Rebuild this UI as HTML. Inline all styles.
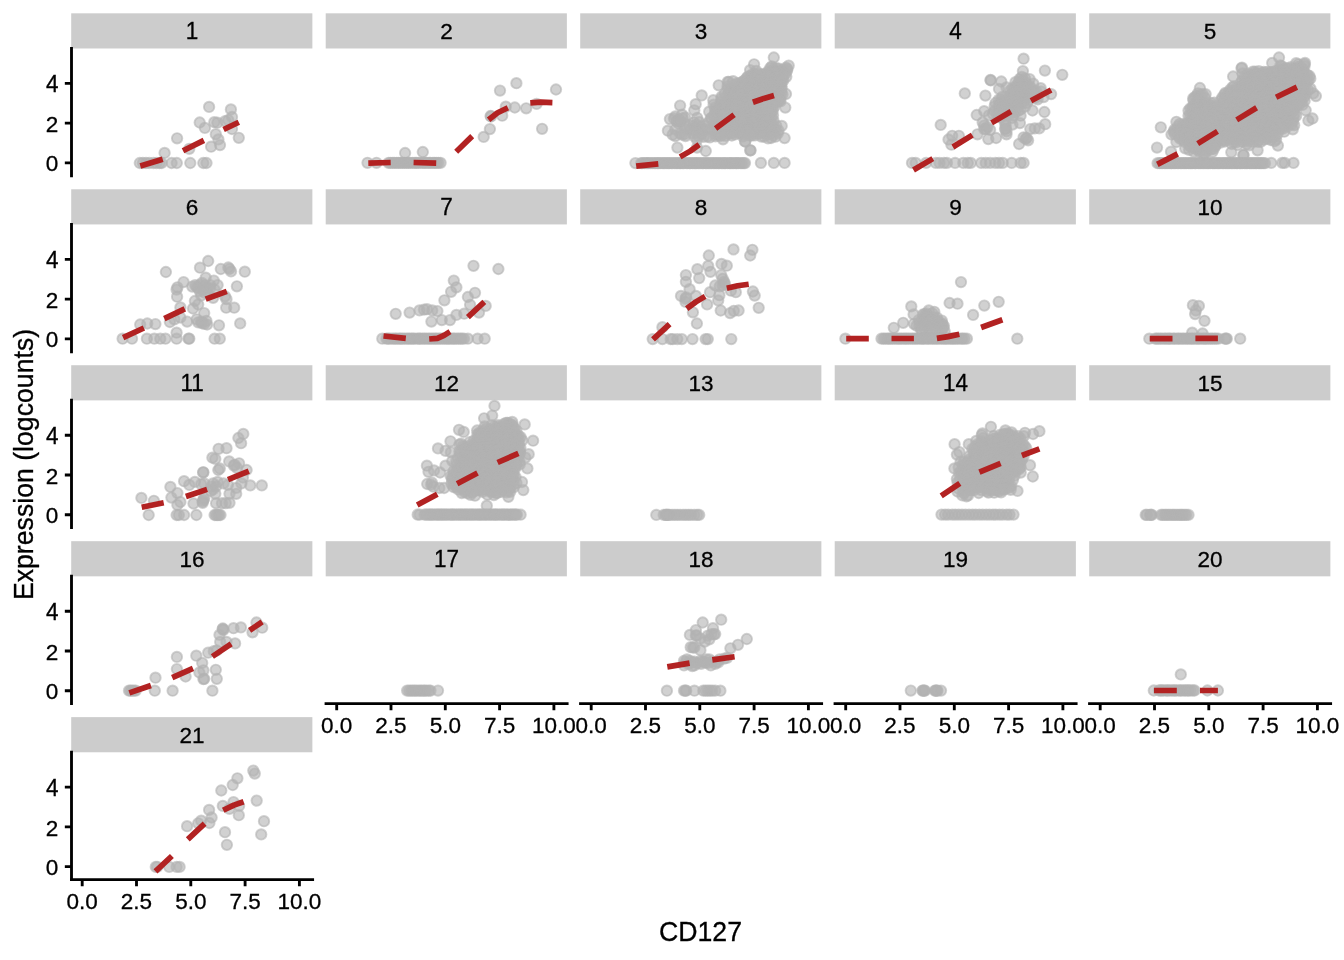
<!DOCTYPE html>
<html lang="en"><head><meta charset="utf-8"><title>CD127 expression by cluster</title>
<style>html,body{margin:0;padding:0;background:#fff}svg{display:block}text{font-family:"Liberation Sans",Arial,Helvetica,sans-serif;fill:#000;stroke:#000;stroke-width:.3px}.t{font-size:22.86px}.T{font-size:26.67px}.p circle{fill:#b3b3b3;fill-opacity:.6;stroke:#b3b3b3;stroke-opacity:.6;stroke-width:1.89}.d{fill:none;stroke:#b22222;stroke-width:5.69;stroke-linecap:butt;stroke-linejoin:round}.a{stroke:#000;stroke-width:2.85;fill:none;stroke-linecap:butt}</style></head><body>
<svg width="1344" height="960" viewBox="0 0 1344 960">
<rect width="1344" height="960" fill="#fff"/>
<g id="panel1">
<rect x="71.20" y="13.33" width="241.17" height="35.15" fill="#ccc"/>
<text class="t" transform="translate(192.08 38.83) scale(0.985 1.04)" text-anchor="middle">1</text>
<g class="p"><circle cx="209.1" cy="106.9" r="5.21"/><circle cx="230.9" cy="109.4" r="5.21"/><circle cx="232.0" cy="117.0" r="5.21"/><circle cx="199.7" cy="122.5" r="5.21"/><circle cx="204.9" cy="127.9" r="5.21"/><circle cx="214.3" cy="122.2" r="5.21"/><circle cx="217.4" cy="122.7" r="5.21"/><circle cx="225.2" cy="121.1" r="5.21"/><circle cx="228.3" cy="120.1" r="5.21"/><circle cx="232.0" cy="129.0" r="5.21"/><circle cx="238.8" cy="137.8" r="5.21"/><circle cx="215.8" cy="134.2" r="5.21"/><circle cx="218.4" cy="139.4" r="5.21"/><circle cx="220.0" cy="145.1" r="5.21"/><circle cx="211.1" cy="146.7" r="5.21"/><circle cx="177.1" cy="138.3" r="5.21"/><circle cx="189.3" cy="148.8" r="5.21"/><circle cx="164.6" cy="152.9" r="5.21"/><circle cx="139.8" cy="163.0" r="5.21"/><circle cx="142.9" cy="163.0" r="5.21"/><circle cx="146.0" cy="163.0" r="5.21"/><circle cx="149.2" cy="163.0" r="5.21"/><circle cx="153.3" cy="163.0" r="5.21"/><circle cx="156.5" cy="163.0" r="5.21"/><circle cx="159.6" cy="163.0" r="5.21"/><circle cx="161.7" cy="163.0" r="5.21"/><circle cx="171.6" cy="163.0" r="5.21"/><circle cx="176.8" cy="163.0" r="5.21"/><circle cx="190.3" cy="163.0" r="5.21"/><circle cx="203.3" cy="163.0" r="5.21"/><circle cx="206.5" cy="163.0" r="5.21"/></g>
<path class="d" d="M140.3,165.9 L162.7,159.2 M183.0,150.8 L203.9,140.4 M223.6,129.5 L238.8,122.2"/>
<path class="a" d="M71.50,177.20V46.93M64.83,162.86H71.50M64.83,123.12H71.50M64.83,83.38H71.50"/>
<text class="t" transform="translate(58.40 171.46) scale(0.985 0.98)" text-anchor="end">0</text>
<text class="t" transform="translate(58.40 131.92) scale(0.985 0.98)" text-anchor="end">2</text>
<text class="t" transform="translate(58.40 91.88) scale(0.985 1.04)" text-anchor="end">4</text>
</g>
<g id="panel2">
<rect x="325.70" y="13.33" width="241.17" height="35.15" fill="#ccc"/>
<text class="t" transform="translate(446.58 38.83) scale(0.985 0.98)" text-anchor="middle">2</text>
<g class="p"><circle cx="516.4" cy="83.2" r="5.21"/><circle cx="500.0" cy="90.6" r="5.21"/><circle cx="556.0" cy="89.5" r="5.21"/><circle cx="505.8" cy="106.7" r="5.21"/><circle cx="514.8" cy="107.5" r="5.21"/><circle cx="526.2" cy="108.3" r="5.21"/><circle cx="536.6" cy="103.9" r="5.21"/><circle cx="502.2" cy="115.7" r="5.21"/><circle cx="491.0" cy="116.5" r="5.21"/><circle cx="489.9" cy="129.1" r="5.21"/><circle cx="483.7" cy="136.9" r="5.21"/><circle cx="542.1" cy="128.8" r="5.21"/><circle cx="405.1" cy="153.0" r="5.21"/><circle cx="422.8" cy="152.0" r="5.21"/><circle cx="490.6" cy="116.0" r="5.21"/><circle cx="367.5" cy="162.8" r="5.21"/><circle cx="376.5" cy="162.8" r="5.21"/><circle cx="388.6" cy="162.8" r="5.21"/><circle cx="390.5" cy="162.8" r="5.21"/><circle cx="392.9" cy="162.8" r="5.21"/><circle cx="394.4" cy="162.8" r="5.21"/><circle cx="396.8" cy="162.8" r="5.21"/><circle cx="398.6" cy="162.8" r="5.21"/><circle cx="400.4" cy="162.8" r="5.21"/><circle cx="402.7" cy="162.8" r="5.21"/><circle cx="404.4" cy="162.8" r="5.21"/><circle cx="406.7" cy="162.8" r="5.21"/><circle cx="408.4" cy="162.8" r="5.21"/><circle cx="410.4" cy="162.8" r="5.21"/><circle cx="412.7" cy="162.8" r="5.21"/><circle cx="415.0" cy="162.8" r="5.21"/><circle cx="416.4" cy="162.8" r="5.21"/><circle cx="418.5" cy="162.8" r="5.21"/><circle cx="420.8" cy="162.8" r="5.21"/><circle cx="423.1" cy="162.8" r="5.21"/><circle cx="424.8" cy="162.8" r="5.21"/><circle cx="426.7" cy="162.8" r="5.21"/><circle cx="429.1" cy="162.8" r="5.21"/><circle cx="430.4" cy="162.8" r="5.21"/><circle cx="433.0" cy="162.8" r="5.21"/><circle cx="434.6" cy="162.8" r="5.21"/><circle cx="436.5" cy="162.8" r="5.21"/><circle cx="438.4" cy="162.8" r="5.21"/><circle cx="440.6" cy="162.8" r="5.21"/></g>
<path class="d" d="M368.3,163.1 L390.7,162.5 M413.6,162.5 L436.2,163.1 M456.2,151.7 L472.2,136.1 M488.6,119.7 L497.6,112.7 L507.9,107.8 M530.3,102.9 L541.0,102.2 L552.4,102.6"/>
</g>
<g id="panel3">
<rect x="580.20" y="13.33" width="241.17" height="35.15" fill="#ccc"/>
<text class="t" transform="translate(701.09 38.83) scale(0.985 0.98)" text-anchor="middle">3</text>
<g class="p"><circle cx="771.8" cy="66.4" r="5.21"/><circle cx="770.2" cy="68.0" r="5.21"/><circle cx="772.8" cy="68.7" r="5.21"/><circle cx="776.3" cy="68.2" r="5.21"/><circle cx="778.9" cy="68.6" r="5.21"/><circle cx="786.0" cy="67.6" r="5.21"/><circle cx="787.3" cy="68.8" r="5.21"/><circle cx="750.1" cy="70.1" r="5.21"/><circle cx="756.3" cy="70.9" r="5.21"/><circle cx="768.0" cy="71.5" r="5.21"/><circle cx="771.7" cy="71.5" r="5.21"/><circle cx="774.7" cy="71.3" r="5.21"/><circle cx="777.4" cy="71.5" r="5.21"/><circle cx="780.9" cy="70.8" r="5.21"/><circle cx="782.9" cy="70.3" r="5.21"/><circle cx="787.1" cy="70.5" r="5.21"/><circle cx="752.6" cy="74.2" r="5.21"/><circle cx="754.9" cy="74.4" r="5.21"/><circle cx="758.6" cy="73.8" r="5.21"/><circle cx="761.8" cy="74.3" r="5.21"/><circle cx="764.6" cy="74.1" r="5.21"/><circle cx="767.2" cy="73.6" r="5.21"/><circle cx="770.7" cy="74.1" r="5.21"/><circle cx="773.9" cy="73.9" r="5.21"/><circle cx="775.7" cy="72.7" r="5.21"/><circle cx="778.9" cy="72.8" r="5.21"/><circle cx="782.3" cy="73.8" r="5.21"/><circle cx="785.5" cy="73.5" r="5.21"/><circle cx="748.0" cy="76.5" r="5.21"/><circle cx="750.7" cy="76.1" r="5.21"/><circle cx="753.0" cy="76.9" r="5.21"/><circle cx="757.5" cy="76.9" r="5.21"/><circle cx="759.6" cy="76.7" r="5.21"/><circle cx="762.6" cy="75.7" r="5.21"/><circle cx="766.5" cy="75.6" r="5.21"/><circle cx="768.0" cy="76.2" r="5.21"/><circle cx="771.0" cy="76.7" r="5.21"/><circle cx="775.4" cy="76.5" r="5.21"/><circle cx="778.4" cy="76.1" r="5.21"/><circle cx="779.8" cy="76.1" r="5.21"/><circle cx="783.3" cy="75.5" r="5.21"/><circle cx="786.3" cy="76.8" r="5.21"/><circle cx="746.6" cy="78.0" r="5.21"/><circle cx="749.1" cy="79.2" r="5.21"/><circle cx="751.8" cy="78.0" r="5.21"/><circle cx="754.5" cy="78.7" r="5.21"/><circle cx="757.8" cy="79.2" r="5.21"/><circle cx="760.7" cy="79.1" r="5.21"/><circle cx="764.3" cy="78.6" r="5.21"/><circle cx="766.6" cy="78.2" r="5.21"/><circle cx="770.2" cy="78.3" r="5.21"/><circle cx="774.1" cy="78.7" r="5.21"/><circle cx="775.6" cy="78.0" r="5.21"/><circle cx="778.4" cy="78.3" r="5.21"/><circle cx="782.3" cy="79.5" r="5.21"/><circle cx="742.3" cy="82.0" r="5.21"/><circle cx="744.2" cy="80.7" r="5.21"/><circle cx="751.1" cy="81.6" r="5.21"/><circle cx="753.6" cy="81.5" r="5.21"/><circle cx="757.2" cy="80.9" r="5.21"/><circle cx="759.9" cy="81.0" r="5.21"/><circle cx="762.2" cy="81.6" r="5.21"/><circle cx="765.0" cy="80.6" r="5.21"/><circle cx="768.8" cy="81.2" r="5.21"/><circle cx="771.8" cy="80.5" r="5.21"/><circle cx="774.6" cy="82.2" r="5.21"/><circle cx="778.4" cy="81.3" r="5.21"/><circle cx="780.2" cy="82.2" r="5.21"/><circle cx="783.3" cy="80.5" r="5.21"/><circle cx="734.5" cy="84.8" r="5.21"/><circle cx="737.0" cy="83.5" r="5.21"/><circle cx="739.5" cy="83.2" r="5.21"/><circle cx="743.0" cy="84.7" r="5.21"/><circle cx="746.6" cy="84.9" r="5.21"/><circle cx="748.9" cy="83.4" r="5.21"/><circle cx="752.6" cy="83.1" r="5.21"/><circle cx="754.9" cy="83.8" r="5.21"/><circle cx="757.6" cy="83.1" r="5.21"/><circle cx="760.9" cy="84.8" r="5.21"/><circle cx="765.0" cy="83.5" r="5.21"/><circle cx="767.7" cy="84.6" r="5.21"/><circle cx="769.4" cy="83.9" r="5.21"/><circle cx="773.9" cy="83.4" r="5.21"/><circle cx="776.9" cy="83.1" r="5.21"/><circle cx="779.7" cy="84.5" r="5.21"/><circle cx="781.3" cy="83.2" r="5.21"/><circle cx="727.5" cy="86.4" r="5.21"/><circle cx="736.2" cy="87.1" r="5.21"/><circle cx="738.4" cy="86.3" r="5.21"/><circle cx="742.2" cy="85.8" r="5.21"/><circle cx="745.1" cy="86.1" r="5.21"/><circle cx="746.8" cy="86.7" r="5.21"/><circle cx="751.5" cy="87.3" r="5.21"/><circle cx="753.2" cy="85.9" r="5.21"/><circle cx="756.7" cy="87.0" r="5.21"/><circle cx="759.2" cy="86.5" r="5.21"/><circle cx="763.0" cy="87.0" r="5.21"/><circle cx="766.0" cy="85.9" r="5.21"/><circle cx="768.3" cy="86.7" r="5.21"/><circle cx="772.1" cy="86.1" r="5.21"/><circle cx="774.2" cy="86.0" r="5.21"/><circle cx="777.8" cy="86.3" r="5.21"/><circle cx="781.6" cy="86.6" r="5.21"/><circle cx="727.7" cy="89.0" r="5.21"/><circle cx="730.6" cy="88.8" r="5.21"/><circle cx="734.4" cy="88.7" r="5.21"/><circle cx="736.9" cy="89.5" r="5.21"/><circle cx="739.8" cy="88.7" r="5.21"/><circle cx="743.3" cy="88.4" r="5.21"/><circle cx="746.0" cy="89.3" r="5.21"/><circle cx="748.4" cy="88.6" r="5.21"/><circle cx="752.0" cy="88.8" r="5.21"/><circle cx="756.0" cy="88.9" r="5.21"/><circle cx="757.9" cy="89.1" r="5.21"/><circle cx="762.1" cy="89.0" r="5.21"/><circle cx="764.6" cy="88.7" r="5.21"/><circle cx="767.9" cy="89.1" r="5.21"/><circle cx="770.0" cy="89.9" r="5.21"/><circle cx="772.6" cy="88.3" r="5.21"/><circle cx="776.4" cy="89.9" r="5.21"/><circle cx="779.4" cy="89.0" r="5.21"/><circle cx="781.5" cy="88.8" r="5.21"/><circle cx="729.1" cy="91.3" r="5.21"/><circle cx="732.7" cy="91.6" r="5.21"/><circle cx="735.2" cy="92.2" r="5.21"/><circle cx="737.8" cy="91.9" r="5.21"/><circle cx="740.8" cy="92.4" r="5.21"/><circle cx="744.8" cy="91.9" r="5.21"/><circle cx="747.3" cy="91.7" r="5.21"/><circle cx="750.5" cy="92.1" r="5.21"/><circle cx="753.6" cy="91.0" r="5.21"/><circle cx="756.6" cy="91.3" r="5.21"/><circle cx="760.2" cy="91.7" r="5.21"/><circle cx="762.6" cy="91.1" r="5.21"/><circle cx="765.5" cy="91.1" r="5.21"/><circle cx="768.7" cy="91.0" r="5.21"/><circle cx="770.9" cy="92.2" r="5.21"/><circle cx="774.7" cy="91.0" r="5.21"/><circle cx="777.4" cy="92.6" r="5.21"/><circle cx="781.3" cy="92.7" r="5.21"/><circle cx="724.8" cy="93.6" r="5.21"/><circle cx="731.9" cy="93.8" r="5.21"/><circle cx="733.5" cy="94.5" r="5.21"/><circle cx="736.9" cy="95.1" r="5.21"/><circle cx="740.3" cy="95.1" r="5.21"/><circle cx="744.1" cy="94.7" r="5.21"/><circle cx="746.7" cy="94.0" r="5.21"/><circle cx="749.3" cy="94.2" r="5.21"/><circle cx="752.1" cy="93.8" r="5.21"/><circle cx="754.4" cy="95.0" r="5.21"/><circle cx="758.4" cy="95.3" r="5.21"/><circle cx="761.5" cy="94.1" r="5.21"/><circle cx="763.3" cy="93.8" r="5.21"/><circle cx="767.0" cy="94.5" r="5.21"/><circle cx="769.5" cy="93.9" r="5.21"/><circle cx="772.3" cy="93.5" r="5.21"/><circle cx="775.5" cy="94.2" r="5.21"/><circle cx="779.3" cy="94.6" r="5.21"/><circle cx="782.4" cy="94.4" r="5.21"/><circle cx="786.0" cy="94.0" r="5.21"/><circle cx="726.5" cy="96.6" r="5.21"/><circle cx="730.2" cy="96.2" r="5.21"/><circle cx="733.5" cy="96.4" r="5.21"/><circle cx="735.9" cy="97.1" r="5.21"/><circle cx="739.2" cy="96.5" r="5.21"/><circle cx="741.3" cy="96.2" r="5.21"/><circle cx="745.2" cy="97.4" r="5.21"/><circle cx="748.3" cy="97.5" r="5.21"/><circle cx="751.1" cy="97.0" r="5.21"/><circle cx="753.0" cy="96.6" r="5.21"/><circle cx="756.4" cy="97.5" r="5.21"/><circle cx="760.3" cy="97.4" r="5.21"/><circle cx="762.8" cy="96.9" r="5.21"/><circle cx="765.7" cy="96.6" r="5.21"/><circle cx="769.5" cy="96.5" r="5.21"/><circle cx="770.8" cy="96.6" r="5.21"/><circle cx="775.1" cy="97.8" r="5.21"/><circle cx="777.4" cy="97.7" r="5.21"/><circle cx="780.2" cy="97.8" r="5.21"/><circle cx="721.5" cy="98.8" r="5.21"/><circle cx="728.6" cy="98.9" r="5.21"/><circle cx="730.9" cy="100.2" r="5.21"/><circle cx="734.9" cy="98.9" r="5.21"/><circle cx="737.9" cy="100.5" r="5.21"/><circle cx="739.6" cy="99.0" r="5.21"/><circle cx="743.8" cy="100.2" r="5.21"/><circle cx="746.8" cy="99.9" r="5.21"/><circle cx="748.4" cy="98.9" r="5.21"/><circle cx="751.6" cy="99.3" r="5.21"/><circle cx="754.3" cy="99.2" r="5.21"/><circle cx="758.6" cy="99.4" r="5.21"/><circle cx="762.0" cy="99.7" r="5.21"/><circle cx="764.4" cy="98.8" r="5.21"/><circle cx="767.1" cy="100.1" r="5.21"/><circle cx="770.5" cy="99.7" r="5.21"/><circle cx="773.8" cy="98.9" r="5.21"/><circle cx="775.6" cy="98.8" r="5.21"/><circle cx="779.6" cy="100.5" r="5.21"/><circle cx="720.9" cy="102.0" r="5.21"/><circle cx="723.5" cy="103.0" r="5.21"/><circle cx="727.4" cy="101.4" r="5.21"/><circle cx="729.2" cy="103.0" r="5.21"/><circle cx="732.5" cy="103.0" r="5.21"/><circle cx="735.6" cy="102.3" r="5.21"/><circle cx="739.1" cy="102.5" r="5.21"/><circle cx="741.4" cy="101.6" r="5.21"/><circle cx="745.0" cy="102.7" r="5.21"/><circle cx="747.6" cy="102.8" r="5.21"/><circle cx="750.0" cy="102.2" r="5.21"/><circle cx="753.2" cy="101.7" r="5.21"/><circle cx="757.0" cy="102.9" r="5.21"/><circle cx="759.0" cy="101.8" r="5.21"/><circle cx="762.7" cy="101.7" r="5.21"/><circle cx="765.1" cy="103.1" r="5.21"/><circle cx="768.0" cy="103.1" r="5.21"/><circle cx="771.5" cy="103.1" r="5.21"/><circle cx="775.1" cy="102.1" r="5.21"/><circle cx="777.9" cy="101.6" r="5.21"/><circle cx="780.5" cy="101.4" r="5.21"/><circle cx="713.6" cy="104.7" r="5.21"/><circle cx="719.5" cy="105.5" r="5.21"/><circle cx="722.4" cy="104.8" r="5.21"/><circle cx="725.4" cy="104.1" r="5.21"/><circle cx="728.7" cy="105.3" r="5.21"/><circle cx="730.7" cy="104.7" r="5.21"/><circle cx="734.4" cy="104.7" r="5.21"/><circle cx="737.9" cy="104.3" r="5.21"/><circle cx="740.7" cy="104.7" r="5.21"/><circle cx="744.0" cy="104.0" r="5.21"/><circle cx="745.6" cy="105.4" r="5.21"/><circle cx="749.2" cy="104.2" r="5.21"/><circle cx="752.2" cy="105.3" r="5.21"/><circle cx="755.4" cy="105.5" r="5.21"/><circle cx="758.0" cy="105.7" r="5.21"/><circle cx="761.5" cy="104.7" r="5.21"/><circle cx="763.5" cy="105.7" r="5.21"/><circle cx="766.4" cy="104.5" r="5.21"/><circle cx="769.3" cy="104.7" r="5.21"/><circle cx="773.5" cy="104.6" r="5.21"/><circle cx="715.2" cy="107.4" r="5.21"/><circle cx="720.4" cy="108.1" r="5.21"/><circle cx="723.4" cy="107.0" r="5.21"/><circle cx="726.1" cy="106.6" r="5.21"/><circle cx="729.3" cy="107.0" r="5.21"/><circle cx="732.6" cy="107.4" r="5.21"/><circle cx="736.0" cy="107.2" r="5.21"/><circle cx="739.3" cy="106.7" r="5.21"/><circle cx="742.4" cy="108.0" r="5.21"/><circle cx="745.3" cy="107.7" r="5.21"/><circle cx="746.8" cy="108.3" r="5.21"/><circle cx="750.2" cy="106.8" r="5.21"/><circle cx="753.2" cy="108.0" r="5.21"/><circle cx="756.0" cy="108.2" r="5.21"/><circle cx="759.1" cy="108.2" r="5.21"/><circle cx="763.2" cy="107.8" r="5.21"/><circle cx="766.2" cy="108.1" r="5.21"/><circle cx="769.0" cy="107.5" r="5.21"/><circle cx="771.6" cy="108.2" r="5.21"/><circle cx="774.2" cy="107.0" r="5.21"/><circle cx="715.3" cy="110.3" r="5.21"/><circle cx="719.9" cy="109.8" r="5.21"/><circle cx="722.2" cy="110.1" r="5.21"/><circle cx="724.3" cy="110.5" r="5.21"/><circle cx="727.9" cy="110.7" r="5.21"/><circle cx="731.1" cy="110.1" r="5.21"/><circle cx="733.6" cy="110.0" r="5.21"/><circle cx="737.3" cy="110.7" r="5.21"/><circle cx="740.8" cy="109.9" r="5.21"/><circle cx="742.8" cy="110.1" r="5.21"/><circle cx="746.4" cy="110.6" r="5.21"/><circle cx="748.8" cy="109.7" r="5.21"/><circle cx="752.4" cy="110.6" r="5.21"/><circle cx="755.6" cy="110.8" r="5.21"/><circle cx="757.4" cy="109.7" r="5.21"/><circle cx="760.6" cy="110.9" r="5.21"/><circle cx="764.5" cy="110.6" r="5.21"/><circle cx="767.4" cy="110.3" r="5.21"/><circle cx="770.5" cy="110.3" r="5.21"/><circle cx="772.7" cy="110.4" r="5.21"/><circle cx="715.4" cy="111.9" r="5.21"/><circle cx="716.8" cy="112.0" r="5.21"/><circle cx="720.8" cy="113.5" r="5.21"/><circle cx="722.8" cy="112.5" r="5.21"/><circle cx="727.5" cy="113.6" r="5.21"/><circle cx="729.5" cy="112.0" r="5.21"/><circle cx="732.2" cy="112.1" r="5.21"/><circle cx="734.8" cy="113.0" r="5.21"/><circle cx="739.5" cy="112.0" r="5.21"/><circle cx="741.0" cy="111.8" r="5.21"/><circle cx="744.2" cy="113.1" r="5.21"/><circle cx="746.9" cy="113.2" r="5.21"/><circle cx="751.3" cy="113.1" r="5.21"/><circle cx="753.9" cy="113.1" r="5.21"/><circle cx="757.4" cy="112.3" r="5.21"/><circle cx="760.1" cy="111.8" r="5.21"/><circle cx="762.9" cy="113.3" r="5.21"/><circle cx="765.3" cy="113.1" r="5.21"/><circle cx="769.3" cy="112.7" r="5.21"/><circle cx="771.4" cy="112.8" r="5.21"/><circle cx="714.0" cy="115.9" r="5.21"/><circle cx="715.8" cy="115.2" r="5.21"/><circle cx="718.9" cy="115.6" r="5.21"/><circle cx="722.9" cy="115.9" r="5.21"/><circle cx="724.3" cy="114.9" r="5.21"/><circle cx="728.3" cy="115.9" r="5.21"/><circle cx="730.3" cy="115.9" r="5.21"/><circle cx="734.8" cy="115.4" r="5.21"/><circle cx="737.8" cy="115.9" r="5.21"/><circle cx="740.9" cy="115.0" r="5.21"/><circle cx="743.3" cy="115.8" r="5.21"/><circle cx="746.6" cy="116.1" r="5.21"/><circle cx="749.4" cy="115.6" r="5.21"/><circle cx="751.6" cy="114.9" r="5.21"/><circle cx="755.7" cy="115.2" r="5.21"/><circle cx="758.7" cy="115.8" r="5.21"/><circle cx="761.3" cy="116.0" r="5.21"/><circle cx="764.2" cy="115.3" r="5.21"/><circle cx="766.6" cy="114.8" r="5.21"/><circle cx="770.5" cy="115.1" r="5.21"/><circle cx="773.0" cy="115.3" r="5.21"/><circle cx="711.6" cy="118.0" r="5.21"/><circle cx="718.1" cy="118.5" r="5.21"/><circle cx="720.2" cy="117.1" r="5.21"/><circle cx="723.1" cy="117.2" r="5.21"/><circle cx="726.8" cy="118.6" r="5.21"/><circle cx="730.5" cy="118.7" r="5.21"/><circle cx="732.8" cy="117.7" r="5.21"/><circle cx="736.5" cy="117.5" r="5.21"/><circle cx="738.9" cy="118.7" r="5.21"/><circle cx="741.5" cy="117.8" r="5.21"/><circle cx="745.5" cy="118.8" r="5.21"/><circle cx="746.8" cy="117.5" r="5.21"/><circle cx="751.4" cy="118.6" r="5.21"/><circle cx="752.9" cy="118.4" r="5.21"/><circle cx="756.9" cy="118.8" r="5.21"/><circle cx="759.0" cy="118.4" r="5.21"/><circle cx="763.0" cy="117.6" r="5.21"/><circle cx="766.1" cy="117.2" r="5.21"/><circle cx="768.2" cy="117.2" r="5.21"/><circle cx="771.1" cy="117.5" r="5.21"/><circle cx="715.5" cy="120.0" r="5.21"/><circle cx="719.6" cy="120.6" r="5.21"/><circle cx="722.8" cy="120.1" r="5.21"/><circle cx="724.5" cy="120.1" r="5.21"/><circle cx="727.9" cy="119.9" r="5.21"/><circle cx="730.8" cy="121.3" r="5.21"/><circle cx="735.0" cy="119.7" r="5.21"/><circle cx="737.5" cy="120.0" r="5.21"/><circle cx="739.8" cy="120.1" r="5.21"/><circle cx="742.9" cy="121.4" r="5.21"/><circle cx="746.9" cy="119.8" r="5.21"/><circle cx="749.9" cy="119.7" r="5.21"/><circle cx="751.8" cy="121.4" r="5.21"/><circle cx="755.7" cy="120.2" r="5.21"/><circle cx="757.3" cy="121.1" r="5.21"/><circle cx="760.6" cy="120.4" r="5.21"/><circle cx="763.7" cy="120.7" r="5.21"/><circle cx="766.6" cy="121.0" r="5.21"/><circle cx="769.6" cy="119.8" r="5.21"/><circle cx="773.4" cy="120.5" r="5.21"/><circle cx="714.6" cy="123.8" r="5.21"/><circle cx="717.1" cy="123.7" r="5.21"/><circle cx="720.1" cy="122.9" r="5.21"/><circle cx="722.8" cy="123.2" r="5.21"/><circle cx="726.7" cy="122.5" r="5.21"/><circle cx="730.2" cy="123.8" r="5.21"/><circle cx="733.0" cy="122.9" r="5.21"/><circle cx="734.9" cy="123.8" r="5.21"/><circle cx="738.7" cy="123.2" r="5.21"/><circle cx="741.7" cy="122.3" r="5.21"/><circle cx="744.2" cy="122.6" r="5.21"/><circle cx="747.2" cy="123.7" r="5.21"/><circle cx="749.9" cy="123.5" r="5.21"/><circle cx="752.8" cy="123.3" r="5.21"/><circle cx="756.7" cy="123.5" r="5.21"/><circle cx="760.3" cy="123.5" r="5.21"/><circle cx="762.0" cy="123.1" r="5.21"/><circle cx="765.3" cy="122.5" r="5.21"/><circle cx="768.0" cy="123.3" r="5.21"/><circle cx="771.0" cy="123.3" r="5.21"/><circle cx="714.0" cy="126.5" r="5.21"/><circle cx="716.0" cy="126.0" r="5.21"/><circle cx="719.2" cy="125.0" r="5.21"/><circle cx="722.2" cy="124.9" r="5.21"/><circle cx="726.0" cy="126.2" r="5.21"/><circle cx="728.4" cy="126.3" r="5.21"/><circle cx="731.9" cy="124.9" r="5.21"/><circle cx="733.7" cy="126.1" r="5.21"/><circle cx="737.2" cy="126.5" r="5.21"/><circle cx="739.7" cy="125.8" r="5.21"/><circle cx="744.0" cy="125.4" r="5.21"/><circle cx="746.4" cy="125.1" r="5.21"/><circle cx="750.0" cy="125.8" r="5.21"/><circle cx="752.1" cy="125.8" r="5.21"/><circle cx="754.5" cy="125.1" r="5.21"/><circle cx="758.0" cy="125.4" r="5.21"/><circle cx="760.4" cy="125.8" r="5.21"/><circle cx="764.4" cy="125.9" r="5.21"/><circle cx="766.6" cy="126.1" r="5.21"/><circle cx="770.3" cy="126.0" r="5.21"/><circle cx="772.8" cy="125.3" r="5.21"/><circle cx="776.2" cy="125.5" r="5.21"/><circle cx="781.7" cy="125.9" r="5.21"/><circle cx="718.1" cy="127.7" r="5.21"/><circle cx="720.4" cy="128.7" r="5.21"/><circle cx="724.3" cy="128.9" r="5.21"/><circle cx="727.1" cy="128.8" r="5.21"/><circle cx="729.6" cy="128.9" r="5.21"/><circle cx="733.4" cy="127.7" r="5.21"/><circle cx="734.8" cy="128.8" r="5.21"/><circle cx="738.7" cy="129.2" r="5.21"/><circle cx="741.5" cy="128.9" r="5.21"/><circle cx="744.9" cy="128.1" r="5.21"/><circle cx="747.6" cy="128.8" r="5.21"/><circle cx="750.5" cy="128.5" r="5.21"/><circle cx="753.3" cy="128.9" r="5.21"/><circle cx="756.7" cy="128.3" r="5.21"/><circle cx="759.3" cy="127.7" r="5.21"/><circle cx="762.8" cy="127.6" r="5.21"/><circle cx="765.4" cy="129.0" r="5.21"/><circle cx="769.5" cy="127.8" r="5.21"/><circle cx="772.4" cy="127.5" r="5.21"/><circle cx="774.8" cy="128.4" r="5.21"/><circle cx="714.0" cy="130.9" r="5.21"/><circle cx="716.4" cy="131.9" r="5.21"/><circle cx="719.2" cy="131.5" r="5.21"/><circle cx="721.8" cy="131.8" r="5.21"/><circle cx="725.2" cy="130.3" r="5.21"/><circle cx="728.5" cy="131.5" r="5.21"/><circle cx="731.9" cy="130.8" r="5.21"/><circle cx="733.8" cy="131.0" r="5.21"/><circle cx="736.6" cy="130.4" r="5.21"/><circle cx="740.4" cy="130.7" r="5.21"/><circle cx="743.4" cy="130.1" r="5.21"/><circle cx="746.7" cy="130.6" r="5.21"/><circle cx="748.3" cy="130.6" r="5.21"/><circle cx="752.3" cy="131.3" r="5.21"/><circle cx="755.2" cy="131.1" r="5.21"/><circle cx="758.4" cy="131.0" r="5.21"/><circle cx="761.3" cy="130.8" r="5.21"/><circle cx="763.6" cy="131.4" r="5.21"/><circle cx="766.4" cy="130.4" r="5.21"/><circle cx="770.7" cy="131.2" r="5.21"/><circle cx="772.4" cy="130.1" r="5.21"/><circle cx="775.8" cy="131.4" r="5.21"/><circle cx="778.6" cy="130.6" r="5.21"/><circle cx="715.4" cy="134.2" r="5.21"/><circle cx="718.4" cy="134.2" r="5.21"/><circle cx="720.9" cy="134.4" r="5.21"/><circle cx="724.5" cy="133.1" r="5.21"/><circle cx="727.1" cy="133.1" r="5.21"/><circle cx="730.3" cy="133.6" r="5.21"/><circle cx="732.2" cy="133.0" r="5.21"/><circle cx="735.1" cy="134.4" r="5.21"/><circle cx="738.8" cy="132.9" r="5.21"/><circle cx="741.5" cy="133.4" r="5.21"/><circle cx="744.0" cy="134.2" r="5.21"/><circle cx="747.2" cy="133.0" r="5.21"/><circle cx="750.2" cy="132.7" r="5.21"/><circle cx="753.4" cy="133.0" r="5.21"/><circle cx="755.9" cy="133.2" r="5.21"/><circle cx="759.0" cy="133.5" r="5.21"/><circle cx="763.2" cy="133.0" r="5.21"/><circle cx="766.1" cy="133.4" r="5.21"/><circle cx="768.1" cy="134.4" r="5.21"/><circle cx="771.2" cy="133.5" r="5.21"/><circle cx="777.8" cy="133.3" r="5.21"/><circle cx="715.5" cy="136.3" r="5.21"/><circle cx="719.2" cy="135.8" r="5.21"/><circle cx="721.8" cy="135.7" r="5.21"/><circle cx="725.6" cy="135.8" r="5.21"/><circle cx="731.8" cy="135.5" r="5.21"/><circle cx="742.9" cy="136.4" r="5.21"/><circle cx="749.6" cy="135.4" r="5.21"/><circle cx="751.6" cy="135.6" r="5.21"/><circle cx="755.0" cy="135.4" r="5.21"/><circle cx="761.3" cy="136.6" r="5.21"/><circle cx="764.1" cy="136.5" r="5.21"/><circle cx="773.4" cy="135.4" r="5.21"/><circle cx="775.5" cy="136.7" r="5.21"/><circle cx="723.0" cy="139.3" r="5.21"/><circle cx="768.0" cy="138.4" r="5.21"/><circle cx="771.1" cy="138.0" r="5.21"/><circle cx="697.2" cy="117.8" r="5.21"/><circle cx="694.1" cy="122.3" r="5.21"/><circle cx="699.2" cy="122.0" r="5.21"/><circle cx="707.9" cy="123.0" r="5.21"/><circle cx="688.9" cy="125.1" r="5.21"/><circle cx="693.2" cy="126.2" r="5.21"/><circle cx="696.8" cy="125.3" r="5.21"/><circle cx="700.8" cy="126.6" r="5.21"/><circle cx="704.4" cy="125.6" r="5.21"/><circle cx="690.3" cy="129.3" r="5.21"/><circle cx="694.8" cy="129.2" r="5.21"/><circle cx="698.8" cy="130.4" r="5.21"/><circle cx="702.5" cy="129.9" r="5.21"/><circle cx="706.9" cy="129.5" r="5.21"/><circle cx="685.0" cy="134.1" r="5.21"/><circle cx="693.1" cy="133.4" r="5.21"/><circle cx="696.6" cy="132.8" r="5.21"/><circle cx="701.7" cy="134.0" r="5.21"/><circle cx="694.5" cy="136.4" r="5.21"/><circle cx="698.6" cy="136.2" r="5.21"/><circle cx="703.8" cy="136.8" r="5.21"/><circle cx="707.4" cy="136.5" r="5.21"/><circle cx="697.0" cy="139.8" r="5.21"/><circle cx="674.0" cy="118.5" r="5.21"/><circle cx="676.7" cy="121.2" r="5.21"/><circle cx="678.7" cy="119.1" r="5.21"/><circle cx="680.7" cy="121.8" r="5.21"/><circle cx="682.8" cy="118.5" r="5.21"/><circle cx="678.0" cy="123.2" r="5.21"/><circle cx="675.3" cy="116.4" r="5.21"/><circle cx="684.1" cy="123.2" r="5.21"/><circle cx="682.1" cy="114.7" r="5.21"/><circle cx="685.1" cy="117.4" r="5.21"/><circle cx="680.1" cy="133.4" r="5.21"/><circle cx="675.3" cy="129.3" r="5.21"/><circle cx="672.6" cy="134.7" r="5.21"/><circle cx="677.4" cy="120.9" r="5.21"/><circle cx="679.4" cy="120.5" r="5.21"/><circle cx="686.2" cy="129.3" r="5.21"/><circle cx="685.5" cy="136.1" r="5.21"/><circle cx="669.9" cy="119.1" r="5.21"/><circle cx="667.9" cy="130.7" r="5.21"/><circle cx="677.4" cy="147.6" r="5.21"/><circle cx="680.1" cy="105.6" r="5.21"/><circle cx="675.3" cy="136.1" r="5.21"/><circle cx="682.1" cy="134.7" r="5.21"/><circle cx="695.7" cy="104.2" r="5.21"/><circle cx="694.3" cy="110.3" r="5.21"/><circle cx="701.7" cy="95.4" r="5.21"/><circle cx="713.3" cy="100.2" r="5.21"/><circle cx="718.7" cy="85.3" r="5.21"/><circle cx="721.4" cy="96.8" r="5.21"/><circle cx="728.8" cy="81.9" r="5.21"/><circle cx="745.1" cy="141.5" r="5.21"/><circle cx="750.5" cy="150.3" r="5.21"/><circle cx="705.8" cy="151.0" r="5.21"/><circle cx="697.0" cy="147.6" r="5.21"/><circle cx="710.6" cy="118.5" r="5.21"/><circle cx="711.2" cy="129.3" r="5.21"/><circle cx="709.9" cy="137.4" r="5.21"/><circle cx="709.2" cy="111.7" r="5.21"/><circle cx="727.7" cy="81.9" r="5.21"/><circle cx="733.1" cy="81.2" r="5.21"/><circle cx="754.1" cy="64.3" r="5.21"/><circle cx="773.8" cy="57.5" r="5.21"/><circle cx="785.3" cy="107.6" r="5.21"/><circle cx="784.6" cy="138.1" r="5.21"/><circle cx="745.3" cy="141.5" r="5.21"/><circle cx="750.3" cy="150.3" r="5.21"/><circle cx="788.7" cy="65.6" r="5.21"/><circle cx="635.4" cy="163.1" r="5.21"/><circle cx="641.2" cy="163.1" r="5.21"/><circle cx="642.4" cy="163.1" r="5.21"/><circle cx="644.5" cy="163.1" r="5.21"/><circle cx="646.2" cy="163.1" r="5.21"/><circle cx="647.4" cy="163.1" r="5.21"/><circle cx="648.8" cy="163.1" r="5.21"/><circle cx="650.5" cy="163.1" r="5.21"/><circle cx="652.3" cy="163.1" r="5.21"/><circle cx="654.2" cy="163.1" r="5.21"/><circle cx="655.6" cy="163.1" r="5.21"/><circle cx="657.4" cy="163.1" r="5.21"/><circle cx="658.5" cy="163.1" r="5.21"/><circle cx="660.2" cy="163.1" r="5.21"/><circle cx="662.1" cy="163.1" r="5.21"/><circle cx="663.6" cy="163.1" r="5.21"/><circle cx="665.0" cy="163.1" r="5.21"/><circle cx="666.8" cy="163.1" r="5.21"/><circle cx="668.2" cy="163.1" r="5.21"/><circle cx="669.5" cy="163.1" r="5.21"/><circle cx="671.4" cy="163.1" r="5.21"/><circle cx="672.7" cy="163.1" r="5.21"/><circle cx="674.8" cy="163.1" r="5.21"/><circle cx="676.2" cy="163.1" r="5.21"/><circle cx="677.9" cy="163.1" r="5.21"/><circle cx="679.6" cy="163.1" r="5.21"/><circle cx="680.9" cy="163.1" r="5.21"/><circle cx="682.7" cy="163.1" r="5.21"/><circle cx="683.9" cy="163.1" r="5.21"/><circle cx="686.2" cy="163.1" r="5.21"/><circle cx="687.6" cy="163.1" r="5.21"/><circle cx="689.5" cy="163.1" r="5.21"/><circle cx="690.3" cy="163.1" r="5.21"/><circle cx="692.4" cy="163.1" r="5.21"/><circle cx="694.1" cy="163.1" r="5.21"/><circle cx="695.4" cy="163.1" r="5.21"/><circle cx="696.8" cy="163.1" r="5.21"/><circle cx="698.4" cy="163.1" r="5.21"/><circle cx="700.0" cy="163.1" r="5.21"/><circle cx="702.1" cy="163.1" r="5.21"/><circle cx="703.2" cy="163.1" r="5.21"/><circle cx="705.4" cy="163.1" r="5.21"/><circle cx="706.6" cy="163.1" r="5.21"/><circle cx="708.3" cy="163.1" r="5.21"/><circle cx="710.0" cy="163.1" r="5.21"/><circle cx="711.5" cy="163.1" r="5.21"/><circle cx="713.2" cy="163.1" r="5.21"/><circle cx="714.8" cy="163.1" r="5.21"/><circle cx="716.2" cy="163.1" r="5.21"/><circle cx="718.1" cy="163.1" r="5.21"/><circle cx="719.3" cy="163.1" r="5.21"/><circle cx="721.3" cy="163.1" r="5.21"/><circle cx="722.9" cy="163.1" r="5.21"/><circle cx="724.5" cy="163.1" r="5.21"/><circle cx="725.7" cy="163.1" r="5.21"/><circle cx="727.7" cy="163.1" r="5.21"/><circle cx="729.5" cy="163.1" r="5.21"/><circle cx="730.7" cy="163.1" r="5.21"/><circle cx="732.1" cy="163.1" r="5.21"/><circle cx="733.9" cy="163.1" r="5.21"/><circle cx="735.9" cy="163.1" r="5.21"/><circle cx="736.8" cy="163.1" r="5.21"/><circle cx="738.3" cy="163.1" r="5.21"/><circle cx="740.3" cy="163.1" r="5.21"/><circle cx="742.0" cy="163.1" r="5.21"/><circle cx="743.7" cy="163.1" r="5.21"/><circle cx="745.0" cy="163.1" r="5.21"/><circle cx="760.9" cy="162.9" r="5.21"/><circle cx="773.8" cy="162.9" r="5.21"/><circle cx="784.6" cy="162.9" r="5.21"/></g>
<path class="d" d="M636.2,166.2 L658.3,163.9 M680.1,156.9 L690.2,151.1 L699.2,144.6 M715.6,128.5 L734.1,114.8 M752.9,102.3 L763.9,98.4 L774.0,95.5"/>
</g>
<g id="panel4">
<rect x="834.70" y="13.33" width="241.17" height="35.15" fill="#ccc"/>
<text class="t" transform="translate(955.59 38.83) scale(0.985 1.04)" text-anchor="middle">4</text>
<g class="p"><circle cx="1023.6" cy="58.7" r="5.21"/><circle cx="1022.9" cy="71.1" r="5.21"/><circle cx="1044.9" cy="70.6" r="5.21"/><circle cx="1062.3" cy="74.8" r="5.21"/><circle cx="990.4" cy="80.0" r="5.21"/><circle cx="1001.3" cy="81.5" r="5.21"/><circle cx="964.8" cy="93.4" r="5.21"/><circle cx="985.4" cy="95.6" r="5.21"/><circle cx="999.0" cy="88.9" r="5.21"/><circle cx="1006.5" cy="87.4" r="5.21"/><circle cx="1015.4" cy="82.2" r="5.21"/><circle cx="1025.1" cy="78.5" r="5.21"/><circle cx="1033.3" cy="83.7" r="5.21"/><circle cx="1040.7" cy="88.2" r="5.21"/><circle cx="1051.1" cy="94.1" r="5.21"/><circle cx="1043.7" cy="97.1" r="5.21"/><circle cx="1037.7" cy="99.3" r="5.21"/><circle cx="1032.5" cy="110.5" r="5.21"/><circle cx="1044.4" cy="112.0" r="5.21"/><circle cx="1045.2" cy="124.2" r="5.21"/><circle cx="1039.2" cy="128.4" r="5.21"/><circle cx="1034.8" cy="128.4" r="5.21"/><circle cx="1030.3" cy="129.1" r="5.21"/><circle cx="1020.6" cy="115.7" r="5.21"/><circle cx="1019.9" cy="123.1" r="5.21"/><circle cx="1012.4" cy="124.6" r="5.21"/><circle cx="1023.6" cy="137.3" r="5.21"/><circle cx="1028.1" cy="140.3" r="5.21"/><circle cx="1019.1" cy="144.0" r="5.21"/><circle cx="996.1" cy="138.0" r="5.21"/><circle cx="988.3" cy="139.1" r="5.21"/><circle cx="977.5" cy="134.3" r="5.21"/><circle cx="990.1" cy="129.8" r="5.21"/><circle cx="984.2" cy="129.1" r="5.21"/><circle cx="982.7" cy="122.4" r="5.21"/><circle cx="976.7" cy="115.0" r="5.21"/><circle cx="984.2" cy="111.2" r="5.21"/><circle cx="940.7" cy="124.9" r="5.21"/><circle cx="952.2" cy="135.8" r="5.21"/><circle cx="958.9" cy="135.8" r="5.21"/><circle cx="948.5" cy="139.5" r="5.21"/><circle cx="951.4" cy="144.7" r="5.21"/><circle cx="1005.7" cy="128.4" r="5.21"/><circle cx="1006.5" cy="134.3" r="5.21"/><circle cx="1005.0" cy="122.4" r="5.21"/><circle cx="990.9" cy="80.4" r="5.21"/><circle cx="1025.8" cy="138.8" r="5.21"/><circle cx="1021.8" cy="77.0" r="5.21"/><circle cx="1019.6" cy="79.1" r="5.21"/><circle cx="1022.6" cy="80.1" r="5.21"/><circle cx="1029.6" cy="79.1" r="5.21"/><circle cx="1018.8" cy="82.0" r="5.21"/><circle cx="1021.6" cy="83.0" r="5.21"/><circle cx="1025.0" cy="82.0" r="5.21"/><circle cx="1016.4" cy="85.4" r="5.21"/><circle cx="1019.6" cy="85.3" r="5.21"/><circle cx="1024.2" cy="85.1" r="5.21"/><circle cx="1026.9" cy="85.1" r="5.21"/><circle cx="1029.6" cy="85.9" r="5.21"/><circle cx="1012.5" cy="88.4" r="5.21"/><circle cx="1014.9" cy="88.6" r="5.21"/><circle cx="1017.7" cy="88.4" r="5.21"/><circle cx="1021.8" cy="87.6" r="5.21"/><circle cx="1024.9" cy="87.9" r="5.21"/><circle cx="1028.0" cy="88.2" r="5.21"/><circle cx="1031.4" cy="88.5" r="5.21"/><circle cx="1010.2" cy="90.7" r="5.21"/><circle cx="1013.7" cy="90.8" r="5.21"/><circle cx="1016.7" cy="91.8" r="5.21"/><circle cx="1019.2" cy="91.2" r="5.21"/><circle cx="1023.4" cy="91.7" r="5.21"/><circle cx="1026.8" cy="91.7" r="5.21"/><circle cx="1030.3" cy="91.1" r="5.21"/><circle cx="1034.0" cy="91.5" r="5.21"/><circle cx="1036.3" cy="91.4" r="5.21"/><circle cx="1041.0" cy="91.5" r="5.21"/><circle cx="1010.7" cy="94.9" r="5.21"/><circle cx="1014.6" cy="93.7" r="5.21"/><circle cx="1019.0" cy="94.1" r="5.21"/><circle cx="1021.6" cy="93.2" r="5.21"/><circle cx="1025.8" cy="94.5" r="5.21"/><circle cx="1028.1" cy="93.5" r="5.21"/><circle cx="1032.0" cy="93.8" r="5.21"/><circle cx="1035.4" cy="94.2" r="5.21"/><circle cx="1002.3" cy="96.8" r="5.21"/><circle cx="1005.7" cy="97.6" r="5.21"/><circle cx="1010.1" cy="96.4" r="5.21"/><circle cx="1013.4" cy="97.5" r="5.21"/><circle cx="1017.0" cy="97.3" r="5.21"/><circle cx="1019.6" cy="97.6" r="5.21"/><circle cx="1024.2" cy="96.4" r="5.21"/><circle cx="1026.1" cy="97.5" r="5.21"/><circle cx="1030.1" cy="97.2" r="5.21"/><circle cx="1034.4" cy="97.3" r="5.21"/><circle cx="1036.3" cy="97.3" r="5.21"/><circle cx="998.8" cy="99.7" r="5.21"/><circle cx="1001.2" cy="100.2" r="5.21"/><circle cx="1004.9" cy="99.2" r="5.21"/><circle cx="1008.6" cy="99.8" r="5.21"/><circle cx="1010.9" cy="100.5" r="5.21"/><circle cx="1015.7" cy="100.8" r="5.21"/><circle cx="1018.4" cy="99.5" r="5.21"/><circle cx="1022.2" cy="99.9" r="5.21"/><circle cx="1024.4" cy="99.9" r="5.21"/><circle cx="1028.8" cy="100.0" r="5.21"/><circle cx="995.5" cy="103.0" r="5.21"/><circle cx="999.8" cy="103.4" r="5.21"/><circle cx="1003.0" cy="102.0" r="5.21"/><circle cx="1005.8" cy="103.1" r="5.21"/><circle cx="1010.0" cy="102.6" r="5.21"/><circle cx="1013.6" cy="102.3" r="5.21"/><circle cx="1017.5" cy="102.6" r="5.21"/><circle cx="1020.8" cy="102.8" r="5.21"/><circle cx="1022.7" cy="103.6" r="5.21"/><circle cx="1026.9" cy="102.9" r="5.21"/><circle cx="994.7" cy="106.2" r="5.21"/><circle cx="998.4" cy="105.2" r="5.21"/><circle cx="1000.5" cy="105.6" r="5.21"/><circle cx="1004.4" cy="106.5" r="5.21"/><circle cx="1008.3" cy="105.4" r="5.21"/><circle cx="1012.1" cy="106.2" r="5.21"/><circle cx="1014.5" cy="106.0" r="5.21"/><circle cx="1017.6" cy="106.0" r="5.21"/><circle cx="1025.1" cy="106.6" r="5.21"/><circle cx="1000.2" cy="108.1" r="5.21"/><circle cx="1002.8" cy="108.2" r="5.21"/><circle cx="1006.8" cy="109.2" r="5.21"/><circle cx="1010.5" cy="109.6" r="5.21"/><circle cx="1013.7" cy="109.4" r="5.21"/><circle cx="1016.8" cy="108.7" r="5.21"/><circle cx="1020.6" cy="109.5" r="5.21"/><circle cx="994.4" cy="111.0" r="5.21"/><circle cx="998.6" cy="111.5" r="5.21"/><circle cx="1002.0" cy="112.3" r="5.21"/><circle cx="1004.8" cy="110.9" r="5.21"/><circle cx="1008.7" cy="111.6" r="5.21"/><circle cx="1011.5" cy="111.5" r="5.21"/><circle cx="1014.7" cy="112.4" r="5.21"/><circle cx="1018.0" cy="111.0" r="5.21"/><circle cx="988.9" cy="115.3" r="5.21"/><circle cx="992.9" cy="113.8" r="5.21"/><circle cx="997.1" cy="114.6" r="5.21"/><circle cx="999.2" cy="114.4" r="5.21"/><circle cx="1003.2" cy="115.4" r="5.21"/><circle cx="1006.3" cy="115.5" r="5.21"/><circle cx="1010.2" cy="113.9" r="5.21"/><circle cx="1013.2" cy="115.5" r="5.21"/><circle cx="1001.0" cy="117.7" r="5.21"/><circle cx="1012.0" cy="118.0" r="5.21"/><circle cx="1005.7" cy="125.4" r="5.21"/><circle cx="1006.5" cy="131.3" r="5.21"/><circle cx="1005.0" cy="129.1" r="5.21"/><circle cx="984.2" cy="125.4" r="5.21"/><circle cx="986.0" cy="129.1" r="5.21"/><circle cx="987.4" cy="127.2" r="5.21"/><circle cx="1026.6" cy="138.0" r="5.21"/><circle cx="912.0" cy="162.9" r="5.21"/><circle cx="915.7" cy="162.9" r="5.21"/><circle cx="926.1" cy="162.9" r="5.21"/><circle cx="935.8" cy="162.9" r="5.21"/><circle cx="939.5" cy="162.9" r="5.21"/><circle cx="944.0" cy="162.9" r="5.21"/><circle cx="947.0" cy="162.9" r="5.21"/><circle cx="955.1" cy="162.9" r="5.21"/><circle cx="963.3" cy="162.9" r="5.21"/><circle cx="967.8" cy="162.9" r="5.21"/><circle cx="970.8" cy="162.9" r="5.21"/><circle cx="981.2" cy="162.9" r="5.21"/><circle cx="985.7" cy="162.9" r="5.21"/><circle cx="990.1" cy="162.9" r="5.21"/><circle cx="995.3" cy="162.9" r="5.21"/><circle cx="999.0" cy="162.9" r="5.21"/><circle cx="1002.8" cy="162.9" r="5.21"/><circle cx="1011.7" cy="162.9" r="5.21"/><circle cx="1020.6" cy="162.9" r="5.21"/><circle cx="1023.6" cy="162.9" r="5.21"/></g>
<path class="d" d="M913.5,170.0 L932.8,158.6 M952.9,147.0 L972.3,135.1 M991.6,122.9 L1011.0,111.5 M1031.0,100.8 L1051.1,90.0"/>
</g>
<g id="panel5">
<rect x="1089.20" y="13.33" width="241.17" height="35.15" fill="#ccc"/>
<text class="t" transform="translate(1210.09 38.83) scale(0.985 0.98)" text-anchor="middle">5</text>
<g class="p"><circle cx="1296.2" cy="63.2" r="5.21"/><circle cx="1298.2" cy="64.3" r="5.21"/><circle cx="1304.4" cy="64.2" r="5.21"/><circle cx="1280.3" cy="65.5" r="5.21"/><circle cx="1281.7" cy="66.2" r="5.21"/><circle cx="1290.7" cy="67.1" r="5.21"/><circle cx="1297.6" cy="67.2" r="5.21"/><circle cx="1300.1" cy="66.9" r="5.21"/><circle cx="1304.5" cy="66.2" r="5.21"/><circle cx="1280.8" cy="69.2" r="5.21"/><circle cx="1283.4" cy="68.4" r="5.21"/><circle cx="1286.7" cy="68.1" r="5.21"/><circle cx="1289.9" cy="68.8" r="5.21"/><circle cx="1293.2" cy="69.7" r="5.21"/><circle cx="1295.8" cy="69.3" r="5.21"/><circle cx="1298.5" cy="68.9" r="5.21"/><circle cx="1302.4" cy="68.3" r="5.21"/><circle cx="1252.9" cy="71.6" r="5.21"/><circle cx="1255.0" cy="71.7" r="5.21"/><circle cx="1258.8" cy="71.1" r="5.21"/><circle cx="1263.7" cy="71.9" r="5.21"/><circle cx="1267.2" cy="71.8" r="5.21"/><circle cx="1270.8" cy="72.2" r="5.21"/><circle cx="1273.2" cy="71.8" r="5.21"/><circle cx="1276.0" cy="71.0" r="5.21"/><circle cx="1280.2" cy="71.9" r="5.21"/><circle cx="1283.1" cy="71.2" r="5.21"/><circle cx="1286.0" cy="70.7" r="5.21"/><circle cx="1287.8" cy="70.7" r="5.21"/><circle cx="1291.0" cy="72.3" r="5.21"/><circle cx="1294.5" cy="71.0" r="5.21"/><circle cx="1297.6" cy="71.6" r="5.21"/><circle cx="1301.0" cy="71.6" r="5.21"/><circle cx="1302.9" cy="70.7" r="5.21"/><circle cx="1242.5" cy="73.5" r="5.21"/><circle cx="1247.8" cy="73.7" r="5.21"/><circle cx="1251.0" cy="75.0" r="5.21"/><circle cx="1254.7" cy="73.8" r="5.21"/><circle cx="1257.5" cy="73.8" r="5.21"/><circle cx="1259.9" cy="74.7" r="5.21"/><circle cx="1263.2" cy="73.2" r="5.21"/><circle cx="1266.3" cy="74.8" r="5.21"/><circle cx="1268.8" cy="74.8" r="5.21"/><circle cx="1271.7" cy="73.9" r="5.21"/><circle cx="1274.8" cy="73.9" r="5.21"/><circle cx="1277.6" cy="74.9" r="5.21"/><circle cx="1281.3" cy="74.8" r="5.21"/><circle cx="1283.6" cy="74.9" r="5.21"/><circle cx="1288.0" cy="74.5" r="5.21"/><circle cx="1290.6" cy="73.7" r="5.21"/><circle cx="1292.9" cy="74.7" r="5.21"/><circle cx="1296.2" cy="73.8" r="5.21"/><circle cx="1298.8" cy="74.7" r="5.21"/><circle cx="1302.8" cy="73.5" r="5.21"/><circle cx="1305.5" cy="74.4" r="5.21"/><circle cx="1307.3" cy="74.8" r="5.21"/><circle cx="1244.5" cy="76.6" r="5.21"/><circle cx="1247.0" cy="77.5" r="5.21"/><circle cx="1249.2" cy="76.4" r="5.21"/><circle cx="1252.0" cy="76.8" r="5.21"/><circle cx="1259.5" cy="76.8" r="5.21"/><circle cx="1261.0" cy="77.5" r="5.21"/><circle cx="1265.0" cy="77.4" r="5.21"/><circle cx="1268.3" cy="76.2" r="5.21"/><circle cx="1270.6" cy="77.5" r="5.21"/><circle cx="1274.4" cy="76.8" r="5.21"/><circle cx="1276.7" cy="76.1" r="5.21"/><circle cx="1280.1" cy="76.6" r="5.21"/><circle cx="1282.1" cy="76.3" r="5.21"/><circle cx="1285.6" cy="76.7" r="5.21"/><circle cx="1287.7" cy="76.5" r="5.21"/><circle cx="1292.0" cy="76.3" r="5.21"/><circle cx="1294.6" cy="76.2" r="5.21"/><circle cx="1298.3" cy="76.2" r="5.21"/><circle cx="1301.0" cy="77.2" r="5.21"/><circle cx="1304.0" cy="76.3" r="5.21"/><circle cx="1309.5" cy="76.0" r="5.21"/><circle cx="1242.5" cy="80.2" r="5.21"/><circle cx="1244.8" cy="80.0" r="5.21"/><circle cx="1248.2" cy="79.7" r="5.21"/><circle cx="1251.9" cy="79.4" r="5.21"/><circle cx="1253.5" cy="78.7" r="5.21"/><circle cx="1257.6" cy="78.5" r="5.21"/><circle cx="1260.0" cy="79.3" r="5.21"/><circle cx="1263.8" cy="79.1" r="5.21"/><circle cx="1266.9" cy="79.6" r="5.21"/><circle cx="1268.8" cy="79.1" r="5.21"/><circle cx="1272.6" cy="78.9" r="5.21"/><circle cx="1274.9" cy="79.1" r="5.21"/><circle cx="1278.2" cy="78.9" r="5.21"/><circle cx="1281.7" cy="78.7" r="5.21"/><circle cx="1283.2" cy="78.8" r="5.21"/><circle cx="1287.6" cy="78.7" r="5.21"/><circle cx="1289.3" cy="78.9" r="5.21"/><circle cx="1293.5" cy="80.1" r="5.21"/><circle cx="1296.2" cy="80.1" r="5.21"/><circle cx="1299.8" cy="79.2" r="5.21"/><circle cx="1302.5" cy="80.0" r="5.21"/><circle cx="1304.4" cy="80.0" r="5.21"/><circle cx="1308.3" cy="80.2" r="5.21"/><circle cx="1310.3" cy="78.7" r="5.21"/><circle cx="1241.4" cy="82.2" r="5.21"/><circle cx="1247.1" cy="82.5" r="5.21"/><circle cx="1250.5" cy="82.3" r="5.21"/><circle cx="1253.0" cy="81.5" r="5.21"/><circle cx="1255.0" cy="82.6" r="5.21"/><circle cx="1258.2" cy="82.7" r="5.21"/><circle cx="1262.4" cy="82.4" r="5.21"/><circle cx="1265.1" cy="82.1" r="5.21"/><circle cx="1267.7" cy="81.8" r="5.21"/><circle cx="1269.8" cy="82.5" r="5.21"/><circle cx="1273.2" cy="81.3" r="5.21"/><circle cx="1276.5" cy="82.4" r="5.21"/><circle cx="1280.0" cy="82.2" r="5.21"/><circle cx="1282.6" cy="82.4" r="5.21"/><circle cx="1285.9" cy="81.6" r="5.21"/><circle cx="1289.3" cy="82.8" r="5.21"/><circle cx="1291.5" cy="82.1" r="5.21"/><circle cx="1295.0" cy="81.9" r="5.21"/><circle cx="1297.4" cy="82.8" r="5.21"/><circle cx="1299.9" cy="82.4" r="5.21"/><circle cx="1306.7" cy="82.4" r="5.21"/><circle cx="1242.6" cy="84.7" r="5.21"/><circle cx="1245.8" cy="84.3" r="5.21"/><circle cx="1248.9" cy="83.9" r="5.21"/><circle cx="1251.9" cy="84.4" r="5.21"/><circle cx="1253.7" cy="83.7" r="5.21"/><circle cx="1256.4" cy="84.2" r="5.21"/><circle cx="1260.2" cy="85.4" r="5.21"/><circle cx="1262.8" cy="85.4" r="5.21"/><circle cx="1266.2" cy="85.2" r="5.21"/><circle cx="1268.8" cy="84.8" r="5.21"/><circle cx="1272.9" cy="84.1" r="5.21"/><circle cx="1274.3" cy="83.7" r="5.21"/><circle cx="1277.6" cy="84.6" r="5.21"/><circle cx="1281.7" cy="84.9" r="5.21"/><circle cx="1284.9" cy="85.5" r="5.21"/><circle cx="1287.5" cy="83.7" r="5.21"/><circle cx="1290.0" cy="85.4" r="5.21"/><circle cx="1293.2" cy="83.7" r="5.21"/><circle cx="1296.8" cy="84.7" r="5.21"/><circle cx="1298.2" cy="84.0" r="5.21"/><circle cx="1304.7" cy="85.3" r="5.21"/><circle cx="1232.3" cy="87.4" r="5.21"/><circle cx="1233.8" cy="86.4" r="5.21"/><circle cx="1236.8" cy="87.4" r="5.21"/><circle cx="1240.2" cy="87.2" r="5.21"/><circle cx="1243.1" cy="86.6" r="5.21"/><circle cx="1246.3" cy="87.9" r="5.21"/><circle cx="1249.5" cy="86.6" r="5.21"/><circle cx="1251.9" cy="87.8" r="5.21"/><circle cx="1255.0" cy="87.4" r="5.21"/><circle cx="1258.6" cy="86.9" r="5.21"/><circle cx="1262.0" cy="87.6" r="5.21"/><circle cx="1264.0" cy="87.5" r="5.21"/><circle cx="1267.9" cy="86.4" r="5.21"/><circle cx="1269.7" cy="86.7" r="5.21"/><circle cx="1273.0" cy="86.4" r="5.21"/><circle cx="1277.5" cy="86.9" r="5.21"/><circle cx="1279.9" cy="86.7" r="5.21"/><circle cx="1282.9" cy="87.1" r="5.21"/><circle cx="1284.8" cy="87.3" r="5.21"/><circle cx="1289.3" cy="86.5" r="5.21"/><circle cx="1291.6" cy="86.6" r="5.21"/><circle cx="1294.6" cy="87.7" r="5.21"/><circle cx="1298.4" cy="87.7" r="5.21"/><circle cx="1299.9" cy="87.1" r="5.21"/><circle cx="1303.9" cy="87.5" r="5.21"/><circle cx="1229.9" cy="90.1" r="5.21"/><circle cx="1236.4" cy="90.3" r="5.21"/><circle cx="1238.6" cy="90.6" r="5.21"/><circle cx="1241.9" cy="89.4" r="5.21"/><circle cx="1245.5" cy="90.4" r="5.21"/><circle cx="1248.5" cy="89.3" r="5.21"/><circle cx="1250.8" cy="89.4" r="5.21"/><circle cx="1254.5" cy="90.2" r="5.21"/><circle cx="1256.6" cy="90.3" r="5.21"/><circle cx="1260.4" cy="90.0" r="5.21"/><circle cx="1262.7" cy="89.0" r="5.21"/><circle cx="1265.2" cy="90.6" r="5.21"/><circle cx="1269.4" cy="90.6" r="5.21"/><circle cx="1271.6" cy="89.5" r="5.21"/><circle cx="1275.6" cy="90.2" r="5.21"/><circle cx="1277.8" cy="89.4" r="5.21"/><circle cx="1281.5" cy="90.5" r="5.21"/><circle cx="1284.7" cy="89.7" r="5.21"/><circle cx="1286.7" cy="90.6" r="5.21"/><circle cx="1289.5" cy="89.4" r="5.21"/><circle cx="1293.7" cy="89.5" r="5.21"/><circle cx="1296.8" cy="89.7" r="5.21"/><circle cx="1299.6" cy="89.6" r="5.21"/><circle cx="1302.8" cy="89.7" r="5.21"/><circle cx="1305.3" cy="89.3" r="5.21"/><circle cx="1307.9" cy="89.6" r="5.21"/><circle cx="1197.9" cy="93.3" r="5.21"/><circle cx="1225.4" cy="92.9" r="5.21"/><circle cx="1228.2" cy="92.9" r="5.21"/><circle cx="1232.5" cy="91.7" r="5.21"/><circle cx="1234.1" cy="91.5" r="5.21"/><circle cx="1236.8" cy="92.2" r="5.21"/><circle cx="1240.6" cy="92.0" r="5.21"/><circle cx="1243.6" cy="93.3" r="5.21"/><circle cx="1246.6" cy="92.4" r="5.21"/><circle cx="1250.2" cy="91.9" r="5.21"/><circle cx="1252.3" cy="92.1" r="5.21"/><circle cx="1255.7" cy="92.0" r="5.21"/><circle cx="1259.4" cy="92.2" r="5.21"/><circle cx="1261.9" cy="92.5" r="5.21"/><circle cx="1264.3" cy="93.0" r="5.21"/><circle cx="1267.4" cy="93.2" r="5.21"/><circle cx="1270.4" cy="91.8" r="5.21"/><circle cx="1273.9" cy="92.3" r="5.21"/><circle cx="1276.1" cy="92.9" r="5.21"/><circle cx="1280.2" cy="92.2" r="5.21"/><circle cx="1281.7" cy="91.9" r="5.21"/><circle cx="1285.9" cy="92.7" r="5.21"/><circle cx="1288.5" cy="91.9" r="5.21"/><circle cx="1291.8" cy="92.7" r="5.21"/><circle cx="1294.8" cy="91.7" r="5.21"/><circle cx="1297.0" cy="92.4" r="5.21"/><circle cx="1300.7" cy="91.7" r="5.21"/><circle cx="1303.8" cy="91.7" r="5.21"/><circle cx="1197.1" cy="95.7" r="5.21"/><circle cx="1200.8" cy="94.7" r="5.21"/><circle cx="1202.8" cy="94.2" r="5.21"/><circle cx="1224.5" cy="94.5" r="5.21"/><circle cx="1227.8" cy="95.1" r="5.21"/><circle cx="1230.7" cy="94.4" r="5.21"/><circle cx="1233.0" cy="95.5" r="5.21"/><circle cx="1235.5" cy="95.8" r="5.21"/><circle cx="1239.5" cy="95.6" r="5.21"/><circle cx="1242.4" cy="94.8" r="5.21"/><circle cx="1244.6" cy="95.8" r="5.21"/><circle cx="1248.1" cy="95.0" r="5.21"/><circle cx="1251.5" cy="95.5" r="5.21"/><circle cx="1253.8" cy="94.5" r="5.21"/><circle cx="1257.5" cy="95.3" r="5.21"/><circle cx="1260.1" cy="94.4" r="5.21"/><circle cx="1263.0" cy="95.0" r="5.21"/><circle cx="1265.5" cy="95.4" r="5.21"/><circle cx="1269.6" cy="94.3" r="5.21"/><circle cx="1272.3" cy="95.0" r="5.21"/><circle cx="1275.2" cy="94.5" r="5.21"/><circle cx="1277.2" cy="95.5" r="5.21"/><circle cx="1281.7" cy="95.1" r="5.21"/><circle cx="1284.3" cy="94.3" r="5.21"/><circle cx="1286.7" cy="95.7" r="5.21"/><circle cx="1290.4" cy="95.6" r="5.21"/><circle cx="1293.4" cy="95.8" r="5.21"/><circle cx="1295.4" cy="94.9" r="5.21"/><circle cx="1298.5" cy="94.5" r="5.21"/><circle cx="1301.9" cy="94.4" r="5.21"/><circle cx="1305.2" cy="94.5" r="5.21"/><circle cx="1193.2" cy="98.3" r="5.21"/><circle cx="1195.1" cy="96.9" r="5.21"/><circle cx="1197.8" cy="97.6" r="5.21"/><circle cx="1201.2" cy="97.5" r="5.21"/><circle cx="1205.1" cy="98.0" r="5.21"/><circle cx="1222.4" cy="97.3" r="5.21"/><circle cx="1226.4" cy="97.6" r="5.21"/><circle cx="1228.5" cy="98.1" r="5.21"/><circle cx="1231.5" cy="97.0" r="5.21"/><circle cx="1235.3" cy="97.5" r="5.21"/><circle cx="1237.7" cy="97.5" r="5.21"/><circle cx="1240.1" cy="97.7" r="5.21"/><circle cx="1242.8" cy="97.4" r="5.21"/><circle cx="1247.4" cy="96.7" r="5.21"/><circle cx="1249.8" cy="98.2" r="5.21"/><circle cx="1251.9" cy="97.3" r="5.21"/><circle cx="1256.0" cy="97.1" r="5.21"/><circle cx="1258.9" cy="97.9" r="5.21"/><circle cx="1261.5" cy="97.3" r="5.21"/><circle cx="1264.3" cy="96.9" r="5.21"/><circle cx="1267.2" cy="98.1" r="5.21"/><circle cx="1270.7" cy="98.2" r="5.21"/><circle cx="1274.0" cy="96.8" r="5.21"/><circle cx="1275.7" cy="98.0" r="5.21"/><circle cx="1279.0" cy="97.4" r="5.21"/><circle cx="1282.4" cy="96.9" r="5.21"/><circle cx="1285.2" cy="98.5" r="5.21"/><circle cx="1288.5" cy="97.1" r="5.21"/><circle cx="1291.3" cy="97.9" r="5.21"/><circle cx="1294.4" cy="98.1" r="5.21"/><circle cx="1296.9" cy="96.8" r="5.21"/><circle cx="1301.3" cy="97.1" r="5.21"/><circle cx="1304.1" cy="97.2" r="5.21"/><circle cx="1193.5" cy="100.3" r="5.21"/><circle cx="1197.7" cy="100.1" r="5.21"/><circle cx="1199.6" cy="100.8" r="5.21"/><circle cx="1221.2" cy="99.9" r="5.21"/><circle cx="1224.3" cy="99.5" r="5.21"/><circle cx="1227.1" cy="99.7" r="5.21"/><circle cx="1230.1" cy="100.2" r="5.21"/><circle cx="1232.9" cy="100.1" r="5.21"/><circle cx="1235.7" cy="101.1" r="5.21"/><circle cx="1240.0" cy="101.0" r="5.21"/><circle cx="1242.6" cy="100.4" r="5.21"/><circle cx="1246.0" cy="100.5" r="5.21"/><circle cx="1248.2" cy="99.5" r="5.21"/><circle cx="1250.5" cy="99.8" r="5.21"/><circle cx="1253.5" cy="100.2" r="5.21"/><circle cx="1256.4" cy="100.5" r="5.21"/><circle cx="1260.0" cy="100.5" r="5.21"/><circle cx="1262.3" cy="99.7" r="5.21"/><circle cx="1265.9" cy="100.1" r="5.21"/><circle cx="1269.4" cy="100.7" r="5.21"/><circle cx="1271.9" cy="100.4" r="5.21"/><circle cx="1274.5" cy="101.0" r="5.21"/><circle cx="1278.6" cy="101.1" r="5.21"/><circle cx="1281.7" cy="99.8" r="5.21"/><circle cx="1284.5" cy="101.0" r="5.21"/><circle cx="1287.8" cy="99.8" r="5.21"/><circle cx="1290.0" cy="99.9" r="5.21"/><circle cx="1293.6" cy="100.8" r="5.21"/><circle cx="1296.4" cy="99.6" r="5.21"/><circle cx="1299.2" cy="99.7" r="5.21"/><circle cx="1301.4" cy="99.6" r="5.21"/><circle cx="1304.6" cy="100.9" r="5.21"/><circle cx="1196.1" cy="103.2" r="5.21"/><circle cx="1199.1" cy="102.2" r="5.21"/><circle cx="1201.2" cy="102.7" r="5.21"/><circle cx="1205.0" cy="103.0" r="5.21"/><circle cx="1211.1" cy="103.0" r="5.21"/><circle cx="1214.4" cy="102.6" r="5.21"/><circle cx="1223.1" cy="102.7" r="5.21"/><circle cx="1226.1" cy="102.5" r="5.21"/><circle cx="1228.8" cy="103.4" r="5.21"/><circle cx="1231.9" cy="103.5" r="5.21"/><circle cx="1233.9" cy="102.8" r="5.21"/><circle cx="1238.4" cy="103.7" r="5.21"/><circle cx="1241.1" cy="103.1" r="5.21"/><circle cx="1244.4" cy="102.3" r="5.21"/><circle cx="1246.5" cy="102.0" r="5.21"/><circle cx="1249.4" cy="103.7" r="5.21"/><circle cx="1253.2" cy="103.3" r="5.21"/><circle cx="1255.1" cy="102.5" r="5.21"/><circle cx="1258.4" cy="103.1" r="5.21"/><circle cx="1261.3" cy="103.0" r="5.21"/><circle cx="1264.0" cy="102.5" r="5.21"/><circle cx="1266.9" cy="102.0" r="5.21"/><circle cx="1271.2" cy="103.2" r="5.21"/><circle cx="1274.2" cy="103.0" r="5.21"/><circle cx="1275.7" cy="102.6" r="5.21"/><circle cx="1279.8" cy="102.1" r="5.21"/><circle cx="1282.4" cy="102.8" r="5.21"/><circle cx="1284.9" cy="103.3" r="5.21"/><circle cx="1288.8" cy="102.1" r="5.21"/><circle cx="1292.3" cy="103.7" r="5.21"/><circle cx="1293.8" cy="103.5" r="5.21"/><circle cx="1297.2" cy="103.6" r="5.21"/><circle cx="1301.3" cy="102.4" r="5.21"/><circle cx="1193.6" cy="105.2" r="5.21"/><circle cx="1197.5" cy="105.5" r="5.21"/><circle cx="1199.8" cy="105.6" r="5.21"/><circle cx="1203.6" cy="106.3" r="5.21"/><circle cx="1206.1" cy="105.2" r="5.21"/><circle cx="1209.6" cy="104.9" r="5.21"/><circle cx="1212.6" cy="106.2" r="5.21"/><circle cx="1217.5" cy="106.1" r="5.21"/><circle cx="1221.2" cy="106.2" r="5.21"/><circle cx="1223.8" cy="104.8" r="5.21"/><circle cx="1226.7" cy="105.8" r="5.21"/><circle cx="1229.4" cy="106.0" r="5.21"/><circle cx="1232.4" cy="106.0" r="5.21"/><circle cx="1235.6" cy="106.2" r="5.21"/><circle cx="1238.6" cy="104.6" r="5.21"/><circle cx="1242.7" cy="104.7" r="5.21"/><circle cx="1245.6" cy="105.7" r="5.21"/><circle cx="1249.0" cy="105.1" r="5.21"/><circle cx="1251.8" cy="105.1" r="5.21"/><circle cx="1254.4" cy="106.1" r="5.21"/><circle cx="1256.7" cy="105.0" r="5.21"/><circle cx="1259.4" cy="106.1" r="5.21"/><circle cx="1262.6" cy="105.8" r="5.21"/><circle cx="1265.4" cy="106.0" r="5.21"/><circle cx="1268.7" cy="104.7" r="5.21"/><circle cx="1272.6" cy="105.4" r="5.21"/><circle cx="1274.5" cy="104.7" r="5.21"/><circle cx="1278.8" cy="104.8" r="5.21"/><circle cx="1281.5" cy="104.7" r="5.21"/><circle cx="1283.3" cy="105.0" r="5.21"/><circle cx="1287.8" cy="105.3" r="5.21"/><circle cx="1289.2" cy="105.2" r="5.21"/><circle cx="1293.6" cy="105.8" r="5.21"/><circle cx="1296.1" cy="105.8" r="5.21"/><circle cx="1298.9" cy="105.1" r="5.21"/><circle cx="1302.5" cy="104.9" r="5.21"/><circle cx="1190.3" cy="108.3" r="5.21"/><circle cx="1192.6" cy="107.7" r="5.21"/><circle cx="1195.5" cy="108.8" r="5.21"/><circle cx="1199.4" cy="108.0" r="5.21"/><circle cx="1200.9" cy="108.8" r="5.21"/><circle cx="1205.3" cy="107.9" r="5.21"/><circle cx="1206.7" cy="108.7" r="5.21"/><circle cx="1210.4" cy="108.7" r="5.21"/><circle cx="1214.0" cy="108.0" r="5.21"/><circle cx="1216.0" cy="108.6" r="5.21"/><circle cx="1218.8" cy="108.9" r="5.21"/><circle cx="1222.4" cy="107.9" r="5.21"/><circle cx="1226.3" cy="108.9" r="5.21"/><circle cx="1228.3" cy="107.4" r="5.21"/><circle cx="1231.6" cy="108.2" r="5.21"/><circle cx="1235.5" cy="107.9" r="5.21"/><circle cx="1237.4" cy="107.5" r="5.21"/><circle cx="1240.7" cy="108.1" r="5.21"/><circle cx="1243.1" cy="107.7" r="5.21"/><circle cx="1246.5" cy="108.9" r="5.21"/><circle cx="1249.1" cy="107.3" r="5.21"/><circle cx="1252.3" cy="108.6" r="5.21"/><circle cx="1255.1" cy="108.6" r="5.21"/><circle cx="1258.7" cy="108.1" r="5.21"/><circle cx="1260.8" cy="108.4" r="5.21"/><circle cx="1264.4" cy="108.8" r="5.21"/><circle cx="1267.2" cy="107.3" r="5.21"/><circle cx="1270.9" cy="107.6" r="5.21"/><circle cx="1273.6" cy="107.2" r="5.21"/><circle cx="1276.8" cy="107.7" r="5.21"/><circle cx="1279.1" cy="107.5" r="5.21"/><circle cx="1283.2" cy="108.0" r="5.21"/><circle cx="1285.3" cy="108.6" r="5.21"/><circle cx="1288.9" cy="107.9" r="5.21"/><circle cx="1291.0" cy="108.9" r="5.21"/><circle cx="1294.6" cy="108.3" r="5.21"/><circle cx="1188.5" cy="110.6" r="5.21"/><circle cx="1191.6" cy="110.2" r="5.21"/><circle cx="1193.2" cy="110.2" r="5.21"/><circle cx="1197.6" cy="110.9" r="5.21"/><circle cx="1200.5" cy="111.0" r="5.21"/><circle cx="1203.1" cy="110.8" r="5.21"/><circle cx="1205.5" cy="110.3" r="5.21"/><circle cx="1208.4" cy="110.4" r="5.21"/><circle cx="1212.2" cy="110.1" r="5.21"/><circle cx="1214.4" cy="111.1" r="5.21"/><circle cx="1217.4" cy="110.2" r="5.21"/><circle cx="1220.7" cy="111.4" r="5.21"/><circle cx="1223.7" cy="111.1" r="5.21"/><circle cx="1227.2" cy="110.2" r="5.21"/><circle cx="1230.9" cy="109.8" r="5.21"/><circle cx="1232.8" cy="110.1" r="5.21"/><circle cx="1236.8" cy="109.8" r="5.21"/><circle cx="1238.7" cy="109.8" r="5.21"/><circle cx="1241.7" cy="110.2" r="5.21"/><circle cx="1244.8" cy="110.0" r="5.21"/><circle cx="1247.6" cy="110.8" r="5.21"/><circle cx="1250.7" cy="110.7" r="5.21"/><circle cx="1254.5" cy="110.4" r="5.21"/><circle cx="1257.6" cy="110.8" r="5.21"/><circle cx="1259.8" cy="110.0" r="5.21"/><circle cx="1263.3" cy="109.9" r="5.21"/><circle cx="1266.8" cy="109.8" r="5.21"/><circle cx="1268.6" cy="110.7" r="5.21"/><circle cx="1271.8" cy="110.7" r="5.21"/><circle cx="1274.5" cy="110.9" r="5.21"/><circle cx="1279.0" cy="110.1" r="5.21"/><circle cx="1280.3" cy="110.3" r="5.21"/><circle cx="1283.5" cy="110.7" r="5.21"/><circle cx="1287.6" cy="109.9" r="5.21"/><circle cx="1290.7" cy="110.0" r="5.21"/><circle cx="1293.6" cy="110.6" r="5.21"/><circle cx="1193.4" cy="114.1" r="5.21"/><circle cx="1196.0" cy="113.7" r="5.21"/><circle cx="1197.7" cy="114.0" r="5.21"/><circle cx="1201.8" cy="113.8" r="5.21"/><circle cx="1203.7" cy="114.0" r="5.21"/><circle cx="1206.8" cy="112.6" r="5.21"/><circle cx="1211.0" cy="112.8" r="5.21"/><circle cx="1214.3" cy="113.6" r="5.21"/><circle cx="1215.9" cy="113.1" r="5.21"/><circle cx="1218.7" cy="113.1" r="5.21"/><circle cx="1223.5" cy="112.6" r="5.21"/><circle cx="1226.2" cy="113.7" r="5.21"/><circle cx="1228.9" cy="113.3" r="5.21"/><circle cx="1230.9" cy="113.3" r="5.21"/><circle cx="1233.9" cy="114.0" r="5.21"/><circle cx="1237.2" cy="112.8" r="5.21"/><circle cx="1240.8" cy="113.4" r="5.21"/><circle cx="1243.6" cy="113.3" r="5.21"/><circle cx="1246.1" cy="112.4" r="5.21"/><circle cx="1249.2" cy="112.6" r="5.21"/><circle cx="1251.7" cy="114.0" r="5.21"/><circle cx="1256.3" cy="113.6" r="5.21"/><circle cx="1259.0" cy="112.9" r="5.21"/><circle cx="1261.1" cy="113.4" r="5.21"/><circle cx="1265.1" cy="112.7" r="5.21"/><circle cx="1268.2" cy="113.8" r="5.21"/><circle cx="1269.9" cy="112.8" r="5.21"/><circle cx="1274.0" cy="113.7" r="5.21"/><circle cx="1277.1" cy="113.3" r="5.21"/><circle cx="1280.3" cy="113.5" r="5.21"/><circle cx="1282.7" cy="113.3" r="5.21"/><circle cx="1285.7" cy="112.6" r="5.21"/><circle cx="1288.4" cy="113.2" r="5.21"/><circle cx="1291.3" cy="113.1" r="5.21"/><circle cx="1294.4" cy="114.1" r="5.21"/><circle cx="1188.5" cy="115.8" r="5.21"/><circle cx="1190.3" cy="116.3" r="5.21"/><circle cx="1194.6" cy="116.2" r="5.21"/><circle cx="1197.8" cy="116.7" r="5.21"/><circle cx="1199.4" cy="116.0" r="5.21"/><circle cx="1202.6" cy="116.7" r="5.21"/><circle cx="1205.4" cy="115.4" r="5.21"/><circle cx="1209.2" cy="115.6" r="5.21"/><circle cx="1212.6" cy="115.3" r="5.21"/><circle cx="1214.8" cy="116.7" r="5.21"/><circle cx="1217.8" cy="116.1" r="5.21"/><circle cx="1220.9" cy="116.1" r="5.21"/><circle cx="1223.8" cy="115.1" r="5.21"/><circle cx="1227.2" cy="115.3" r="5.21"/><circle cx="1230.3" cy="116.6" r="5.21"/><circle cx="1232.6" cy="116.0" r="5.21"/><circle cx="1236.6" cy="115.3" r="5.21"/><circle cx="1239.0" cy="116.6" r="5.21"/><circle cx="1241.5" cy="115.2" r="5.21"/><circle cx="1244.8" cy="115.7" r="5.21"/><circle cx="1247.9" cy="115.8" r="5.21"/><circle cx="1251.6" cy="116.6" r="5.21"/><circle cx="1254.8" cy="115.4" r="5.21"/><circle cx="1257.1" cy="116.2" r="5.21"/><circle cx="1259.7" cy="115.2" r="5.21"/><circle cx="1262.8" cy="116.2" r="5.21"/><circle cx="1266.1" cy="115.4" r="5.21"/><circle cx="1268.8" cy="116.2" r="5.21"/><circle cx="1271.2" cy="116.3" r="5.21"/><circle cx="1274.3" cy="115.5" r="5.21"/><circle cx="1278.7" cy="116.0" r="5.21"/><circle cx="1280.6" cy="115.5" r="5.21"/><circle cx="1283.8" cy="116.4" r="5.21"/><circle cx="1287.4" cy="116.6" r="5.21"/><circle cx="1289.4" cy="115.1" r="5.21"/><circle cx="1296.2" cy="115.8" r="5.21"/><circle cx="1191.9" cy="117.9" r="5.21"/><circle cx="1195.6" cy="118.5" r="5.21"/><circle cx="1199.0" cy="119.2" r="5.21"/><circle cx="1200.8" cy="119.1" r="5.21"/><circle cx="1204.3" cy="117.9" r="5.21"/><circle cx="1208.1" cy="117.8" r="5.21"/><circle cx="1211.2" cy="118.8" r="5.21"/><circle cx="1213.9" cy="119.0" r="5.21"/><circle cx="1216.0" cy="118.8" r="5.21"/><circle cx="1218.9" cy="117.9" r="5.21"/><circle cx="1221.9" cy="118.3" r="5.21"/><circle cx="1225.7" cy="118.3" r="5.21"/><circle cx="1227.8" cy="118.2" r="5.21"/><circle cx="1232.2" cy="119.3" r="5.21"/><circle cx="1234.6" cy="119.0" r="5.21"/><circle cx="1236.9" cy="118.1" r="5.21"/><circle cx="1241.3" cy="118.2" r="5.21"/><circle cx="1243.7" cy="117.8" r="5.21"/><circle cx="1247.1" cy="119.0" r="5.21"/><circle cx="1249.3" cy="117.9" r="5.21"/><circle cx="1252.9" cy="118.3" r="5.21"/><circle cx="1255.0" cy="119.1" r="5.21"/><circle cx="1259.1" cy="118.2" r="5.21"/><circle cx="1261.6" cy="118.9" r="5.21"/><circle cx="1264.3" cy="118.8" r="5.21"/><circle cx="1268.2" cy="119.0" r="5.21"/><circle cx="1270.3" cy="118.1" r="5.21"/><circle cx="1274.1" cy="118.1" r="5.21"/><circle cx="1276.0" cy="119.3" r="5.21"/><circle cx="1280.1" cy="118.6" r="5.21"/><circle cx="1282.7" cy="118.3" r="5.21"/><circle cx="1284.8" cy="119.3" r="5.21"/><circle cx="1287.9" cy="118.8" r="5.21"/><circle cx="1293.8" cy="117.6" r="5.21"/><circle cx="1191.7" cy="120.9" r="5.21"/><circle cx="1194.4" cy="120.3" r="5.21"/><circle cx="1196.3" cy="121.2" r="5.21"/><circle cx="1199.7" cy="121.0" r="5.21"/><circle cx="1203.8" cy="121.7" r="5.21"/><circle cx="1206.0" cy="120.8" r="5.21"/><circle cx="1208.8" cy="122.0" r="5.21"/><circle cx="1212.5" cy="121.7" r="5.21"/><circle cx="1214.4" cy="120.8" r="5.21"/><circle cx="1217.9" cy="122.0" r="5.21"/><circle cx="1221.9" cy="120.6" r="5.21"/><circle cx="1223.2" cy="120.7" r="5.21"/><circle cx="1227.1" cy="120.8" r="5.21"/><circle cx="1230.2" cy="121.3" r="5.21"/><circle cx="1233.5" cy="121.4" r="5.21"/><circle cx="1236.0" cy="121.0" r="5.21"/><circle cx="1238.3" cy="121.0" r="5.21"/><circle cx="1241.5" cy="121.8" r="5.21"/><circle cx="1245.7" cy="121.7" r="5.21"/><circle cx="1247.5" cy="120.7" r="5.21"/><circle cx="1252.0" cy="120.4" r="5.21"/><circle cx="1253.8" cy="120.8" r="5.21"/><circle cx="1256.4" cy="121.7" r="5.21"/><circle cx="1260.8" cy="120.8" r="5.21"/><circle cx="1262.5" cy="121.9" r="5.21"/><circle cx="1266.7" cy="120.3" r="5.21"/><circle cx="1269.5" cy="122.0" r="5.21"/><circle cx="1271.4" cy="120.9" r="5.21"/><circle cx="1275.1" cy="121.9" r="5.21"/><circle cx="1277.2" cy="121.9" r="5.21"/><circle cx="1281.2" cy="120.9" r="5.21"/><circle cx="1284.9" cy="121.9" r="5.21"/><circle cx="1286.6" cy="121.7" r="5.21"/><circle cx="1289.9" cy="121.9" r="5.21"/><circle cx="1292.8" cy="121.3" r="5.21"/><circle cx="1179.7" cy="123.8" r="5.21"/><circle cx="1182.9" cy="124.5" r="5.21"/><circle cx="1186.0" cy="123.6" r="5.21"/><circle cx="1189.5" cy="122.8" r="5.21"/><circle cx="1193.0" cy="123.1" r="5.21"/><circle cx="1196.1" cy="124.4" r="5.21"/><circle cx="1198.0" cy="122.8" r="5.21"/><circle cx="1201.8" cy="123.5" r="5.21"/><circle cx="1204.5" cy="123.2" r="5.21"/><circle cx="1208.4" cy="123.2" r="5.21"/><circle cx="1210.9" cy="123.0" r="5.21"/><circle cx="1213.5" cy="124.6" r="5.21"/><circle cx="1216.3" cy="123.7" r="5.21"/><circle cx="1219.4" cy="124.1" r="5.21"/><circle cx="1223.1" cy="123.2" r="5.21"/><circle cx="1225.8" cy="123.6" r="5.21"/><circle cx="1227.9" cy="124.2" r="5.21"/><circle cx="1231.3" cy="123.1" r="5.21"/><circle cx="1235.0" cy="123.7" r="5.21"/><circle cx="1237.9" cy="123.9" r="5.21"/><circle cx="1240.0" cy="123.7" r="5.21"/><circle cx="1244.3" cy="124.6" r="5.21"/><circle cx="1246.3" cy="123.2" r="5.21"/><circle cx="1250.0" cy="123.3" r="5.21"/><circle cx="1253.5" cy="123.5" r="5.21"/><circle cx="1255.5" cy="124.0" r="5.21"/><circle cx="1258.0" cy="123.4" r="5.21"/><circle cx="1260.8" cy="123.4" r="5.21"/><circle cx="1265.0" cy="124.0" r="5.21"/><circle cx="1267.9" cy="122.8" r="5.21"/><circle cx="1269.7" cy="123.6" r="5.21"/><circle cx="1273.6" cy="124.0" r="5.21"/><circle cx="1277.2" cy="123.6" r="5.21"/><circle cx="1279.3" cy="123.9" r="5.21"/><circle cx="1282.2" cy="124.2" r="5.21"/><circle cx="1285.1" cy="123.4" r="5.21"/><circle cx="1288.6" cy="122.9" r="5.21"/><circle cx="1291.8" cy="124.3" r="5.21"/><circle cx="1178.2" cy="126.2" r="5.21"/><circle cx="1182.5" cy="126.9" r="5.21"/><circle cx="1185.6" cy="125.6" r="5.21"/><circle cx="1187.3" cy="126.9" r="5.21"/><circle cx="1191.1" cy="125.9" r="5.21"/><circle cx="1193.4" cy="126.0" r="5.21"/><circle cx="1198.0" cy="126.2" r="5.21"/><circle cx="1200.6" cy="126.5" r="5.21"/><circle cx="1203.6" cy="127.1" r="5.21"/><circle cx="1205.3" cy="126.8" r="5.21"/><circle cx="1208.8" cy="126.0" r="5.21"/><circle cx="1211.3" cy="126.2" r="5.21"/><circle cx="1216.0" cy="126.3" r="5.21"/><circle cx="1218.1" cy="126.8" r="5.21"/><circle cx="1220.9" cy="126.8" r="5.21"/><circle cx="1224.8" cy="126.0" r="5.21"/><circle cx="1227.5" cy="126.5" r="5.21"/><circle cx="1230.2" cy="125.6" r="5.21"/><circle cx="1232.7" cy="125.7" r="5.21"/><circle cx="1236.5" cy="126.7" r="5.21"/><circle cx="1238.6" cy="126.7" r="5.21"/><circle cx="1242.3" cy="125.8" r="5.21"/><circle cx="1244.9" cy="125.9" r="5.21"/><circle cx="1248.7" cy="126.6" r="5.21"/><circle cx="1250.5" cy="125.9" r="5.21"/><circle cx="1253.3" cy="126.0" r="5.21"/><circle cx="1257.0" cy="127.1" r="5.21"/><circle cx="1260.3" cy="126.5" r="5.21"/><circle cx="1262.8" cy="125.4" r="5.21"/><circle cx="1266.6" cy="125.7" r="5.21"/><circle cx="1268.6" cy="126.6" r="5.21"/><circle cx="1271.2" cy="126.3" r="5.21"/><circle cx="1274.6" cy="126.1" r="5.21"/><circle cx="1277.2" cy="125.9" r="5.21"/><circle cx="1280.8" cy="126.2" r="5.21"/><circle cx="1283.8" cy="125.5" r="5.21"/><circle cx="1287.5" cy="126.3" r="5.21"/><circle cx="1174.4" cy="129.7" r="5.21"/><circle cx="1177.7" cy="129.3" r="5.21"/><circle cx="1180.4" cy="128.2" r="5.21"/><circle cx="1183.0" cy="128.3" r="5.21"/><circle cx="1186.8" cy="129.2" r="5.21"/><circle cx="1190.2" cy="129.4" r="5.21"/><circle cx="1192.6" cy="128.3" r="5.21"/><circle cx="1194.9" cy="128.2" r="5.21"/><circle cx="1199.3" cy="129.2" r="5.21"/><circle cx="1201.1" cy="129.1" r="5.21"/><circle cx="1203.7" cy="128.2" r="5.21"/><circle cx="1207.8" cy="128.2" r="5.21"/><circle cx="1210.1" cy="129.1" r="5.21"/><circle cx="1213.3" cy="129.7" r="5.21"/><circle cx="1216.4" cy="129.0" r="5.21"/><circle cx="1220.5" cy="129.4" r="5.21"/><circle cx="1223.0" cy="129.2" r="5.21"/><circle cx="1226.4" cy="129.4" r="5.21"/><circle cx="1228.7" cy="128.8" r="5.21"/><circle cx="1232.1" cy="128.4" r="5.21"/><circle cx="1234.6" cy="128.8" r="5.21"/><circle cx="1238.0" cy="129.8" r="5.21"/><circle cx="1241.1" cy="128.5" r="5.21"/><circle cx="1243.6" cy="129.7" r="5.21"/><circle cx="1246.3" cy="128.1" r="5.21"/><circle cx="1249.6" cy="128.6" r="5.21"/><circle cx="1252.6" cy="128.2" r="5.21"/><circle cx="1255.5" cy="128.7" r="5.21"/><circle cx="1258.6" cy="128.7" r="5.21"/><circle cx="1260.7" cy="129.0" r="5.21"/><circle cx="1264.2" cy="128.7" r="5.21"/><circle cx="1268.0" cy="128.9" r="5.21"/><circle cx="1269.7" cy="128.3" r="5.21"/><circle cx="1273.3" cy="128.8" r="5.21"/><circle cx="1277.4" cy="128.8" r="5.21"/><circle cx="1280.4" cy="129.2" r="5.21"/><circle cx="1283.2" cy="128.6" r="5.21"/><circle cx="1173.8" cy="131.5" r="5.21"/><circle cx="1175.5" cy="131.5" r="5.21"/><circle cx="1178.5" cy="132.2" r="5.21"/><circle cx="1182.7" cy="130.9" r="5.21"/><circle cx="1185.0" cy="130.8" r="5.21"/><circle cx="1188.8" cy="132.0" r="5.21"/><circle cx="1191.3" cy="132.2" r="5.21"/><circle cx="1194.3" cy="130.7" r="5.21"/><circle cx="1196.5" cy="131.1" r="5.21"/><circle cx="1200.1" cy="131.7" r="5.21"/><circle cx="1203.0" cy="130.9" r="5.21"/><circle cx="1206.2" cy="131.2" r="5.21"/><circle cx="1209.9" cy="132.3" r="5.21"/><circle cx="1211.3" cy="131.3" r="5.21"/><circle cx="1214.6" cy="132.0" r="5.21"/><circle cx="1217.4" cy="131.6" r="5.21"/><circle cx="1221.8" cy="131.5" r="5.21"/><circle cx="1224.0" cy="131.6" r="5.21"/><circle cx="1226.5" cy="131.2" r="5.21"/><circle cx="1229.2" cy="131.7" r="5.21"/><circle cx="1233.5" cy="131.4" r="5.21"/><circle cx="1235.6" cy="132.2" r="5.21"/><circle cx="1238.3" cy="130.8" r="5.21"/><circle cx="1241.9" cy="132.4" r="5.21"/><circle cx="1245.5" cy="130.7" r="5.21"/><circle cx="1248.2" cy="130.8" r="5.21"/><circle cx="1251.0" cy="131.2" r="5.21"/><circle cx="1254.4" cy="130.9" r="5.21"/><circle cx="1256.3" cy="131.1" r="5.21"/><circle cx="1260.9" cy="132.4" r="5.21"/><circle cx="1262.4" cy="132.1" r="5.21"/><circle cx="1266.0" cy="132.4" r="5.21"/><circle cx="1268.4" cy="131.0" r="5.21"/><circle cx="1272.3" cy="131.8" r="5.21"/><circle cx="1274.2" cy="130.7" r="5.21"/><circle cx="1284.2" cy="131.7" r="5.21"/><circle cx="1171.5" cy="134.5" r="5.21"/><circle cx="1174.6" cy="133.8" r="5.21"/><circle cx="1178.2" cy="134.1" r="5.21"/><circle cx="1180.2" cy="133.7" r="5.21"/><circle cx="1183.6" cy="133.7" r="5.21"/><circle cx="1186.6" cy="133.9" r="5.21"/><circle cx="1190.2" cy="134.9" r="5.21"/><circle cx="1192.1" cy="133.4" r="5.21"/><circle cx="1194.7" cy="134.8" r="5.21"/><circle cx="1198.3" cy="134.1" r="5.21"/><circle cx="1201.0" cy="133.9" r="5.21"/><circle cx="1204.9" cy="134.3" r="5.21"/><circle cx="1207.1" cy="133.7" r="5.21"/><circle cx="1210.8" cy="134.3" r="5.21"/><circle cx="1213.7" cy="134.9" r="5.21"/><circle cx="1216.6" cy="133.8" r="5.21"/><circle cx="1220.4" cy="134.1" r="5.21"/><circle cx="1222.3" cy="133.6" r="5.21"/><circle cx="1225.6" cy="134.1" r="5.21"/><circle cx="1229.1" cy="133.4" r="5.21"/><circle cx="1231.9" cy="134.3" r="5.21"/><circle cx="1234.6" cy="133.3" r="5.21"/><circle cx="1238.2" cy="134.3" r="5.21"/><circle cx="1239.9" cy="134.9" r="5.21"/><circle cx="1243.0" cy="134.5" r="5.21"/><circle cx="1247.2" cy="134.4" r="5.21"/><circle cx="1248.8" cy="134.1" r="5.21"/><circle cx="1252.3" cy="133.5" r="5.21"/><circle cx="1256.0" cy="133.3" r="5.21"/><circle cx="1258.7" cy="135.0" r="5.21"/><circle cx="1262.3" cy="133.4" r="5.21"/><circle cx="1264.0" cy="133.9" r="5.21"/><circle cx="1267.5" cy="133.3" r="5.21"/><circle cx="1270.8" cy="134.9" r="5.21"/><circle cx="1272.8" cy="134.8" r="5.21"/><circle cx="1277.4" cy="134.1" r="5.21"/><circle cx="1179.2" cy="136.8" r="5.21"/><circle cx="1182.1" cy="136.6" r="5.21"/><circle cx="1184.2" cy="136.5" r="5.21"/><circle cx="1189.0" cy="137.5" r="5.21"/><circle cx="1190.5" cy="137.4" r="5.21"/><circle cx="1194.6" cy="137.0" r="5.21"/><circle cx="1197.5" cy="136.4" r="5.21"/><circle cx="1200.2" cy="137.2" r="5.21"/><circle cx="1202.6" cy="136.6" r="5.21"/><circle cx="1205.3" cy="137.4" r="5.21"/><circle cx="1209.1" cy="136.9" r="5.21"/><circle cx="1211.3" cy="136.5" r="5.21"/><circle cx="1215.1" cy="136.8" r="5.21"/><circle cx="1217.6" cy="137.1" r="5.21"/><circle cx="1221.9" cy="137.5" r="5.21"/><circle cx="1223.7" cy="136.8" r="5.21"/><circle cx="1226.8" cy="136.0" r="5.21"/><circle cx="1230.9" cy="137.2" r="5.21"/><circle cx="1232.7" cy="137.5" r="5.21"/><circle cx="1236.7" cy="137.4" r="5.21"/><circle cx="1239.9" cy="137.0" r="5.21"/><circle cx="1241.9" cy="137.0" r="5.21"/><circle cx="1245.7" cy="137.5" r="5.21"/><circle cx="1247.2" cy="137.3" r="5.21"/><circle cx="1251.4" cy="136.0" r="5.21"/><circle cx="1254.8" cy="136.5" r="5.21"/><circle cx="1257.9" cy="136.2" r="5.21"/><circle cx="1259.3" cy="136.9" r="5.21"/><circle cx="1262.5" cy="137.2" r="5.21"/><circle cx="1269.5" cy="136.9" r="5.21"/><circle cx="1272.6" cy="137.0" r="5.21"/><circle cx="1274.5" cy="136.5" r="5.21"/><circle cx="1180.0" cy="138.7" r="5.21"/><circle cx="1183.3" cy="139.8" r="5.21"/><circle cx="1186.9" cy="139.1" r="5.21"/><circle cx="1189.2" cy="139.3" r="5.21"/><circle cx="1192.6" cy="139.0" r="5.21"/><circle cx="1195.4" cy="139.8" r="5.21"/><circle cx="1198.5" cy="139.5" r="5.21"/><circle cx="1201.9" cy="139.3" r="5.21"/><circle cx="1203.9" cy="138.7" r="5.21"/><circle cx="1207.0" cy="139.7" r="5.21"/><circle cx="1211.3" cy="138.9" r="5.21"/><circle cx="1213.0" cy="138.7" r="5.21"/><circle cx="1216.7" cy="138.9" r="5.21"/><circle cx="1219.9" cy="139.3" r="5.21"/><circle cx="1222.9" cy="139.3" r="5.21"/><circle cx="1225.3" cy="140.2" r="5.21"/><circle cx="1228.8" cy="138.6" r="5.21"/><circle cx="1232.2" cy="139.2" r="5.21"/><circle cx="1234.6" cy="138.9" r="5.21"/><circle cx="1236.9" cy="139.7" r="5.21"/><circle cx="1244.4" cy="140.0" r="5.21"/><circle cx="1245.9" cy="140.2" r="5.21"/><circle cx="1249.8" cy="139.6" r="5.21"/><circle cx="1252.4" cy="138.7" r="5.21"/><circle cx="1255.2" cy="138.7" r="5.21"/><circle cx="1258.7" cy="140.1" r="5.21"/><circle cx="1264.1" cy="139.6" r="5.21"/><circle cx="1267.3" cy="138.6" r="5.21"/><circle cx="1270.6" cy="140.0" r="5.21"/><circle cx="1276.1" cy="139.6" r="5.21"/><circle cx="1176.4" cy="142.0" r="5.21"/><circle cx="1184.6" cy="141.8" r="5.21"/><circle cx="1188.2" cy="141.5" r="5.21"/><circle cx="1190.5" cy="142.3" r="5.21"/><circle cx="1194.5" cy="142.8" r="5.21"/><circle cx="1197.4" cy="141.8" r="5.21"/><circle cx="1200.7" cy="142.5" r="5.21"/><circle cx="1202.7" cy="142.7" r="5.21"/><circle cx="1206.9" cy="141.7" r="5.21"/><circle cx="1209.4" cy="142.6" r="5.21"/><circle cx="1212.0" cy="141.8" r="5.21"/><circle cx="1215.4" cy="142.1" r="5.21"/><circle cx="1217.2" cy="141.1" r="5.21"/><circle cx="1220.4" cy="142.6" r="5.21"/><circle cx="1224.8" cy="141.5" r="5.21"/><circle cx="1233.1" cy="142.1" r="5.21"/><circle cx="1235.9" cy="142.3" r="5.21"/><circle cx="1242.2" cy="141.7" r="5.21"/><circle cx="1248.7" cy="141.4" r="5.21"/><circle cx="1253.5" cy="141.7" r="5.21"/><circle cx="1257.5" cy="141.9" r="5.21"/><circle cx="1260.7" cy="141.8" r="5.21"/><circle cx="1274.6" cy="141.2" r="5.21"/><circle cx="1189.3" cy="145.4" r="5.21"/><circle cx="1193.4" cy="144.1" r="5.21"/><circle cx="1196.1" cy="144.0" r="5.21"/><circle cx="1197.7" cy="143.9" r="5.21"/><circle cx="1200.8" cy="144.5" r="5.21"/><circle cx="1205.0" cy="144.6" r="5.21"/><circle cx="1208.2" cy="144.0" r="5.21"/><circle cx="1211.3" cy="144.7" r="5.21"/><circle cx="1213.0" cy="144.3" r="5.21"/><circle cx="1216.0" cy="144.8" r="5.21"/><circle cx="1231.7" cy="144.0" r="5.21"/><circle cx="1237.7" cy="145.0" r="5.21"/><circle cx="1246.7" cy="144.2" r="5.21"/><circle cx="1249.1" cy="145.3" r="5.21"/><circle cx="1190.4" cy="146.3" r="5.21"/><circle cx="1193.4" cy="147.8" r="5.21"/><circle cx="1197.9" cy="147.5" r="5.21"/><circle cx="1200.5" cy="146.9" r="5.21"/><circle cx="1202.3" cy="147.8" r="5.21"/><circle cx="1206.2" cy="147.6" r="5.21"/><circle cx="1208.4" cy="146.9" r="5.21"/><circle cx="1212.2" cy="146.6" r="5.21"/><circle cx="1215.0" cy="146.3" r="5.21"/><circle cx="1189.1" cy="149.8" r="5.21"/><circle cx="1195.8" cy="149.0" r="5.21"/><circle cx="1199.1" cy="149.8" r="5.21"/><circle cx="1201.6" cy="150.3" r="5.21"/><circle cx="1204.2" cy="149.8" r="5.21"/><circle cx="1206.7" cy="149.9" r="5.21"/><circle cx="1211.0" cy="149.3" r="5.21"/><circle cx="1193.8" cy="151.6" r="5.21"/><circle cx="1199.5" cy="152.0" r="5.21"/><circle cx="1203.7" cy="152.8" r="5.21"/><circle cx="1206.5" cy="151.6" r="5.21"/><circle cx="1212.4" cy="151.9" r="5.21"/><circle cx="1203.8" cy="154.5" r="5.21"/><circle cx="1160.8" cy="127.3" r="5.21"/><circle cx="1157.0" cy="147.6" r="5.21"/><circle cx="1171.0" cy="151.7" r="5.21"/><circle cx="1199.9" cy="88.0" r="5.21"/><circle cx="1233.1" cy="76.5" r="5.21"/><circle cx="1241.5" cy="68.3" r="5.21"/><circle cx="1231.3" cy="152.3" r="5.21"/><circle cx="1243.5" cy="155.0" r="5.21"/><circle cx="1213.7" cy="148.9" r="5.21"/><circle cx="1185.2" cy="148.3" r="5.21"/><circle cx="1176.4" cy="121.8" r="5.21"/><circle cx="1205.6" cy="94.1" r="5.21"/><circle cx="1279.0" cy="57.5" r="5.21"/><circle cx="1272.2" cy="62.9" r="5.21"/><circle cx="1242.0" cy="67.6" r="5.21"/><circle cx="1313.2" cy="93.4" r="5.21"/><circle cx="1315.9" cy="96.1" r="5.21"/><circle cx="1305.7" cy="110.3" r="5.21"/><circle cx="1308.4" cy="120.5" r="5.21"/><circle cx="1312.5" cy="118.5" r="5.21"/><circle cx="1292.8" cy="129.3" r="5.21"/><circle cx="1277.9" cy="145.6" r="5.21"/><circle cx="1257.6" cy="150.3" r="5.21"/><circle cx="1243.4" cy="155.0" r="5.21"/><circle cx="1305.0" cy="62.9" r="5.21"/><circle cx="1310.5" cy="88.7" r="5.21"/><circle cx="1294.2" cy="125.2" r="5.21"/><circle cx="1157.6" cy="163.2" r="5.21"/><circle cx="1159.5" cy="163.2" r="5.21"/><circle cx="1161.1" cy="163.2" r="5.21"/><circle cx="1162.6" cy="163.2" r="5.21"/><circle cx="1164.4" cy="163.2" r="5.21"/><circle cx="1165.8" cy="163.2" r="5.21"/><circle cx="1167.3" cy="163.2" r="5.21"/><circle cx="1169.1" cy="163.2" r="5.21"/><circle cx="1171.0" cy="163.2" r="5.21"/><circle cx="1171.9" cy="163.2" r="5.21"/><circle cx="1173.8" cy="163.2" r="5.21"/><circle cx="1175.1" cy="163.2" r="5.21"/><circle cx="1177.2" cy="163.2" r="5.21"/><circle cx="1178.6" cy="163.2" r="5.21"/><circle cx="1180.5" cy="163.2" r="5.21"/><circle cx="1181.9" cy="163.2" r="5.21"/><circle cx="1183.8" cy="163.2" r="5.21"/><circle cx="1185.1" cy="163.2" r="5.21"/><circle cx="1186.7" cy="163.2" r="5.21"/><circle cx="1188.6" cy="163.2" r="5.21"/><circle cx="1190.1" cy="163.2" r="5.21"/><circle cx="1191.3" cy="163.2" r="5.21"/><circle cx="1192.7" cy="163.2" r="5.21"/><circle cx="1194.9" cy="163.2" r="5.21"/><circle cx="1195.9" cy="163.2" r="5.21"/><circle cx="1198.2" cy="163.2" r="5.21"/><circle cx="1199.8" cy="163.2" r="5.21"/><circle cx="1201.1" cy="163.2" r="5.21"/><circle cx="1203.0" cy="163.2" r="5.21"/><circle cx="1204.3" cy="163.2" r="5.21"/><circle cx="1206.0" cy="163.2" r="5.21"/><circle cx="1207.5" cy="163.2" r="5.21"/><circle cx="1208.8" cy="163.2" r="5.21"/><circle cx="1210.3" cy="163.2" r="5.21"/><circle cx="1212.4" cy="163.2" r="5.21"/><circle cx="1213.8" cy="163.2" r="5.21"/><circle cx="1215.1" cy="163.2" r="5.21"/><circle cx="1217.1" cy="163.2" r="5.21"/><circle cx="1218.4" cy="163.2" r="5.21"/><circle cx="1220.0" cy="163.2" r="5.21"/><circle cx="1222.1" cy="163.2" r="5.21"/><circle cx="1223.5" cy="163.2" r="5.21"/><circle cx="1225.2" cy="163.2" r="5.21"/><circle cx="1226.9" cy="163.2" r="5.21"/><circle cx="1228.2" cy="163.2" r="5.21"/><circle cx="1229.8" cy="163.2" r="5.21"/><circle cx="1231.4" cy="163.2" r="5.21"/><circle cx="1232.9" cy="163.2" r="5.21"/><circle cx="1234.8" cy="163.2" r="5.21"/><circle cx="1236.5" cy="163.2" r="5.21"/><circle cx="1237.7" cy="163.2" r="5.21"/><circle cx="1239.6" cy="163.2" r="5.21"/><circle cx="1240.8" cy="163.2" r="5.21"/><circle cx="1242.2" cy="163.2" r="5.21"/><circle cx="1244.4" cy="163.2" r="5.21"/><circle cx="1246.0" cy="163.2" r="5.21"/><circle cx="1247.3" cy="163.2" r="5.21"/><circle cx="1249.4" cy="163.2" r="5.21"/><circle cx="1250.8" cy="163.2" r="5.21"/><circle cx="1252.1" cy="163.2" r="5.21"/><circle cx="1254.0" cy="163.2" r="5.21"/><circle cx="1255.7" cy="163.2" r="5.21"/><circle cx="1256.7" cy="163.2" r="5.21"/><circle cx="1258.9" cy="163.2" r="5.21"/><circle cx="1260.2" cy="163.2" r="5.21"/><circle cx="1261.6" cy="163.2" r="5.21"/><circle cx="1263.3" cy="163.2" r="5.21"/><circle cx="1265.0" cy="163.2" r="5.21"/><circle cx="1271.2" cy="162.9" r="5.21"/><circle cx="1282.3" cy="162.9" r="5.21"/><circle cx="1284.7" cy="162.9" r="5.21"/><circle cx="1293.5" cy="162.9" r="5.21"/></g>
<path class="d" d="M1157.3,164.4 L1177.7,153.9 M1197.7,143.6 L1217.5,131.3 M1236.7,119.9 L1256.6,107.8 M1276.1,97.2 L1296.9,87.1"/>
</g>
<g id="panel6">
<rect x="71.20" y="189.28" width="241.17" height="35.15" fill="#ccc"/>
<text class="t" transform="translate(192.08 214.78) scale(0.985 0.98)" text-anchor="middle">6</text>
<g class="p"><circle cx="208.2" cy="261.0" r="5.21"/><circle cx="200.0" cy="267.7" r="5.21"/><circle cx="165.9" cy="272.0" r="5.21"/><circle cx="220.8" cy="269.0" r="5.21"/><circle cx="228.3" cy="267.5" r="5.21"/><circle cx="229.5" cy="269.0" r="5.21"/><circle cx="231.0" cy="271.4" r="5.21"/><circle cx="244.8" cy="271.7" r="5.21"/><circle cx="236.9" cy="286.3" r="5.21"/><circle cx="205.7" cy="277.7" r="5.21"/><circle cx="213.8" cy="280.6" r="5.21"/><circle cx="183.6" cy="282.1" r="5.21"/><circle cx="201.9" cy="282.9" r="5.21"/><circle cx="195.2" cy="285.1" r="5.21"/><circle cx="192.3" cy="286.6" r="5.21"/><circle cx="177.4" cy="287.3" r="5.21"/><circle cx="176.6" cy="289.6" r="5.21"/><circle cx="177.1" cy="296.7" r="5.21"/><circle cx="198.2" cy="288.1" r="5.21"/><circle cx="204.2" cy="286.6" r="5.21"/><circle cx="210.1" cy="285.1" r="5.21"/><circle cx="217.6" cy="285.1" r="5.21"/><circle cx="214.6" cy="289.6" r="5.21"/><circle cx="204.2" cy="292.5" r="5.21"/><circle cx="201.2" cy="295.5" r="5.21"/><circle cx="213.1" cy="297.8" r="5.21"/><circle cx="225.0" cy="296.3" r="5.21"/><circle cx="226.5" cy="299.2" r="5.21"/><circle cx="226.2" cy="307.7" r="5.21"/><circle cx="234.2" cy="307.7" r="5.21"/><circle cx="194.9" cy="301.0" r="5.21"/><circle cx="198.2" cy="304.5" r="5.21"/><circle cx="193.0" cy="308.5" r="5.21"/><circle cx="180.4" cy="307.4" r="5.21"/><circle cx="204.2" cy="313.1" r="5.21"/><circle cx="180.4" cy="317.5" r="5.21"/><circle cx="174.4" cy="319.3" r="5.21"/><circle cx="169.9" cy="322.0" r="5.21"/><circle cx="187.1" cy="321.6" r="5.21"/><circle cx="196.7" cy="319.3" r="5.21"/><circle cx="198.2" cy="322.3" r="5.21"/><circle cx="201.9" cy="323.1" r="5.21"/><circle cx="206.4" cy="320.8" r="5.21"/><circle cx="207.1" cy="324.5" r="5.21"/><circle cx="219.0" cy="325.3" r="5.21"/><circle cx="240.2" cy="323.4" r="5.21"/><circle cx="140.2" cy="324.5" r="5.21"/><circle cx="147.3" cy="323.5" r="5.21"/><circle cx="155.4" cy="324.1" r="5.21"/><circle cx="176.6" cy="332.7" r="5.21"/><circle cx="207.1" cy="288.1" r="5.21"/><circle cx="199.7" cy="285.1" r="5.21"/><circle cx="196.7" cy="286.6" r="5.21"/><circle cx="202.7" cy="289.6" r="5.21"/><circle cx="207.1" cy="291.1" r="5.21"/><circle cx="210.1" cy="288.1" r="5.21"/><circle cx="204.2" cy="285.1" r="5.21"/><circle cx="199.7" cy="291.1" r="5.21"/><circle cx="201.2" cy="321.6" r="5.21"/><circle cx="204.2" cy="323.8" r="5.21"/><circle cx="122.6" cy="338.7" r="5.21"/><circle cx="132.0" cy="338.7" r="5.21"/><circle cx="146.9" cy="338.7" r="5.21"/><circle cx="154.3" cy="338.7" r="5.21"/><circle cx="160.3" cy="338.7" r="5.21"/><circle cx="165.5" cy="338.7" r="5.21"/><circle cx="176.6" cy="338.7" r="5.21"/><circle cx="188.5" cy="338.7" r="5.21"/><circle cx="189.3" cy="338.7" r="5.21"/><circle cx="214.6" cy="338.7" r="5.21"/><circle cx="219.8" cy="338.7" r="5.21"/></g>
<path class="d" d="M123.1,337.6 L143.9,328.0 M164.3,318.6 L184.8,308.9 M205.7,299.2 L226.8,291.4"/>
<path class="a" d="M71.50,353.15V222.88M64.83,338.81H71.50M64.83,299.07H71.50M64.83,259.33H71.50"/>
<text class="t" transform="translate(58.40 347.41) scale(0.985 0.98)" text-anchor="end">0</text>
<text class="t" transform="translate(58.40 307.87) scale(0.985 0.98)" text-anchor="end">2</text>
<text class="t" transform="translate(58.40 267.83) scale(0.985 1.04)" text-anchor="end">4</text>
</g>
<g id="panel7">
<rect x="325.70" y="189.28" width="241.17" height="35.15" fill="#ccc"/>
<text class="t" transform="translate(446.58 214.78) scale(0.985 1.04)" text-anchor="middle">7</text>
<g class="p"><circle cx="473.5" cy="265.8" r="5.21"/><circle cx="498.4" cy="269.0" r="5.21"/><circle cx="453.8" cy="280.6" r="5.21"/><circle cx="456.4" cy="287.3" r="5.21"/><circle cx="451.1" cy="291.8" r="5.21"/><circle cx="444.4" cy="300.3" r="5.21"/><circle cx="475.0" cy="292.8" r="5.21"/><circle cx="467.9" cy="297.0" r="5.21"/><circle cx="470.1" cy="304.8" r="5.21"/><circle cx="485.7" cy="305.9" r="5.21"/><circle cx="479.0" cy="312.6" r="5.21"/><circle cx="464.2" cy="313.7" r="5.21"/><circle cx="456.4" cy="314.9" r="5.21"/><circle cx="450.0" cy="320.1" r="5.21"/><circle cx="441.8" cy="320.1" r="5.21"/><circle cx="431.4" cy="321.6" r="5.21"/><circle cx="395.7" cy="313.8" r="5.21"/><circle cx="409.6" cy="312.6" r="5.21"/><circle cx="419.5" cy="310.4" r="5.21"/><circle cx="424.0" cy="309.7" r="5.21"/><circle cx="427.0" cy="309.2" r="5.21"/><circle cx="432.2" cy="310.4" r="5.21"/><circle cx="437.4" cy="311.1" r="5.21"/><circle cx="382.3" cy="338.7" r="5.21"/><circle cx="467.9" cy="338.7" r="5.21"/><circle cx="477.6" cy="338.7" r="5.21"/><circle cx="484.7" cy="338.7" r="5.21"/><circle cx="386.5" cy="338.7" r="5.21"/><circle cx="388.1" cy="338.7" r="5.21"/><circle cx="389.7" cy="338.7" r="5.21"/><circle cx="392.0" cy="338.7" r="5.21"/><circle cx="393.9" cy="338.7" r="5.21"/><circle cx="395.6" cy="338.7" r="5.21"/><circle cx="397.2" cy="338.7" r="5.21"/><circle cx="399.4" cy="338.7" r="5.21"/><circle cx="400.5" cy="338.7" r="5.21"/><circle cx="402.4" cy="338.7" r="5.21"/><circle cx="404.1" cy="338.7" r="5.21"/><circle cx="406.3" cy="338.7" r="5.21"/><circle cx="408.1" cy="338.7" r="5.21"/><circle cx="409.7" cy="338.7" r="5.21"/><circle cx="411.7" cy="338.7" r="5.21"/><circle cx="413.1" cy="338.7" r="5.21"/><circle cx="414.9" cy="338.7" r="5.21"/><circle cx="417.5" cy="338.7" r="5.21"/><circle cx="419.2" cy="338.7" r="5.21"/><circle cx="420.3" cy="338.7" r="5.21"/><circle cx="422.6" cy="338.7" r="5.21"/><circle cx="424.3" cy="338.7" r="5.21"/><circle cx="426.1" cy="338.7" r="5.21"/><circle cx="428.2" cy="338.7" r="5.21"/><circle cx="429.8" cy="338.7" r="5.21"/><circle cx="431.8" cy="338.7" r="5.21"/><circle cx="433.4" cy="338.7" r="5.21"/><circle cx="435.4" cy="338.7" r="5.21"/><circle cx="436.6" cy="338.7" r="5.21"/><circle cx="438.9" cy="338.7" r="5.21"/><circle cx="440.3" cy="338.7" r="5.21"/><circle cx="442.6" cy="338.7" r="5.21"/><circle cx="444.3" cy="338.7" r="5.21"/><circle cx="446.3" cy="338.7" r="5.21"/><circle cx="447.9" cy="338.7" r="5.21"/><circle cx="449.4" cy="338.7" r="5.21"/><circle cx="451.3" cy="338.7" r="5.21"/><circle cx="453.3" cy="338.7" r="5.21"/><circle cx="454.5" cy="338.7" r="5.21"/><circle cx="456.7" cy="338.7" r="5.21"/><circle cx="458.5" cy="338.7" r="5.21"/><circle cx="460.5" cy="338.7" r="5.21"/><circle cx="462.0" cy="338.7" r="5.21"/><circle cx="464.0" cy="338.7" r="5.21"/></g>
<path class="d" d="M383.5,336.0 L405.8,338.4 M429.2,339.0 L437.4,338.4 L444.1,335.4 L450.0,331.7 M467.9,317.1 L484.3,301.9"/>
</g>
<g id="panel8">
<rect x="580.20" y="189.28" width="241.17" height="35.15" fill="#ccc"/>
<text class="t" transform="translate(701.09 214.78) scale(0.985 0.98)" text-anchor="middle">8</text>
<g class="p"><circle cx="733.5" cy="249.4" r="5.21"/><circle cx="752.4" cy="249.8" r="5.21"/><circle cx="750.2" cy="255.5" r="5.21"/><circle cx="708.8" cy="255.5" r="5.21"/><circle cx="708.2" cy="265.9" r="5.21"/><circle cx="721.5" cy="263.9" r="5.21"/><circle cx="726.8" cy="265.7" r="5.21"/><circle cx="697.4" cy="269.2" r="5.21"/><circle cx="710.5" cy="271.8" r="5.21"/><circle cx="685.9" cy="275.1" r="5.21"/><circle cx="699.2" cy="278.1" r="5.21"/><circle cx="685.9" cy="281.8" r="5.21"/><circle cx="721.2" cy="275.1" r="5.21"/><circle cx="722.7" cy="278.8" r="5.21"/><circle cx="724.2" cy="281.8" r="5.21"/><circle cx="715.2" cy="285.5" r="5.21"/><circle cx="719.7" cy="286.3" r="5.21"/><circle cx="722.7" cy="285.5" r="5.21"/><circle cx="689.6" cy="289.2" r="5.21"/><circle cx="710.0" cy="292.2" r="5.21"/><circle cx="681.0" cy="295.9" r="5.21"/><circle cx="686.2" cy="297.4" r="5.21"/><circle cx="695.9" cy="295.9" r="5.21"/><circle cx="730.9" cy="290.7" r="5.21"/><circle cx="735.8" cy="292.2" r="5.21"/><circle cx="752.9" cy="291.5" r="5.21"/><circle cx="754.7" cy="295.6" r="5.21"/><circle cx="719.4" cy="295.2" r="5.21"/><circle cx="718.2" cy="300.4" r="5.21"/><circle cx="707.1" cy="304.4" r="5.21"/><circle cx="685.5" cy="301.9" r="5.21"/><circle cx="692.9" cy="312.3" r="5.21"/><circle cx="720.7" cy="310.5" r="5.21"/><circle cx="730.1" cy="313.1" r="5.21"/><circle cx="733.8" cy="310.8" r="5.21"/><circle cx="738.6" cy="310.5" r="5.21"/><circle cx="758.7" cy="307.8" r="5.21"/><circle cx="696.9" cy="323.5" r="5.21"/><circle cx="662.4" cy="327.2" r="5.21"/><circle cx="685.5" cy="298.9" r="5.21"/><circle cx="724.9" cy="284.0" r="5.21"/><circle cx="652.7" cy="339.1" r="5.21"/><circle cx="662.4" cy="339.1" r="5.21"/><circle cx="670.6" cy="339.1" r="5.21"/><circle cx="672.8" cy="339.1" r="5.21"/><circle cx="677.3" cy="339.1" r="5.21"/><circle cx="681.8" cy="339.1" r="5.21"/><circle cx="692.5" cy="339.1" r="5.21"/><circle cx="705.6" cy="339.1" r="5.21"/><circle cx="707.8" cy="339.1" r="5.21"/><circle cx="731.3" cy="339.1" r="5.21"/></g>
<path class="d" d="M653.0,339.4 L669.6,324.2 M686.7,308.6 L695.9,301.9 L705.1,296.4 M726.8,288.2 L737.6,285.8 L748.7,284.3"/>
</g>
<g id="panel9">
<rect x="834.70" y="189.28" width="241.17" height="35.15" fill="#ccc"/>
<text class="t" transform="translate(955.59 214.78) scale(0.985 0.98)" text-anchor="middle">9</text>
<g class="p"><circle cx="961.0" cy="282.1" r="5.21"/><circle cx="949.6" cy="303.0" r="5.21"/><circle cx="957.5" cy="303.7" r="5.21"/><circle cx="984.3" cy="305.6" r="5.21"/><circle cx="998.7" cy="301.8" r="5.21"/><circle cx="973.1" cy="314.9" r="5.21"/><circle cx="911.3" cy="306.4" r="5.21"/><circle cx="913.6" cy="314.4" r="5.21"/><circle cx="903.2" cy="322.8" r="5.21"/><circle cx="893.8" cy="327.8" r="5.21"/><circle cx="913.9" cy="323.8" r="5.21"/><circle cx="928.8" cy="310.4" r="5.21"/><circle cx="926.5" cy="313.4" r="5.21"/><circle cx="934.3" cy="311.8" r="5.21"/><circle cx="923.0" cy="314.5" r="5.21"/><circle cx="924.5" cy="314.4" r="5.21"/><circle cx="927.7" cy="315.3" r="5.21"/><circle cx="932.6" cy="313.5" r="5.21"/><circle cx="924.3" cy="317.0" r="5.21"/><circle cx="926.9" cy="317.4" r="5.21"/><circle cx="930.3" cy="318.0" r="5.21"/><circle cx="934.1" cy="317.3" r="5.21"/><circle cx="937.0" cy="317.6" r="5.21"/><circle cx="918.8" cy="320.1" r="5.21"/><circle cx="922.6" cy="319.6" r="5.21"/><circle cx="925.2" cy="320.5" r="5.21"/><circle cx="928.9" cy="320.9" r="5.21"/><circle cx="930.9" cy="320.7" r="5.21"/><circle cx="935.3" cy="320.6" r="5.21"/><circle cx="938.0" cy="320.8" r="5.21"/><circle cx="941.8" cy="320.6" r="5.21"/><circle cx="920.4" cy="322.7" r="5.21"/><circle cx="923.4" cy="323.4" r="5.21"/><circle cx="926.9" cy="323.0" r="5.21"/><circle cx="929.3" cy="322.5" r="5.21"/><circle cx="932.8" cy="322.8" r="5.21"/><circle cx="936.2" cy="323.2" r="5.21"/><circle cx="940.2" cy="323.2" r="5.21"/><circle cx="942.2" cy="323.4" r="5.21"/><circle cx="916.5" cy="325.7" r="5.21"/><circle cx="919.2" cy="325.4" r="5.21"/><circle cx="922.8" cy="324.9" r="5.21"/><circle cx="925.1" cy="325.1" r="5.21"/><circle cx="927.9" cy="325.1" r="5.21"/><circle cx="932.6" cy="324.9" r="5.21"/><circle cx="934.8" cy="325.8" r="5.21"/><circle cx="938.5" cy="324.9" r="5.21"/><circle cx="941.5" cy="325.9" r="5.21"/><circle cx="943.8" cy="325.8" r="5.21"/><circle cx="920.9" cy="328.5" r="5.21"/><circle cx="924.1" cy="328.3" r="5.21"/><circle cx="927.6" cy="328.0" r="5.21"/><circle cx="930.5" cy="329.2" r="5.21"/><circle cx="933.3" cy="328.1" r="5.21"/><circle cx="936.3" cy="328.8" r="5.21"/><circle cx="939.8" cy="327.9" r="5.21"/><circle cx="943.5" cy="327.6" r="5.21"/><circle cx="921.5" cy="330.9" r="5.21"/><circle cx="941.4" cy="330.9" r="5.21"/><circle cx="944.7" cy="331.6" r="5.21"/><circle cx="845.4" cy="338.7" r="5.21"/><circle cx="1017.3" cy="338.7" r="5.21"/><circle cx="881.5" cy="338.7" r="5.21"/><circle cx="883.5" cy="338.7" r="5.21"/><circle cx="885.2" cy="338.7" r="5.21"/><circle cx="887.4" cy="338.7" r="5.21"/><circle cx="888.9" cy="338.7" r="5.21"/><circle cx="890.5" cy="338.7" r="5.21"/><circle cx="892.4" cy="338.7" r="5.21"/><circle cx="894.2" cy="338.7" r="5.21"/><circle cx="896.3" cy="338.7" r="5.21"/><circle cx="898.0" cy="338.7" r="5.21"/><circle cx="899.8" cy="338.7" r="5.21"/><circle cx="901.3" cy="338.7" r="5.21"/><circle cx="903.5" cy="338.7" r="5.21"/><circle cx="905.1" cy="338.7" r="5.21"/><circle cx="906.7" cy="338.7" r="5.21"/><circle cx="908.5" cy="338.7" r="5.21"/><circle cx="910.4" cy="338.7" r="5.21"/><circle cx="912.4" cy="338.7" r="5.21"/><circle cx="914.0" cy="338.7" r="5.21"/><circle cx="916.0" cy="338.7" r="5.21"/><circle cx="917.6" cy="338.7" r="5.21"/><circle cx="919.9" cy="338.7" r="5.21"/><circle cx="921.8" cy="338.7" r="5.21"/><circle cx="923.1" cy="338.7" r="5.21"/><circle cx="924.7" cy="338.7" r="5.21"/><circle cx="927.2" cy="338.7" r="5.21"/><circle cx="928.3" cy="338.7" r="5.21"/><circle cx="930.6" cy="338.7" r="5.21"/><circle cx="932.5" cy="338.7" r="5.21"/><circle cx="934.1" cy="338.7" r="5.21"/><circle cx="936.2" cy="338.7" r="5.21"/><circle cx="937.4" cy="338.7" r="5.21"/><circle cx="939.7" cy="338.7" r="5.21"/><circle cx="941.6" cy="338.7" r="5.21"/><circle cx="943.4" cy="338.7" r="5.21"/><circle cx="945.2" cy="338.7" r="5.21"/><circle cx="946.6" cy="338.7" r="5.21"/><circle cx="948.5" cy="338.7" r="5.21"/><circle cx="950.6" cy="338.7" r="5.21"/><circle cx="952.0" cy="338.7" r="5.21"/><circle cx="953.7" cy="338.7" r="5.21"/><circle cx="955.3" cy="338.7" r="5.21"/><circle cx="957.2" cy="338.7" r="5.21"/><circle cx="959.0" cy="338.7" r="5.21"/><circle cx="961.4" cy="338.7" r="5.21"/><circle cx="962.7" cy="338.7" r="5.21"/><circle cx="964.6" cy="338.7" r="5.21"/><circle cx="966.9" cy="338.7" r="5.21"/></g>
<path class="d" d="M846.2,338.7 L868.8,338.7 M891.5,338.5 L913.9,338.5 M936.9,338.4 L948.1,336.6 L959.3,334.2 M981.1,327.5 L1002.4,319.8"/>
</g>
<g id="panel10">
<rect x="1089.20" y="189.28" width="241.17" height="35.15" fill="#ccc"/>
<text class="t" transform="translate(1210.09 214.78) scale(0.985 0.98)" text-anchor="middle">10</text>
<g class="p"><circle cx="1192.9" cy="305.2" r="5.21"/><circle cx="1198.9" cy="305.9" r="5.21"/><circle cx="1195.9" cy="310.4" r="5.21"/><circle cx="1195.1" cy="314.1" r="5.21"/><circle cx="1204.5" cy="320.8" r="5.21"/><circle cx="1192.2" cy="332.7" r="5.21"/><circle cx="1202.6" cy="333.5" r="5.21"/><circle cx="1149.3" cy="338.7" r="5.21"/><circle cx="1224.9" cy="338.7" r="5.21"/><circle cx="1226.0" cy="338.7" r="5.21"/><circle cx="1226.8" cy="338.7" r="5.21"/><circle cx="1240.2" cy="338.7" r="5.21"/><circle cx="1155.1" cy="338.7" r="5.21"/><circle cx="1156.7" cy="338.7" r="5.21"/><circle cx="1158.3" cy="338.7" r="5.21"/><circle cx="1160.3" cy="338.7" r="5.21"/><circle cx="1162.0" cy="338.7" r="5.21"/><circle cx="1164.3" cy="338.7" r="5.21"/><circle cx="1165.7" cy="338.7" r="5.21"/><circle cx="1167.9" cy="338.7" r="5.21"/><circle cx="1169.2" cy="338.7" r="5.21"/><circle cx="1170.8" cy="338.7" r="5.21"/><circle cx="1173.3" cy="338.7" r="5.21"/><circle cx="1174.4" cy="338.7" r="5.21"/><circle cx="1176.8" cy="338.7" r="5.21"/><circle cx="1178.4" cy="338.7" r="5.21"/><circle cx="1180.0" cy="338.7" r="5.21"/><circle cx="1182.2" cy="338.7" r="5.21"/><circle cx="1183.7" cy="338.7" r="5.21"/><circle cx="1186.0" cy="338.7" r="5.21"/><circle cx="1187.4" cy="338.7" r="5.21"/><circle cx="1189.5" cy="338.7" r="5.21"/><circle cx="1191.3" cy="338.7" r="5.21"/><circle cx="1192.7" cy="338.7" r="5.21"/><circle cx="1194.7" cy="338.7" r="5.21"/><circle cx="1196.6" cy="338.7" r="5.21"/><circle cx="1198.3" cy="338.7" r="5.21"/><circle cx="1199.6" cy="338.7" r="5.21"/><circle cx="1201.9" cy="338.7" r="5.21"/><circle cx="1203.8" cy="338.7" r="5.21"/><circle cx="1205.1" cy="338.7" r="5.21"/><circle cx="1206.8" cy="338.7" r="5.21"/><circle cx="1208.6" cy="338.7" r="5.21"/><circle cx="1210.8" cy="338.7" r="5.21"/><circle cx="1212.3" cy="338.7" r="5.21"/><circle cx="1214.6" cy="338.7" r="5.21"/><circle cx="1216.1" cy="338.7" r="5.21"/><circle cx="1218.4" cy="338.7" r="5.21"/></g>
<path class="d" d="M1149.8,338.7 L1172.5,338.7 M1195.4,338.4 L1217.9,338.4"/>
</g>
<g id="panel11">
<rect x="71.20" y="365.23" width="241.17" height="35.15" fill="#ccc"/>
<text class="t" transform="translate(192.08 390.73) scale(0.985 1.04)" text-anchor="middle">11</text>
<g class="p"><circle cx="243.3" cy="433.9" r="5.21"/><circle cx="238.4" cy="438.0" r="5.21"/><circle cx="241.1" cy="443.2" r="5.21"/><circle cx="218.6" cy="448.8" r="5.21"/><circle cx="226.5" cy="448.2" r="5.21"/><circle cx="212.4" cy="457.7" r="5.21"/><circle cx="215.3" cy="458.9" r="5.21"/><circle cx="229.2" cy="461.4" r="5.21"/><circle cx="239.1" cy="463.3" r="5.21"/><circle cx="234.7" cy="464.8" r="5.21"/><circle cx="236.9" cy="467.8" r="5.21"/><circle cx="246.6" cy="470.0" r="5.21"/><circle cx="203.1" cy="472.3" r="5.21"/><circle cx="218.3" cy="470.0" r="5.21"/><circle cx="219.8" cy="468.5" r="5.21"/><circle cx="242.9" cy="477.5" r="5.21"/><circle cx="184.1" cy="481.2" r="5.21"/><circle cx="189.3" cy="484.9" r="5.21"/><circle cx="194.9" cy="481.9" r="5.21"/><circle cx="201.2" cy="484.2" r="5.21"/><circle cx="204.2" cy="483.4" r="5.21"/><circle cx="213.1" cy="483.4" r="5.21"/><circle cx="217.6" cy="481.9" r="5.21"/><circle cx="223.5" cy="483.4" r="5.21"/><circle cx="228.0" cy="484.9" r="5.21"/><circle cx="241.4" cy="483.4" r="5.21"/><circle cx="250.3" cy="485.4" r="5.21"/><circle cx="261.8" cy="485.4" r="5.21"/><circle cx="170.4" cy="486.9" r="5.21"/><circle cx="177.4" cy="493.1" r="5.21"/><circle cx="171.4" cy="497.6" r="5.21"/><circle cx="180.4" cy="502.0" r="5.21"/><circle cx="177.4" cy="505.0" r="5.21"/><circle cx="193.5" cy="503.5" r="5.21"/><circle cx="202.7" cy="501.3" r="5.21"/><circle cx="204.2" cy="498.3" r="5.21"/><circle cx="213.1" cy="489.4" r="5.21"/><circle cx="215.3" cy="493.8" r="5.21"/><circle cx="210.9" cy="490.9" r="5.21"/><circle cx="229.5" cy="493.8" r="5.21"/><circle cx="236.2" cy="493.8" r="5.21"/><circle cx="236.2" cy="487.9" r="5.21"/><circle cx="216.1" cy="503.2" r="5.21"/><circle cx="222.0" cy="503.2" r="5.21"/><circle cx="225.7" cy="503.2" r="5.21"/><circle cx="229.5" cy="502.8" r="5.21"/><circle cx="141.4" cy="497.9" r="5.21"/><circle cx="153.9" cy="500.8" r="5.21"/><circle cx="203.4" cy="472.3" r="5.21"/><circle cx="233.9" cy="465.6" r="5.21"/><circle cx="211.6" cy="486.4" r="5.21"/><circle cx="216.1" cy="486.4" r="5.21"/><circle cx="202.7" cy="502.8" r="5.21"/><circle cx="203.4" cy="499.8" r="5.21"/><circle cx="148.7" cy="515.0" r="5.21"/><circle cx="176.6" cy="515.0" r="5.21"/><circle cx="178.9" cy="515.0" r="5.21"/><circle cx="184.1" cy="515.0" r="5.21"/><circle cx="196.4" cy="515.0" r="5.21"/><circle cx="214.6" cy="515.0" r="5.21"/><circle cx="216.1" cy="515.0" r="5.21"/><circle cx="217.6" cy="515.0" r="5.21"/><circle cx="219.0" cy="515.0" r="5.21"/><circle cx="220.5" cy="515.0" r="5.21"/></g>
<path class="d" d="M141.7,507.2 L163.7,502.8 M185.9,496.5 L207.1,489.4 M228.0,479.7 L248.8,471.1"/>
<path class="a" d="M71.50,529.10V398.83M64.83,514.76H71.50M64.83,475.02H71.50M64.83,435.28H71.50"/>
<text class="t" transform="translate(58.40 523.36) scale(0.985 0.98)" text-anchor="end">0</text>
<text class="t" transform="translate(58.40 483.82) scale(0.985 0.98)" text-anchor="end">2</text>
<text class="t" transform="translate(58.40 443.78) scale(0.985 1.04)" text-anchor="end">4</text>
</g>
<g id="panel12">
<rect x="325.70" y="365.23" width="241.17" height="35.15" fill="#ccc"/>
<text class="t" transform="translate(446.58 390.73) scale(0.985 0.98)" text-anchor="middle">12</text>
<g class="p"><circle cx="506.0" cy="422.8" r="5.21"/><circle cx="507.7" cy="422.9" r="5.21"/><circle cx="512.2" cy="421.9" r="5.21"/><circle cx="492.2" cy="425.4" r="5.21"/><circle cx="498.1" cy="425.2" r="5.21"/><circle cx="503.7" cy="424.1" r="5.21"/><circle cx="507.5" cy="425.1" r="5.21"/><circle cx="510.0" cy="423.9" r="5.21"/><circle cx="512.7" cy="425.1" r="5.21"/><circle cx="484.6" cy="426.5" r="5.21"/><circle cx="493.9" cy="426.6" r="5.21"/><circle cx="497.3" cy="426.9" r="5.21"/><circle cx="499.3" cy="427.4" r="5.21"/><circle cx="502.3" cy="428.1" r="5.21"/><circle cx="506.5" cy="427.0" r="5.21"/><circle cx="508.4" cy="428.0" r="5.21"/><circle cx="511.9" cy="426.7" r="5.21"/><circle cx="514.2" cy="428.0" r="5.21"/><circle cx="477.1" cy="430.5" r="5.21"/><circle cx="482.9" cy="430.1" r="5.21"/><circle cx="486.0" cy="429.2" r="5.21"/><circle cx="489.7" cy="429.9" r="5.21"/><circle cx="491.3" cy="429.2" r="5.21"/><circle cx="495.8" cy="429.1" r="5.21"/><circle cx="498.1" cy="430.0" r="5.21"/><circle cx="501.4" cy="430.2" r="5.21"/><circle cx="503.4" cy="429.5" r="5.21"/><circle cx="506.7" cy="429.4" r="5.21"/><circle cx="510.7" cy="429.5" r="5.21"/><circle cx="513.7" cy="430.4" r="5.21"/><circle cx="516.3" cy="430.5" r="5.21"/><circle cx="479.0" cy="432.9" r="5.21"/><circle cx="482.4" cy="432.4" r="5.21"/><circle cx="485.0" cy="431.9" r="5.21"/><circle cx="487.3" cy="433.2" r="5.21"/><circle cx="489.9" cy="432.7" r="5.21"/><circle cx="493.5" cy="432.0" r="5.21"/><circle cx="497.0" cy="432.9" r="5.21"/><circle cx="498.8" cy="432.7" r="5.21"/><circle cx="503.0" cy="432.6" r="5.21"/><circle cx="506.2" cy="432.8" r="5.21"/><circle cx="508.6" cy="432.1" r="5.21"/><circle cx="512.0" cy="432.8" r="5.21"/><circle cx="514.6" cy="432.4" r="5.21"/><circle cx="477.4" cy="434.7" r="5.21"/><circle cx="479.3" cy="434.9" r="5.21"/><circle cx="482.8" cy="434.6" r="5.21"/><circle cx="486.8" cy="435.4" r="5.21"/><circle cx="489.0" cy="434.6" r="5.21"/><circle cx="492.0" cy="435.0" r="5.21"/><circle cx="494.7" cy="435.0" r="5.21"/><circle cx="497.8" cy="435.2" r="5.21"/><circle cx="500.8" cy="435.4" r="5.21"/><circle cx="504.7" cy="435.2" r="5.21"/><circle cx="507.2" cy="435.5" r="5.21"/><circle cx="509.5" cy="434.9" r="5.21"/><circle cx="512.2" cy="435.6" r="5.21"/><circle cx="516.1" cy="435.5" r="5.21"/><circle cx="518.4" cy="435.5" r="5.21"/><circle cx="477.8" cy="438.4" r="5.21"/><circle cx="481.2" cy="437.4" r="5.21"/><circle cx="485.0" cy="437.2" r="5.21"/><circle cx="487.1" cy="438.0" r="5.21"/><circle cx="491.1" cy="438.1" r="5.21"/><circle cx="493.8" cy="437.1" r="5.21"/><circle cx="496.9" cy="437.3" r="5.21"/><circle cx="499.0" cy="438.6" r="5.21"/><circle cx="503.4" cy="438.0" r="5.21"/><circle cx="506.0" cy="437.9" r="5.21"/><circle cx="509.0" cy="438.2" r="5.21"/><circle cx="511.1" cy="438.6" r="5.21"/><circle cx="514.5" cy="438.5" r="5.21"/><circle cx="517.3" cy="437.2" r="5.21"/><circle cx="520.6" cy="437.1" r="5.21"/><circle cx="473.9" cy="440.7" r="5.21"/><circle cx="477.3" cy="440.2" r="5.21"/><circle cx="480.6" cy="439.8" r="5.21"/><circle cx="483.6" cy="440.2" r="5.21"/><circle cx="485.6" cy="439.7" r="5.21"/><circle cx="488.9" cy="440.5" r="5.21"/><circle cx="491.7" cy="439.7" r="5.21"/><circle cx="495.0" cy="439.7" r="5.21"/><circle cx="497.5" cy="439.9" r="5.21"/><circle cx="501.2" cy="440.8" r="5.21"/><circle cx="504.9" cy="440.7" r="5.21"/><circle cx="507.0" cy="440.2" r="5.21"/><circle cx="509.7" cy="441.0" r="5.21"/><circle cx="513.8" cy="440.9" r="5.21"/><circle cx="515.5" cy="440.2" r="5.21"/><circle cx="518.8" cy="439.9" r="5.21"/><circle cx="522.2" cy="440.4" r="5.21"/><circle cx="461.0" cy="443.7" r="5.21"/><circle cx="469.7" cy="442.1" r="5.21"/><circle cx="475.8" cy="443.2" r="5.21"/><circle cx="478.8" cy="443.4" r="5.21"/><circle cx="482.3" cy="443.7" r="5.21"/><circle cx="485.2" cy="443.0" r="5.21"/><circle cx="487.0" cy="442.9" r="5.21"/><circle cx="491.1" cy="443.7" r="5.21"/><circle cx="494.4" cy="442.7" r="5.21"/><circle cx="496.5" cy="443.0" r="5.21"/><circle cx="499.1" cy="442.1" r="5.21"/><circle cx="502.1" cy="443.6" r="5.21"/><circle cx="505.0" cy="443.0" r="5.21"/><circle cx="508.1" cy="443.8" r="5.21"/><circle cx="511.0" cy="443.1" r="5.21"/><circle cx="514.8" cy="443.7" r="5.21"/><circle cx="516.8" cy="443.0" r="5.21"/><circle cx="459.4" cy="444.7" r="5.21"/><circle cx="462.7" cy="446.2" r="5.21"/><circle cx="467.8" cy="446.4" r="5.21"/><circle cx="471.8" cy="444.8" r="5.21"/><circle cx="475.0" cy="446.0" r="5.21"/><circle cx="476.8" cy="446.4" r="5.21"/><circle cx="479.7" cy="446.1" r="5.21"/><circle cx="482.6" cy="445.4" r="5.21"/><circle cx="486.2" cy="446.3" r="5.21"/><circle cx="489.0" cy="445.0" r="5.21"/><circle cx="492.8" cy="445.1" r="5.21"/><circle cx="495.7" cy="445.7" r="5.21"/><circle cx="497.2" cy="444.9" r="5.21"/><circle cx="501.9" cy="446.4" r="5.21"/><circle cx="504.9" cy="445.5" r="5.21"/><circle cx="507.8" cy="446.1" r="5.21"/><circle cx="509.7" cy="444.9" r="5.21"/><circle cx="512.7" cy="445.0" r="5.21"/><circle cx="515.8" cy="445.1" r="5.21"/><circle cx="518.9" cy="444.7" r="5.21"/><circle cx="464.5" cy="447.9" r="5.21"/><circle cx="466.4" cy="448.9" r="5.21"/><circle cx="469.6" cy="448.4" r="5.21"/><circle cx="472.3" cy="448.4" r="5.21"/><circle cx="476.5" cy="448.3" r="5.21"/><circle cx="478.9" cy="448.6" r="5.21"/><circle cx="481.9" cy="448.0" r="5.21"/><circle cx="484.3" cy="447.7" r="5.21"/><circle cx="487.7" cy="447.6" r="5.21"/><circle cx="490.2" cy="447.9" r="5.21"/><circle cx="494.5" cy="448.2" r="5.21"/><circle cx="496.4" cy="448.3" r="5.21"/><circle cx="499.7" cy="448.2" r="5.21"/><circle cx="502.0" cy="447.7" r="5.21"/><circle cx="505.2" cy="447.4" r="5.21"/><circle cx="508.7" cy="447.5" r="5.21"/><circle cx="511.5" cy="448.4" r="5.21"/><circle cx="515.1" cy="448.5" r="5.21"/><circle cx="517.7" cy="447.8" r="5.21"/><circle cx="520.4" cy="447.7" r="5.21"/><circle cx="459.3" cy="451.5" r="5.21"/><circle cx="461.7" cy="451.5" r="5.21"/><circle cx="464.9" cy="450.0" r="5.21"/><circle cx="467.6" cy="451.0" r="5.21"/><circle cx="471.1" cy="451.4" r="5.21"/><circle cx="473.7" cy="450.6" r="5.21"/><circle cx="477.5" cy="451.1" r="5.21"/><circle cx="479.8" cy="451.0" r="5.21"/><circle cx="483.9" cy="450.8" r="5.21"/><circle cx="486.4" cy="450.8" r="5.21"/><circle cx="489.4" cy="451.0" r="5.21"/><circle cx="491.8" cy="450.8" r="5.21"/><circle cx="495.7" cy="450.9" r="5.21"/><circle cx="497.5" cy="450.6" r="5.21"/><circle cx="501.0" cy="450.3" r="5.21"/><circle cx="504.2" cy="450.1" r="5.21"/><circle cx="507.5" cy="450.2" r="5.21"/><circle cx="509.3" cy="450.7" r="5.21"/><circle cx="513.0" cy="450.9" r="5.21"/><circle cx="515.3" cy="450.0" r="5.21"/><circle cx="519.9" cy="451.2" r="5.21"/><circle cx="460.4" cy="453.4" r="5.21"/><circle cx="464.4" cy="453.5" r="5.21"/><circle cx="465.8" cy="453.5" r="5.21"/><circle cx="470.0" cy="454.0" r="5.21"/><circle cx="472.9" cy="452.6" r="5.21"/><circle cx="475.8" cy="453.2" r="5.21"/><circle cx="477.8" cy="454.1" r="5.21"/><circle cx="481.3" cy="453.3" r="5.21"/><circle cx="484.0" cy="453.6" r="5.21"/><circle cx="488.3" cy="453.9" r="5.21"/><circle cx="490.4" cy="453.4" r="5.21"/><circle cx="493.3" cy="454.2" r="5.21"/><circle cx="497.5" cy="454.1" r="5.21"/><circle cx="499.9" cy="454.1" r="5.21"/><circle cx="503.4" cy="453.9" r="5.21"/><circle cx="505.4" cy="453.7" r="5.21"/><circle cx="508.2" cy="452.8" r="5.21"/><circle cx="512.3" cy="454.3" r="5.21"/><circle cx="514.6" cy="453.8" r="5.21"/><circle cx="517.5" cy="453.4" r="5.21"/><circle cx="520.1" cy="453.1" r="5.21"/><circle cx="462.4" cy="455.9" r="5.21"/><circle cx="465.2" cy="455.7" r="5.21"/><circle cx="468.5" cy="456.5" r="5.21"/><circle cx="471.6" cy="456.6" r="5.21"/><circle cx="474.7" cy="456.8" r="5.21"/><circle cx="477.9" cy="455.9" r="5.21"/><circle cx="480.5" cy="455.3" r="5.21"/><circle cx="482.4" cy="456.4" r="5.21"/><circle cx="485.9" cy="455.6" r="5.21"/><circle cx="489.4" cy="455.6" r="5.21"/><circle cx="491.5" cy="456.6" r="5.21"/><circle cx="495.6" cy="456.2" r="5.21"/><circle cx="498.5" cy="455.9" r="5.21"/><circle cx="501.2" cy="455.6" r="5.21"/><circle cx="504.7" cy="456.6" r="5.21"/><circle cx="507.4" cy="456.0" r="5.21"/><circle cx="510.5" cy="456.3" r="5.21"/><circle cx="513.6" cy="455.8" r="5.21"/><circle cx="515.3" cy="456.5" r="5.21"/><circle cx="518.9" cy="455.2" r="5.21"/><circle cx="457.9" cy="458.0" r="5.21"/><circle cx="463.1" cy="458.6" r="5.21"/><circle cx="467.2" cy="458.8" r="5.21"/><circle cx="469.4" cy="458.1" r="5.21"/><circle cx="473.0" cy="458.3" r="5.21"/><circle cx="475.4" cy="458.5" r="5.21"/><circle cx="478.4" cy="458.4" r="5.21"/><circle cx="482.0" cy="458.5" r="5.21"/><circle cx="484.1" cy="458.0" r="5.21"/><circle cx="487.9" cy="457.9" r="5.21"/><circle cx="490.0" cy="458.8" r="5.21"/><circle cx="493.9" cy="459.1" r="5.21"/><circle cx="496.4" cy="457.9" r="5.21"/><circle cx="499.8" cy="459.2" r="5.21"/><circle cx="503.5" cy="459.4" r="5.21"/><circle cx="505.7" cy="458.9" r="5.21"/><circle cx="508.4" cy="459.0" r="5.21"/><circle cx="511.5" cy="458.7" r="5.21"/><circle cx="514.6" cy="458.2" r="5.21"/><circle cx="517.7" cy="459.0" r="5.21"/><circle cx="456.2" cy="461.2" r="5.21"/><circle cx="462.9" cy="462.0" r="5.21"/><circle cx="464.4" cy="461.8" r="5.21"/><circle cx="468.5" cy="460.6" r="5.21"/><circle cx="470.3" cy="460.5" r="5.21"/><circle cx="474.1" cy="461.1" r="5.21"/><circle cx="477.6" cy="460.7" r="5.21"/><circle cx="479.9" cy="461.2" r="5.21"/><circle cx="482.6" cy="460.9" r="5.21"/><circle cx="485.6" cy="461.9" r="5.21"/><circle cx="489.2" cy="461.8" r="5.21"/><circle cx="491.5" cy="462.0" r="5.21"/><circle cx="495.7" cy="460.9" r="5.21"/><circle cx="498.4" cy="460.4" r="5.21"/><circle cx="501.5" cy="461.3" r="5.21"/><circle cx="504.6" cy="461.8" r="5.21"/><circle cx="506.8" cy="462.0" r="5.21"/><circle cx="510.7" cy="460.5" r="5.21"/><circle cx="513.0" cy="460.5" r="5.21"/><circle cx="516.6" cy="460.7" r="5.21"/><circle cx="519.6" cy="461.3" r="5.21"/><circle cx="456.8" cy="464.5" r="5.21"/><circle cx="459.8" cy="463.1" r="5.21"/><circle cx="463.2" cy="464.0" r="5.21"/><circle cx="466.2" cy="463.9" r="5.21"/><circle cx="469.8" cy="463.1" r="5.21"/><circle cx="471.7" cy="464.6" r="5.21"/><circle cx="475.7" cy="463.3" r="5.21"/><circle cx="478.2" cy="464.1" r="5.21"/><circle cx="482.2" cy="464.7" r="5.21"/><circle cx="484.7" cy="463.6" r="5.21"/><circle cx="487.6" cy="464.7" r="5.21"/><circle cx="491.1" cy="463.5" r="5.21"/><circle cx="493.2" cy="464.2" r="5.21"/><circle cx="496.3" cy="463.7" r="5.21"/><circle cx="498.9" cy="464.6" r="5.21"/><circle cx="502.4" cy="464.1" r="5.21"/><circle cx="506.4" cy="463.3" r="5.21"/><circle cx="508.5" cy="464.0" r="5.21"/><circle cx="510.9" cy="463.9" r="5.21"/><circle cx="515.1" cy="464.3" r="5.21"/><circle cx="516.9" cy="463.7" r="5.21"/><circle cx="519.8" cy="464.3" r="5.21"/><circle cx="462.5" cy="466.3" r="5.21"/><circle cx="465.5" cy="465.8" r="5.21"/><circle cx="467.6" cy="467.0" r="5.21"/><circle cx="471.9" cy="467.1" r="5.21"/><circle cx="473.5" cy="467.2" r="5.21"/><circle cx="476.7" cy="467.0" r="5.21"/><circle cx="479.7" cy="466.8" r="5.21"/><circle cx="482.5" cy="467.1" r="5.21"/><circle cx="485.7" cy="466.3" r="5.21"/><circle cx="488.9" cy="466.0" r="5.21"/><circle cx="492.9" cy="465.7" r="5.21"/><circle cx="495.1" cy="467.3" r="5.21"/><circle cx="497.2" cy="466.7" r="5.21"/><circle cx="500.6" cy="465.8" r="5.21"/><circle cx="505.0" cy="467.3" r="5.21"/><circle cx="507.8" cy="466.8" r="5.21"/><circle cx="510.8" cy="466.0" r="5.21"/><circle cx="512.5" cy="467.2" r="5.21"/><circle cx="516.1" cy="465.9" r="5.21"/><circle cx="457.5" cy="468.6" r="5.21"/><circle cx="460.0" cy="469.7" r="5.21"/><circle cx="464.5" cy="469.4" r="5.21"/><circle cx="466.5" cy="470.0" r="5.21"/><circle cx="469.3" cy="468.4" r="5.21"/><circle cx="472.2" cy="469.3" r="5.21"/><circle cx="476.3" cy="468.9" r="5.21"/><circle cx="477.9" cy="469.1" r="5.21"/><circle cx="481.6" cy="468.4" r="5.21"/><circle cx="484.6" cy="468.3" r="5.21"/><circle cx="488.2" cy="469.2" r="5.21"/><circle cx="490.8" cy="468.3" r="5.21"/><circle cx="492.7" cy="469.1" r="5.21"/><circle cx="496.2" cy="468.4" r="5.21"/><circle cx="499.0" cy="469.4" r="5.21"/><circle cx="502.5" cy="469.2" r="5.21"/><circle cx="506.2" cy="469.4" r="5.21"/><circle cx="509.0" cy="468.4" r="5.21"/><circle cx="511.0" cy="469.0" r="5.21"/><circle cx="515.0" cy="468.7" r="5.21"/><circle cx="453.6" cy="471.4" r="5.21"/><circle cx="456.4" cy="471.0" r="5.21"/><circle cx="458.7" cy="471.5" r="5.21"/><circle cx="462.4" cy="471.9" r="5.21"/><circle cx="465.8" cy="472.0" r="5.21"/><circle cx="468.3" cy="471.9" r="5.21"/><circle cx="471.6" cy="471.9" r="5.21"/><circle cx="473.3" cy="472.1" r="5.21"/><circle cx="476.9" cy="471.1" r="5.21"/><circle cx="480.7" cy="472.1" r="5.21"/><circle cx="482.6" cy="471.1" r="5.21"/><circle cx="485.7" cy="472.4" r="5.21"/><circle cx="488.6" cy="471.5" r="5.21"/><circle cx="492.8" cy="470.8" r="5.21"/><circle cx="494.9" cy="470.8" r="5.21"/><circle cx="499.0" cy="472.3" r="5.21"/><circle cx="501.8" cy="472.4" r="5.21"/><circle cx="504.5" cy="471.8" r="5.21"/><circle cx="507.5" cy="471.9" r="5.21"/><circle cx="509.5" cy="472.4" r="5.21"/><circle cx="513.0" cy="472.3" r="5.21"/><circle cx="453.8" cy="473.9" r="5.21"/><circle cx="458.2" cy="473.7" r="5.21"/><circle cx="460.1" cy="474.0" r="5.21"/><circle cx="462.9" cy="474.4" r="5.21"/><circle cx="467.1" cy="473.5" r="5.21"/><circle cx="469.2" cy="475.1" r="5.21"/><circle cx="472.9" cy="473.4" r="5.21"/><circle cx="475.9" cy="475.0" r="5.21"/><circle cx="477.8" cy="474.7" r="5.21"/><circle cx="481.1" cy="475.0" r="5.21"/><circle cx="484.3" cy="473.5" r="5.21"/><circle cx="486.8" cy="473.8" r="5.21"/><circle cx="490.0" cy="474.7" r="5.21"/><circle cx="494.5" cy="473.9" r="5.21"/><circle cx="497.0" cy="474.5" r="5.21"/><circle cx="499.0" cy="474.9" r="5.21"/><circle cx="502.7" cy="473.7" r="5.21"/><circle cx="505.2" cy="475.1" r="5.21"/><circle cx="508.2" cy="474.3" r="5.21"/><circle cx="512.1" cy="474.8" r="5.21"/><circle cx="513.8" cy="475.0" r="5.21"/><circle cx="450.6" cy="476.0" r="5.21"/><circle cx="452.3" cy="477.0" r="5.21"/><circle cx="456.6" cy="476.8" r="5.21"/><circle cx="459.9" cy="477.7" r="5.21"/><circle cx="461.9" cy="477.4" r="5.21"/><circle cx="465.9" cy="476.6" r="5.21"/><circle cx="467.7" cy="477.3" r="5.21"/><circle cx="471.0" cy="477.3" r="5.21"/><circle cx="473.5" cy="476.3" r="5.21"/><circle cx="477.6" cy="477.2" r="5.21"/><circle cx="480.7" cy="476.4" r="5.21"/><circle cx="482.2" cy="476.6" r="5.21"/><circle cx="485.7" cy="477.4" r="5.21"/><circle cx="489.0" cy="477.2" r="5.21"/><circle cx="492.4" cy="476.7" r="5.21"/><circle cx="494.4" cy="477.2" r="5.21"/><circle cx="498.4" cy="477.5" r="5.21"/><circle cx="501.6" cy="477.5" r="5.21"/><circle cx="504.2" cy="476.3" r="5.21"/><circle cx="506.4" cy="476.2" r="5.21"/><circle cx="509.7" cy="477.0" r="5.21"/><circle cx="512.7" cy="477.6" r="5.21"/><circle cx="515.6" cy="477.1" r="5.21"/><circle cx="452.0" cy="479.6" r="5.21"/><circle cx="454.0" cy="478.8" r="5.21"/><circle cx="458.3" cy="478.7" r="5.21"/><circle cx="460.7" cy="479.1" r="5.21"/><circle cx="463.6" cy="479.1" r="5.21"/><circle cx="466.5" cy="480.1" r="5.21"/><circle cx="469.7" cy="480.1" r="5.21"/><circle cx="472.3" cy="480.3" r="5.21"/><circle cx="476.5" cy="479.1" r="5.21"/><circle cx="478.5" cy="480.1" r="5.21"/><circle cx="481.7" cy="479.5" r="5.21"/><circle cx="484.3" cy="478.8" r="5.21"/><circle cx="487.2" cy="478.8" r="5.21"/><circle cx="490.7" cy="480.0" r="5.21"/><circle cx="493.7" cy="479.0" r="5.21"/><circle cx="496.5" cy="479.3" r="5.21"/><circle cx="500.3" cy="480.4" r="5.21"/><circle cx="502.5" cy="480.1" r="5.21"/><circle cx="505.1" cy="479.5" r="5.21"/><circle cx="508.2" cy="480.0" r="5.21"/><circle cx="511.8" cy="479.1" r="5.21"/><circle cx="453.9" cy="481.7" r="5.21"/><circle cx="455.4" cy="481.8" r="5.21"/><circle cx="459.9" cy="482.2" r="5.21"/><circle cx="461.3" cy="482.9" r="5.21"/><circle cx="465.6" cy="481.6" r="5.21"/><circle cx="467.5" cy="482.2" r="5.21"/><circle cx="471.2" cy="482.5" r="5.21"/><circle cx="473.5" cy="482.1" r="5.21"/><circle cx="477.0" cy="481.9" r="5.21"/><circle cx="479.4" cy="482.5" r="5.21"/><circle cx="483.5" cy="482.4" r="5.21"/><circle cx="485.6" cy="482.9" r="5.21"/><circle cx="489.0" cy="481.7" r="5.21"/><circle cx="493.0" cy="481.9" r="5.21"/><circle cx="494.4" cy="482.3" r="5.21"/><circle cx="497.6" cy="481.8" r="5.21"/><circle cx="501.4" cy="481.9" r="5.21"/><circle cx="503.5" cy="482.7" r="5.21"/><circle cx="507.6" cy="481.9" r="5.21"/><circle cx="510.8" cy="482.4" r="5.21"/><circle cx="516.5" cy="483.0" r="5.21"/><circle cx="451.5" cy="483.9" r="5.21"/><circle cx="454.6" cy="483.9" r="5.21"/><circle cx="458.3" cy="485.0" r="5.21"/><circle cx="461.3" cy="484.7" r="5.21"/><circle cx="462.8" cy="484.9" r="5.21"/><circle cx="466.3" cy="484.1" r="5.21"/><circle cx="469.7" cy="484.7" r="5.21"/><circle cx="472.7" cy="484.9" r="5.21"/><circle cx="476.3" cy="484.0" r="5.21"/><circle cx="478.3" cy="484.6" r="5.21"/><circle cx="482.2" cy="484.6" r="5.21"/><circle cx="484.6" cy="484.1" r="5.21"/><circle cx="486.8" cy="484.5" r="5.21"/><circle cx="489.7" cy="484.1" r="5.21"/><circle cx="493.7" cy="485.6" r="5.21"/><circle cx="497.4" cy="485.1" r="5.21"/><circle cx="498.8" cy="484.1" r="5.21"/><circle cx="502.9" cy="484.4" r="5.21"/><circle cx="505.9" cy="485.5" r="5.21"/><circle cx="509.5" cy="484.8" r="5.21"/><circle cx="511.0" cy="485.1" r="5.21"/><circle cx="514.1" cy="484.2" r="5.21"/><circle cx="453.3" cy="487.0" r="5.21"/><circle cx="456.0" cy="487.0" r="5.21"/><circle cx="458.5" cy="486.7" r="5.21"/><circle cx="461.8" cy="486.6" r="5.21"/><circle cx="464.6" cy="487.3" r="5.21"/><circle cx="468.1" cy="487.8" r="5.21"/><circle cx="471.0" cy="486.8" r="5.21"/><circle cx="474.5" cy="487.1" r="5.21"/><circle cx="476.4" cy="486.8" r="5.21"/><circle cx="480.1" cy="488.0" r="5.21"/><circle cx="482.7" cy="486.8" r="5.21"/><circle cx="485.6" cy="487.5" r="5.21"/><circle cx="489.1" cy="487.2" r="5.21"/><circle cx="492.8" cy="488.1" r="5.21"/><circle cx="494.6" cy="486.5" r="5.21"/><circle cx="498.9" cy="487.4" r="5.21"/><circle cx="501.9" cy="486.9" r="5.21"/><circle cx="503.7" cy="486.8" r="5.21"/><circle cx="508.0" cy="488.1" r="5.21"/><circle cx="510.1" cy="487.9" r="5.21"/><circle cx="513.8" cy="487.1" r="5.21"/><circle cx="458.2" cy="489.5" r="5.21"/><circle cx="462.7" cy="489.2" r="5.21"/><circle cx="466.8" cy="490.4" r="5.21"/><circle cx="468.9" cy="490.1" r="5.21"/><circle cx="472.5" cy="489.5" r="5.21"/><circle cx="475.1" cy="490.5" r="5.21"/><circle cx="479.0" cy="490.0" r="5.21"/><circle cx="481.2" cy="490.2" r="5.21"/><circle cx="485.4" cy="489.3" r="5.21"/><circle cx="486.9" cy="489.4" r="5.21"/><circle cx="491.0" cy="490.7" r="5.21"/><circle cx="493.0" cy="489.7" r="5.21"/><circle cx="496.2" cy="490.1" r="5.21"/><circle cx="499.0" cy="489.5" r="5.21"/><circle cx="502.8" cy="490.1" r="5.21"/><circle cx="505.3" cy="490.4" r="5.21"/><circle cx="508.9" cy="490.8" r="5.21"/><circle cx="461.8" cy="493.1" r="5.21"/><circle cx="464.2" cy="491.8" r="5.21"/><circle cx="467.6" cy="493.2" r="5.21"/><circle cx="471.7" cy="492.5" r="5.21"/><circle cx="473.8" cy="491.7" r="5.21"/><circle cx="482.5" cy="491.8" r="5.21"/><circle cx="490.0" cy="491.7" r="5.21"/><circle cx="492.6" cy="492.0" r="5.21"/><circle cx="496.0" cy="493.1" r="5.21"/><circle cx="497.5" cy="492.8" r="5.21"/><circle cx="501.0" cy="491.9" r="5.21"/><circle cx="506.2" cy="492.3" r="5.21"/><circle cx="510.2" cy="491.9" r="5.21"/><circle cx="470.5" cy="494.9" r="5.21"/><circle cx="475.0" cy="495.7" r="5.21"/><circle cx="487.4" cy="494.7" r="5.21"/><circle cx="493.9" cy="495.1" r="5.21"/><circle cx="494.5" cy="405.9" r="5.21"/><circle cx="492.2" cy="415.6" r="5.21"/><circle cx="459.0" cy="429.8" r="5.21"/><circle cx="463.7" cy="431.9" r="5.21"/><circle cx="450.5" cy="441.3" r="5.21"/><circle cx="438.0" cy="448.4" r="5.21"/><circle cx="445.5" cy="450.8" r="5.21"/><circle cx="450.9" cy="452.2" r="5.21"/><circle cx="452.2" cy="461.0" r="5.21"/><circle cx="445.5" cy="465.7" r="5.21"/><circle cx="426.9" cy="465.7" r="5.21"/><circle cx="428.5" cy="471.8" r="5.21"/><circle cx="434.0" cy="470.4" r="5.21"/><circle cx="440.1" cy="472.5" r="5.21"/><circle cx="427.2" cy="484.0" r="5.21"/><circle cx="431.9" cy="482.6" r="5.21"/><circle cx="433.3" cy="486.7" r="5.21"/><circle cx="439.4" cy="488.0" r="5.21"/><circle cx="444.1" cy="488.0" r="5.21"/><circle cx="486.8" cy="505.7" r="5.21"/><circle cx="524.7" cy="424.4" r="5.21"/><circle cx="533.1" cy="440.7" r="5.21"/><circle cx="528.7" cy="454.2" r="5.21"/><circle cx="527.4" cy="468.4" r="5.21"/><circle cx="522.0" cy="482.0" r="5.21"/><circle cx="523.3" cy="490.1" r="5.21"/><circle cx="508.4" cy="496.8" r="5.21"/><circle cx="525.4" cy="457.6" r="5.21"/><circle cx="484.1" cy="418.3" r="5.21"/><circle cx="431.2" cy="484.7" r="5.21"/><circle cx="417.7" cy="514.7" r="5.21"/><circle cx="419.7" cy="514.7" r="5.21"/><circle cx="520.6" cy="514.7" r="5.21"/><circle cx="424.6" cy="514.7" r="5.21"/><circle cx="426.0" cy="514.7" r="5.21"/><circle cx="428.0" cy="514.7" r="5.21"/><circle cx="429.6" cy="514.7" r="5.21"/><circle cx="430.6" cy="514.7" r="5.21"/><circle cx="432.6" cy="514.7" r="5.21"/><circle cx="433.8" cy="514.7" r="5.21"/><circle cx="436.1" cy="514.7" r="5.21"/><circle cx="437.5" cy="514.7" r="5.21"/><circle cx="438.8" cy="514.7" r="5.21"/><circle cx="440.7" cy="514.7" r="5.21"/><circle cx="441.9" cy="514.7" r="5.21"/><circle cx="443.3" cy="514.7" r="5.21"/><circle cx="445.3" cy="514.7" r="5.21"/><circle cx="446.5" cy="514.7" r="5.21"/><circle cx="448.4" cy="514.7" r="5.21"/><circle cx="450.4" cy="514.7" r="5.21"/><circle cx="451.7" cy="514.7" r="5.21"/><circle cx="453.1" cy="514.7" r="5.21"/><circle cx="454.6" cy="514.7" r="5.21"/><circle cx="456.5" cy="514.7" r="5.21"/><circle cx="458.1" cy="514.7" r="5.21"/><circle cx="460.0" cy="514.7" r="5.21"/><circle cx="461.0" cy="514.7" r="5.21"/><circle cx="462.9" cy="514.7" r="5.21"/><circle cx="464.4" cy="514.7" r="5.21"/><circle cx="466.0" cy="514.7" r="5.21"/><circle cx="467.4" cy="514.7" r="5.21"/><circle cx="469.2" cy="514.7" r="5.21"/><circle cx="470.9" cy="514.7" r="5.21"/><circle cx="472.2" cy="514.7" r="5.21"/><circle cx="473.9" cy="514.7" r="5.21"/><circle cx="475.7" cy="514.7" r="5.21"/><circle cx="477.6" cy="514.7" r="5.21"/><circle cx="478.9" cy="514.7" r="5.21"/><circle cx="480.4" cy="514.7" r="5.21"/><circle cx="481.7" cy="514.7" r="5.21"/><circle cx="483.7" cy="514.7" r="5.21"/><circle cx="485.2" cy="514.7" r="5.21"/><circle cx="486.6" cy="514.7" r="5.21"/><circle cx="488.5" cy="514.7" r="5.21"/><circle cx="490.2" cy="514.7" r="5.21"/><circle cx="491.6" cy="514.7" r="5.21"/><circle cx="493.5" cy="514.7" r="5.21"/><circle cx="495.0" cy="514.7" r="5.21"/><circle cx="496.1" cy="514.7" r="5.21"/><circle cx="497.7" cy="514.7" r="5.21"/><circle cx="499.7" cy="514.7" r="5.21"/><circle cx="501.4" cy="514.7" r="5.21"/><circle cx="502.9" cy="514.7" r="5.21"/><circle cx="504.3" cy="514.7" r="5.21"/><circle cx="506.0" cy="514.7" r="5.21"/><circle cx="507.9" cy="514.7" r="5.21"/><circle cx="509.2" cy="514.7" r="5.21"/><circle cx="510.9" cy="514.7" r="5.21"/><circle cx="512.3" cy="514.7" r="5.21"/><circle cx="514.2" cy="514.7" r="5.21"/><circle cx="515.7" cy="514.7" r="5.21"/><circle cx="516.9" cy="514.7" r="5.21"/></g>
<path class="d" d="M417.2,504.9 L437.3,494.2 M457.1,483.8 L477.5,473.1 M497.6,462.5 L518.4,453.3"/>
</g>
<g id="panel13">
<rect x="580.20" y="365.23" width="241.17" height="35.15" fill="#ccc"/>
<text class="t" transform="translate(701.09 390.73) scale(0.985 0.98)" text-anchor="middle">13</text>
<g class="p"><circle cx="656.3" cy="514.9" r="5.21"/><circle cx="699.2" cy="514.9" r="5.21"/><circle cx="663.7" cy="514.9" r="5.21"/><circle cx="666.5" cy="514.9" r="5.21"/><circle cx="669.4" cy="514.9" r="5.21"/><circle cx="672.2" cy="514.9" r="5.21"/><circle cx="674.8" cy="514.9" r="5.21"/><circle cx="677.4" cy="514.9" r="5.21"/><circle cx="680.1" cy="514.9" r="5.21"/><circle cx="683.2" cy="514.9" r="5.21"/><circle cx="685.8" cy="514.9" r="5.21"/><circle cx="688.5" cy="514.9" r="5.21"/><circle cx="691.1" cy="514.9" r="5.21"/><circle cx="694.3" cy="514.9" r="5.21"/><circle cx="697.2" cy="514.9" r="5.21"/><circle cx="665.8" cy="514.9" r="5.21"/><circle cx="667.0" cy="514.9" r="5.21"/><circle cx="668.2" cy="514.9" r="5.21"/></g>
</g>
<g id="panel14">
<rect x="834.70" y="365.23" width="241.17" height="35.15" fill="#ccc"/>
<text class="t" transform="translate(955.59 390.73) scale(0.985 1.04)" text-anchor="middle">14</text>
<g class="p"><circle cx="1005.4" cy="430.4" r="5.21"/><circle cx="1004.1" cy="433.8" r="5.21"/><circle cx="1007.7" cy="433.4" r="5.21"/><circle cx="1011.6" cy="432.4" r="5.21"/><circle cx="981.8" cy="435.2" r="5.21"/><circle cx="993.6" cy="436.0" r="5.21"/><circle cx="999.9" cy="435.0" r="5.21"/><circle cx="1002.7" cy="435.0" r="5.21"/><circle cx="1007.1" cy="435.5" r="5.21"/><circle cx="1009.7" cy="434.9" r="5.21"/><circle cx="1012.9" cy="435.4" r="5.21"/><circle cx="1018.1" cy="436.1" r="5.21"/><circle cx="1023.8" cy="436.2" r="5.21"/><circle cx="983.1" cy="438.1" r="5.21"/><circle cx="992.8" cy="438.6" r="5.21"/><circle cx="995.7" cy="438.4" r="5.21"/><circle cx="998.7" cy="438.9" r="5.21"/><circle cx="1002.2" cy="438.9" r="5.21"/><circle cx="1004.0" cy="437.8" r="5.21"/><circle cx="1008.2" cy="438.7" r="5.21"/><circle cx="1011.3" cy="437.9" r="5.21"/><circle cx="1013.7" cy="438.0" r="5.21"/><circle cx="1017.5" cy="438.4" r="5.21"/><circle cx="1020.2" cy="438.3" r="5.21"/><circle cx="976.2" cy="440.9" r="5.21"/><circle cx="981.5" cy="441.2" r="5.21"/><circle cx="991.1" cy="440.3" r="5.21"/><circle cx="997.3" cy="440.7" r="5.21"/><circle cx="999.6" cy="441.3" r="5.21"/><circle cx="1002.5" cy="440.7" r="5.21"/><circle cx="1006.6" cy="440.0" r="5.21"/><circle cx="1008.5" cy="441.5" r="5.21"/><circle cx="1012.3" cy="441.3" r="5.21"/><circle cx="1015.9" cy="440.3" r="5.21"/><circle cx="1018.1" cy="440.3" r="5.21"/><circle cx="977.9" cy="444.1" r="5.21"/><circle cx="981.6" cy="443.9" r="5.21"/><circle cx="983.2" cy="444.2" r="5.21"/><circle cx="987.6" cy="444.2" r="5.21"/><circle cx="993.1" cy="442.8" r="5.21"/><circle cx="995.0" cy="443.0" r="5.21"/><circle cx="999.2" cy="443.9" r="5.21"/><circle cx="1002.5" cy="442.9" r="5.21"/><circle cx="1004.6" cy="443.1" r="5.21"/><circle cx="1008.4" cy="444.0" r="5.21"/><circle cx="1010.9" cy="443.2" r="5.21"/><circle cx="1013.8" cy="442.9" r="5.21"/><circle cx="1017.3" cy="444.0" r="5.21"/><circle cx="1019.3" cy="444.0" r="5.21"/><circle cx="1023.0" cy="444.3" r="5.21"/><circle cx="975.4" cy="446.3" r="5.21"/><circle cx="978.8" cy="446.4" r="5.21"/><circle cx="981.7" cy="446.5" r="5.21"/><circle cx="984.4" cy="446.8" r="5.21"/><circle cx="989.1" cy="447.0" r="5.21"/><circle cx="991.4" cy="446.2" r="5.21"/><circle cx="995.0" cy="447.0" r="5.21"/><circle cx="996.7" cy="446.2" r="5.21"/><circle cx="1000.8" cy="446.9" r="5.21"/><circle cx="1002.5" cy="446.2" r="5.21"/><circle cx="1006.3" cy="446.7" r="5.21"/><circle cx="1009.2" cy="445.5" r="5.21"/><circle cx="1012.9" cy="446.1" r="5.21"/><circle cx="1015.6" cy="446.0" r="5.21"/><circle cx="1018.0" cy="445.7" r="5.21"/><circle cx="1021.5" cy="446.2" r="5.21"/><circle cx="1024.7" cy="446.1" r="5.21"/><circle cx="972.3" cy="448.9" r="5.21"/><circle cx="974.4" cy="449.4" r="5.21"/><circle cx="977.7" cy="448.8" r="5.21"/><circle cx="980.1" cy="448.2" r="5.21"/><circle cx="984.3" cy="448.0" r="5.21"/><circle cx="987.6" cy="448.1" r="5.21"/><circle cx="989.9" cy="449.4" r="5.21"/><circle cx="992.0" cy="449.2" r="5.21"/><circle cx="994.9" cy="449.5" r="5.21"/><circle cx="998.7" cy="448.8" r="5.21"/><circle cx="1001.9" cy="448.0" r="5.21"/><circle cx="1004.8" cy="448.0" r="5.21"/><circle cx="1007.2" cy="448.6" r="5.21"/><circle cx="1011.2" cy="448.1" r="5.21"/><circle cx="1014.6" cy="449.0" r="5.21"/><circle cx="1016.9" cy="448.3" r="5.21"/><circle cx="1020.0" cy="448.0" r="5.21"/><circle cx="1023.1" cy="449.6" r="5.21"/><circle cx="1026.2" cy="448.1" r="5.21"/><circle cx="974.1" cy="450.9" r="5.21"/><circle cx="976.5" cy="452.2" r="5.21"/><circle cx="978.6" cy="451.7" r="5.21"/><circle cx="982.4" cy="451.1" r="5.21"/><circle cx="984.5" cy="451.4" r="5.21"/><circle cx="989.0" cy="451.9" r="5.21"/><circle cx="991.0" cy="451.5" r="5.21"/><circle cx="993.5" cy="452.2" r="5.21"/><circle cx="996.6" cy="450.7" r="5.21"/><circle cx="1001.0" cy="450.7" r="5.21"/><circle cx="1004.1" cy="451.8" r="5.21"/><circle cx="1005.9" cy="451.7" r="5.21"/><circle cx="1008.7" cy="450.9" r="5.21"/><circle cx="1012.4" cy="452.1" r="5.21"/><circle cx="1014.8" cy="451.8" r="5.21"/><circle cx="1017.5" cy="450.5" r="5.21"/><circle cx="1021.4" cy="451.3" r="5.21"/><circle cx="974.8" cy="454.7" r="5.21"/><circle cx="978.0" cy="453.8" r="5.21"/><circle cx="980.7" cy="453.3" r="5.21"/><circle cx="984.3" cy="453.2" r="5.21"/><circle cx="987.0" cy="454.3" r="5.21"/><circle cx="990.0" cy="453.8" r="5.21"/><circle cx="991.9" cy="453.8" r="5.21"/><circle cx="995.9" cy="453.7" r="5.21"/><circle cx="999.6" cy="453.9" r="5.21"/><circle cx="1002.3" cy="454.6" r="5.21"/><circle cx="1005.1" cy="453.6" r="5.21"/><circle cx="1008.3" cy="453.7" r="5.21"/><circle cx="1010.7" cy="454.6" r="5.21"/><circle cx="1013.6" cy="453.1" r="5.21"/><circle cx="1017.5" cy="453.9" r="5.21"/><circle cx="1020.6" cy="453.8" r="5.21"/><circle cx="969.4" cy="456.0" r="5.21"/><circle cx="973.6" cy="455.9" r="5.21"/><circle cx="976.5" cy="457.0" r="5.21"/><circle cx="979.9" cy="456.0" r="5.21"/><circle cx="982.4" cy="456.7" r="5.21"/><circle cx="985.0" cy="456.1" r="5.21"/><circle cx="988.9" cy="456.9" r="5.21"/><circle cx="992.1" cy="456.1" r="5.21"/><circle cx="994.8" cy="456.8" r="5.21"/><circle cx="997.3" cy="457.1" r="5.21"/><circle cx="1000.1" cy="457.4" r="5.21"/><circle cx="1003.3" cy="456.7" r="5.21"/><circle cx="1006.2" cy="457.3" r="5.21"/><circle cx="1009.1" cy="456.8" r="5.21"/><circle cx="1011.4" cy="456.5" r="5.21"/><circle cx="1014.9" cy="457.2" r="5.21"/><circle cx="1017.7" cy="456.0" r="5.21"/><circle cx="1023.6" cy="456.6" r="5.21"/><circle cx="969.2" cy="459.4" r="5.21"/><circle cx="975.5" cy="458.8" r="5.21"/><circle cx="978.0" cy="458.6" r="5.21"/><circle cx="981.5" cy="459.7" r="5.21"/><circle cx="984.3" cy="459.8" r="5.21"/><circle cx="987.1" cy="458.3" r="5.21"/><circle cx="989.7" cy="460.1" r="5.21"/><circle cx="992.7" cy="459.6" r="5.21"/><circle cx="996.0" cy="458.3" r="5.21"/><circle cx="998.3" cy="459.5" r="5.21"/><circle cx="1002.0" cy="459.6" r="5.21"/><circle cx="1004.1" cy="458.7" r="5.21"/><circle cx="1008.2" cy="459.0" r="5.21"/><circle cx="1010.5" cy="458.8" r="5.21"/><circle cx="1013.6" cy="459.3" r="5.21"/><circle cx="1017.5" cy="458.3" r="5.21"/><circle cx="1019.5" cy="460.0" r="5.21"/><circle cx="1021.9" cy="459.5" r="5.21"/><circle cx="960.6" cy="461.7" r="5.21"/><circle cx="964.3" cy="461.6" r="5.21"/><circle cx="967.7" cy="462.2" r="5.21"/><circle cx="970.4" cy="462.7" r="5.21"/><circle cx="974.1" cy="461.3" r="5.21"/><circle cx="975.9" cy="461.3" r="5.21"/><circle cx="978.8" cy="461.8" r="5.21"/><circle cx="982.7" cy="461.0" r="5.21"/><circle cx="985.5" cy="461.4" r="5.21"/><circle cx="988.9" cy="461.1" r="5.21"/><circle cx="990.9" cy="462.3" r="5.21"/><circle cx="995.0" cy="462.4" r="5.21"/><circle cx="997.2" cy="461.0" r="5.21"/><circle cx="999.6" cy="461.1" r="5.21"/><circle cx="1002.9" cy="461.0" r="5.21"/><circle cx="1006.9" cy="461.3" r="5.21"/><circle cx="1009.9" cy="460.9" r="5.21"/><circle cx="1012.3" cy="460.9" r="5.21"/><circle cx="1015.8" cy="461.1" r="5.21"/><circle cx="1018.4" cy="462.0" r="5.21"/><circle cx="1020.4" cy="462.2" r="5.21"/><circle cx="962.7" cy="464.7" r="5.21"/><circle cx="965.4" cy="464.0" r="5.21"/><circle cx="968.8" cy="463.7" r="5.21"/><circle cx="970.9" cy="464.0" r="5.21"/><circle cx="973.9" cy="464.1" r="5.21"/><circle cx="978.2" cy="464.2" r="5.21"/><circle cx="981.2" cy="465.1" r="5.21"/><circle cx="983.6" cy="464.5" r="5.21"/><circle cx="986.2" cy="465.0" r="5.21"/><circle cx="990.3" cy="465.2" r="5.21"/><circle cx="993.1" cy="464.0" r="5.21"/><circle cx="995.5" cy="465.0" r="5.21"/><circle cx="998.4" cy="465.1" r="5.21"/><circle cx="1002.6" cy="464.7" r="5.21"/><circle cx="1004.5" cy="465.3" r="5.21"/><circle cx="1008.1" cy="464.2" r="5.21"/><circle cx="1010.2" cy="464.2" r="5.21"/><circle cx="1014.2" cy="463.8" r="5.21"/><circle cx="1017.0" cy="464.4" r="5.21"/><circle cx="1018.9" cy="464.3" r="5.21"/><circle cx="958.6" cy="467.3" r="5.21"/><circle cx="964.0" cy="466.6" r="5.21"/><circle cx="967.2" cy="466.4" r="5.21"/><circle cx="969.5" cy="466.5" r="5.21"/><circle cx="972.9" cy="466.3" r="5.21"/><circle cx="975.5" cy="466.9" r="5.21"/><circle cx="978.5" cy="466.6" r="5.21"/><circle cx="982.6" cy="466.6" r="5.21"/><circle cx="986.0" cy="467.3" r="5.21"/><circle cx="987.7" cy="467.5" r="5.21"/><circle cx="990.8" cy="467.6" r="5.21"/><circle cx="994.2" cy="466.2" r="5.21"/><circle cx="996.8" cy="466.5" r="5.21"/><circle cx="1001.1" cy="466.7" r="5.21"/><circle cx="1002.9" cy="467.2" r="5.21"/><circle cx="1007.0" cy="467.0" r="5.21"/><circle cx="1009.8" cy="467.1" r="5.21"/><circle cx="1012.6" cy="467.0" r="5.21"/><circle cx="1014.9" cy="466.4" r="5.21"/><circle cx="1019.1" cy="467.2" r="5.21"/><circle cx="1020.7" cy="467.2" r="5.21"/><circle cx="963.3" cy="469.3" r="5.21"/><circle cx="965.9" cy="470.5" r="5.21"/><circle cx="969.0" cy="470.3" r="5.21"/><circle cx="972.1" cy="469.0" r="5.21"/><circle cx="974.4" cy="469.9" r="5.21"/><circle cx="978.0" cy="468.9" r="5.21"/><circle cx="980.3" cy="469.7" r="5.21"/><circle cx="984.6" cy="469.1" r="5.21"/><circle cx="987.4" cy="469.8" r="5.21"/><circle cx="990.1" cy="469.0" r="5.21"/><circle cx="992.2" cy="469.5" r="5.21"/><circle cx="996.4" cy="470.3" r="5.21"/><circle cx="999.6" cy="470.5" r="5.21"/><circle cx="1002.4" cy="470.4" r="5.21"/><circle cx="1004.5" cy="469.9" r="5.21"/><circle cx="1007.5" cy="469.6" r="5.21"/><circle cx="1010.1" cy="470.2" r="5.21"/><circle cx="1014.1" cy="469.5" r="5.21"/><circle cx="1016.4" cy="468.9" r="5.21"/><circle cx="1019.3" cy="469.1" r="5.21"/><circle cx="959.1" cy="472.8" r="5.21"/><circle cx="961.0" cy="471.4" r="5.21"/><circle cx="963.7" cy="472.8" r="5.21"/><circle cx="967.7" cy="472.3" r="5.21"/><circle cx="969.4" cy="472.4" r="5.21"/><circle cx="973.3" cy="472.7" r="5.21"/><circle cx="976.1" cy="472.3" r="5.21"/><circle cx="978.7" cy="472.4" r="5.21"/><circle cx="981.6" cy="471.7" r="5.21"/><circle cx="986.0" cy="471.5" r="5.21"/><circle cx="988.1" cy="471.4" r="5.21"/><circle cx="991.5" cy="471.4" r="5.21"/><circle cx="993.9" cy="472.0" r="5.21"/><circle cx="996.6" cy="471.6" r="5.21"/><circle cx="999.9" cy="471.9" r="5.21"/><circle cx="1004.1" cy="472.1" r="5.21"/><circle cx="1006.0" cy="472.9" r="5.21"/><circle cx="1008.5" cy="471.8" r="5.21"/><circle cx="1012.0" cy="471.9" r="5.21"/><circle cx="1015.6" cy="471.4" r="5.21"/><circle cx="1020.7" cy="472.6" r="5.21"/><circle cx="962.1" cy="474.8" r="5.21"/><circle cx="965.0" cy="475.1" r="5.21"/><circle cx="968.2" cy="475.6" r="5.21"/><circle cx="971.8" cy="474.8" r="5.21"/><circle cx="975.6" cy="475.3" r="5.21"/><circle cx="977.4" cy="475.6" r="5.21"/><circle cx="981.5" cy="474.3" r="5.21"/><circle cx="983.0" cy="474.1" r="5.21"/><circle cx="985.9" cy="474.8" r="5.21"/><circle cx="990.2" cy="474.0" r="5.21"/><circle cx="993.6" cy="474.5" r="5.21"/><circle cx="996.2" cy="474.5" r="5.21"/><circle cx="999.6" cy="474.3" r="5.21"/><circle cx="1001.1" cy="474.9" r="5.21"/><circle cx="1005.6" cy="475.2" r="5.21"/><circle cx="1008.3" cy="475.4" r="5.21"/><circle cx="1011.0" cy="474.1" r="5.21"/><circle cx="1014.5" cy="475.7" r="5.21"/><circle cx="964.5" cy="478.2" r="5.21"/><circle cx="967.9" cy="476.7" r="5.21"/><circle cx="970.3" cy="477.8" r="5.21"/><circle cx="972.5" cy="478.1" r="5.21"/><circle cx="976.9" cy="477.0" r="5.21"/><circle cx="979.4" cy="477.0" r="5.21"/><circle cx="981.8" cy="477.5" r="5.21"/><circle cx="985.3" cy="477.1" r="5.21"/><circle cx="988.6" cy="477.0" r="5.21"/><circle cx="991.1" cy="477.0" r="5.21"/><circle cx="995.0" cy="477.2" r="5.21"/><circle cx="996.9" cy="478.3" r="5.21"/><circle cx="999.4" cy="476.6" r="5.21"/><circle cx="1003.5" cy="477.1" r="5.21"/><circle cx="1006.1" cy="477.2" r="5.21"/><circle cx="1009.3" cy="477.7" r="5.21"/><circle cx="959.9" cy="479.7" r="5.21"/><circle cx="963.6" cy="480.8" r="5.21"/><circle cx="966.3" cy="480.4" r="5.21"/><circle cx="968.1" cy="480.2" r="5.21"/><circle cx="972.2" cy="480.2" r="5.21"/><circle cx="975.2" cy="480.9" r="5.21"/><circle cx="978.6" cy="480.0" r="5.21"/><circle cx="980.7" cy="479.8" r="5.21"/><circle cx="983.8" cy="480.9" r="5.21"/><circle cx="986.5" cy="479.2" r="5.21"/><circle cx="990.1" cy="479.2" r="5.21"/><circle cx="992.6" cy="480.8" r="5.21"/><circle cx="994.9" cy="480.4" r="5.21"/><circle cx="998.1" cy="480.8" r="5.21"/><circle cx="1002.5" cy="480.6" r="5.21"/><circle cx="1005.1" cy="479.4" r="5.21"/><circle cx="1007.5" cy="479.8" r="5.21"/><circle cx="1012.9" cy="480.1" r="5.21"/><circle cx="957.6" cy="482.6" r="5.21"/><circle cx="963.7" cy="482.1" r="5.21"/><circle cx="967.2" cy="482.6" r="5.21"/><circle cx="969.6" cy="481.8" r="5.21"/><circle cx="973.8" cy="483.0" r="5.21"/><circle cx="975.9" cy="482.3" r="5.21"/><circle cx="979.1" cy="483.1" r="5.21"/><circle cx="981.4" cy="482.2" r="5.21"/><circle cx="985.2" cy="483.3" r="5.21"/><circle cx="988.5" cy="483.6" r="5.21"/><circle cx="991.9" cy="481.9" r="5.21"/><circle cx="993.6" cy="482.9" r="5.21"/><circle cx="996.5" cy="481.9" r="5.21"/><circle cx="1000.5" cy="482.5" r="5.21"/><circle cx="1003.5" cy="483.0" r="5.21"/><circle cx="1006.1" cy="482.1" r="5.21"/><circle cx="1008.4" cy="482.1" r="5.21"/><circle cx="959.6" cy="484.5" r="5.21"/><circle cx="963.3" cy="484.4" r="5.21"/><circle cx="964.9" cy="485.8" r="5.21"/><circle cx="967.9" cy="485.0" r="5.21"/><circle cx="971.3" cy="484.9" r="5.21"/><circle cx="975.5" cy="485.1" r="5.21"/><circle cx="978.3" cy="485.0" r="5.21"/><circle cx="980.5" cy="485.6" r="5.21"/><circle cx="983.6" cy="485.1" r="5.21"/><circle cx="986.9" cy="484.4" r="5.21"/><circle cx="990.6" cy="484.4" r="5.21"/><circle cx="992.4" cy="484.6" r="5.21"/><circle cx="996.4" cy="485.4" r="5.21"/><circle cx="998.3" cy="484.7" r="5.21"/><circle cx="1001.7" cy="484.7" r="5.21"/><circle cx="1005.2" cy="484.9" r="5.21"/><circle cx="1007.4" cy="485.1" r="5.21"/><circle cx="1011.2" cy="486.1" r="5.21"/><circle cx="958.4" cy="488.5" r="5.21"/><circle cx="963.7" cy="488.4" r="5.21"/><circle cx="967.0" cy="487.8" r="5.21"/><circle cx="970.3" cy="488.5" r="5.21"/><circle cx="973.0" cy="487.9" r="5.21"/><circle cx="976.9" cy="487.5" r="5.21"/><circle cx="978.8" cy="487.4" r="5.21"/><circle cx="982.6" cy="487.4" r="5.21"/><circle cx="986.0" cy="488.7" r="5.21"/><circle cx="989.0" cy="487.1" r="5.21"/><circle cx="990.9" cy="488.7" r="5.21"/><circle cx="994.6" cy="488.7" r="5.21"/><circle cx="997.4" cy="487.3" r="5.21"/><circle cx="1001.0" cy="488.6" r="5.21"/><circle cx="1003.0" cy="488.1" r="5.21"/><circle cx="1005.7" cy="488.6" r="5.21"/><circle cx="1009.5" cy="487.7" r="5.21"/><circle cx="963.2" cy="490.3" r="5.21"/><circle cx="966.2" cy="490.9" r="5.21"/><circle cx="969.1" cy="490.1" r="5.21"/><circle cx="971.2" cy="490.2" r="5.21"/><circle cx="974.0" cy="490.2" r="5.21"/><circle cx="981.4" cy="490.1" r="5.21"/><circle cx="987.2" cy="491.2" r="5.21"/><circle cx="989.2" cy="489.8" r="5.21"/><circle cx="993.2" cy="489.8" r="5.21"/><circle cx="995.0" cy="490.0" r="5.21"/><circle cx="999.0" cy="491.3" r="5.21"/><circle cx="1001.3" cy="489.7" r="5.21"/><circle cx="1003.9" cy="489.6" r="5.21"/><circle cx="1010.7" cy="489.8" r="5.21"/><circle cx="963.8" cy="493.1" r="5.21"/><circle cx="978.7" cy="493.0" r="5.21"/><circle cx="988.4" cy="492.7" r="5.21"/><circle cx="994.2" cy="492.7" r="5.21"/><circle cx="1001.1" cy="492.4" r="5.21"/><circle cx="962.4" cy="495.4" r="5.21"/><circle cx="966.5" cy="496.3" r="5.21"/><circle cx="968.1" cy="495.3" r="5.21"/><circle cx="954.6" cy="444.2" r="5.21"/><circle cx="959.4" cy="452.1" r="5.21"/><circle cx="956.9" cy="454.6" r="5.21"/><circle cx="954.4" cy="468.4" r="5.21"/><circle cx="968.8" cy="444.2" r="5.21"/><circle cx="990.9" cy="426.8" r="5.21"/><circle cx="1039.4" cy="431.2" r="5.21"/><circle cx="1033.1" cy="434.0" r="5.21"/><circle cx="1032.8" cy="476.5" r="5.21"/><circle cx="1017.5" cy="490.9" r="5.21"/><circle cx="1030.0" cy="465.2" r="5.21"/><circle cx="956.9" cy="479.0" r="5.21"/><circle cx="957.5" cy="491.5" r="5.21"/><circle cx="982.5" cy="433.4" r="5.21"/><circle cx="1025.0" cy="432.8" r="5.21"/><circle cx="941.5" cy="514.6" r="5.21"/><circle cx="945.1" cy="514.6" r="5.21"/><circle cx="948.2" cy="514.6" r="5.21"/><circle cx="952.2" cy="514.6" r="5.21"/><circle cx="955.3" cy="514.6" r="5.21"/><circle cx="958.6" cy="514.6" r="5.21"/><circle cx="962.0" cy="514.6" r="5.21"/><circle cx="965.4" cy="514.6" r="5.21"/><circle cx="969.0" cy="514.6" r="5.21"/><circle cx="972.5" cy="514.6" r="5.21"/><circle cx="975.7" cy="514.6" r="5.21"/><circle cx="979.3" cy="514.6" r="5.21"/><circle cx="982.6" cy="514.6" r="5.21"/><circle cx="986.2" cy="514.6" r="5.21"/><circle cx="989.5" cy="514.6" r="5.21"/><circle cx="993.0" cy="514.6" r="5.21"/><circle cx="995.8" cy="514.6" r="5.21"/><circle cx="999.4" cy="514.6" r="5.21"/><circle cx="1002.6" cy="514.6" r="5.21"/><circle cx="1006.6" cy="514.6" r="5.21"/><circle cx="1009.5" cy="514.6" r="5.21"/><circle cx="1013.5" cy="514.6" r="5.21"/></g>
<path class="d" d="M941.2,495.9 L959.8,483.4 M979.4,472.1 L1000.6,463.4 M1021.9,455.5 L1039.4,448.8"/>
</g>
<g id="panel15">
<rect x="1089.20" y="365.23" width="241.17" height="35.15" fill="#ccc"/>
<text class="t" transform="translate(1210.09 390.73) scale(0.985 0.98)" text-anchor="middle">15</text>
<g class="p"><circle cx="1145.7" cy="514.9" r="5.21"/><circle cx="1146.9" cy="514.9" r="5.21"/><circle cx="1149.9" cy="514.9" r="5.21"/><circle cx="1151.1" cy="514.9" r="5.21"/><circle cx="1151.7" cy="514.9" r="5.21"/><circle cx="1161.1" cy="514.9" r="5.21"/><circle cx="1162.7" cy="514.9" r="5.21"/><circle cx="1164.9" cy="514.9" r="5.21"/><circle cx="1166.3" cy="514.9" r="5.21"/><circle cx="1168.3" cy="514.9" r="5.21"/><circle cx="1170.1" cy="514.9" r="5.21"/><circle cx="1172.1" cy="514.9" r="5.21"/><circle cx="1173.8" cy="514.9" r="5.21"/><circle cx="1175.7" cy="514.9" r="5.21"/><circle cx="1177.6" cy="514.9" r="5.21"/><circle cx="1179.6" cy="514.9" r="5.21"/><circle cx="1181.1" cy="514.9" r="5.21"/><circle cx="1182.7" cy="514.9" r="5.21"/><circle cx="1184.6" cy="514.9" r="5.21"/><circle cx="1186.3" cy="514.9" r="5.21"/><circle cx="1188.5" cy="514.9" r="5.21"/></g>
</g>
<g id="panel16">
<rect x="71.20" y="541.18" width="241.17" height="35.15" fill="#ccc"/>
<text class="t" transform="translate(192.08 566.68) scale(0.985 0.98)" text-anchor="middle">16</text>
<g class="p"><circle cx="256.5" cy="622.5" r="5.21"/><circle cx="262.2" cy="627.7" r="5.21"/><circle cx="252.5" cy="632.3" r="5.21"/><circle cx="240.9" cy="627.4" r="5.21"/><circle cx="233.5" cy="628.2" r="5.21"/><circle cx="222.8" cy="628.5" r="5.21"/><circle cx="223.5" cy="630.0" r="5.21"/><circle cx="219.5" cy="634.9" r="5.21"/><circle cx="220.2" cy="641.9" r="5.21"/><circle cx="226.5" cy="641.9" r="5.21"/><circle cx="235.1" cy="643.4" r="5.21"/><circle cx="208.2" cy="652.7" r="5.21"/><circle cx="213.8" cy="651.2" r="5.21"/><circle cx="216.8" cy="650.5" r="5.21"/><circle cx="196.3" cy="655.7" r="5.21"/><circle cx="176.9" cy="656.9" r="5.21"/><circle cx="202.2" cy="662.9" r="5.21"/><circle cx="176.9" cy="669.1" r="5.21"/><circle cx="203.4" cy="670.3" r="5.21"/><circle cx="199.4" cy="672.5" r="5.21"/><circle cx="215.8" cy="669.8" r="5.21"/><circle cx="185.6" cy="676.5" r="5.21"/><circle cx="204.2" cy="678.8" r="5.21"/><circle cx="216.8" cy="678.8" r="5.21"/><circle cx="155.5" cy="677.7" r="5.21"/><circle cx="203.4" cy="679.1" r="5.21"/><circle cx="222.8" cy="629.2" r="5.21"/><circle cx="129.0" cy="690.7" r="5.21"/><circle cx="130.5" cy="690.7" r="5.21"/><circle cx="132.0" cy="690.7" r="5.21"/><circle cx="133.9" cy="690.7" r="5.21"/><circle cx="135.7" cy="690.7" r="5.21"/><circle cx="154.8" cy="690.7" r="5.21"/><circle cx="172.6" cy="690.7" r="5.21"/><circle cx="212.4" cy="690.7" r="5.21"/></g>
<path class="d" d="M129.3,692.9 L150.9,685.5 M172.2,677.7 L193.0,668.4 M212.4,656.5 L231.2,643.8 M249.6,630.4 L262.2,621.9"/>
<path class="a" d="M71.50,705.05V574.78M64.83,690.71H71.50M64.83,650.97H71.50M64.83,611.23H71.50"/>
<text class="t" transform="translate(58.40 699.31) scale(0.985 0.98)" text-anchor="end">0</text>
<text class="t" transform="translate(58.40 659.77) scale(0.985 0.98)" text-anchor="end">2</text>
<text class="t" transform="translate(58.40 619.73) scale(0.985 1.04)" text-anchor="end">4</text>
</g>
<g id="panel17">
<rect x="325.70" y="541.18" width="241.17" height="35.15" fill="#ccc"/>
<text class="t" transform="translate(446.58 566.68) scale(0.985 1.04)" text-anchor="middle">17</text>
<g class="p"><circle cx="407.1" cy="690.6" r="5.21"/><circle cx="409.0" cy="690.6" r="5.21"/><circle cx="410.9" cy="690.6" r="5.21"/><circle cx="412.6" cy="690.6" r="5.21"/><circle cx="414.5" cy="690.6" r="5.21"/><circle cx="416.0" cy="690.6" r="5.21"/><circle cx="418.0" cy="690.6" r="5.21"/><circle cx="419.9" cy="690.6" r="5.21"/><circle cx="421.4" cy="690.6" r="5.21"/><circle cx="423.5" cy="690.6" r="5.21"/><circle cx="424.8" cy="690.6" r="5.21"/><circle cx="426.6" cy="690.6" r="5.21"/><circle cx="428.9" cy="690.6" r="5.21"/><circle cx="430.5" cy="690.6" r="5.21"/><circle cx="438.0" cy="690.6" r="5.21"/></g>
<path class="a" d="M324.60,703.65H568.57M336.70,703.65V710.32M391.00,703.65V710.32M445.30,703.65V710.32M499.60,703.65V710.32M553.90,703.65V710.32"/>
<text class="t" transform="translate(336.70 732.55) scale(0.985 0.98)" text-anchor="middle">0.0</text>
<text class="t" transform="translate(391.00 732.55) scale(0.985 0.98)" text-anchor="middle">2.5</text>
<text class="t" transform="translate(445.30 732.55) scale(0.985 0.98)" text-anchor="middle">5.0</text>
<text class="t" transform="translate(499.60 732.55) scale(0.985 0.98)" text-anchor="middle">7.5</text>
<text class="t" transform="translate(553.90 732.55) scale(0.985 0.98)" text-anchor="middle">10.0</text>
</g>
<g id="panel18">
<rect x="580.20" y="541.18" width="241.17" height="35.15" fill="#ccc"/>
<text class="t" transform="translate(701.09 566.68) scale(0.985 0.98)" text-anchor="middle">18</text>
<g class="p"><circle cx="721.2" cy="619.7" r="5.21"/><circle cx="702.7" cy="622.5" r="5.21"/><circle cx="713.0" cy="628.2" r="5.21"/><circle cx="695.9" cy="630.1" r="5.21"/><circle cx="689.9" cy="634.9" r="5.21"/><circle cx="695.9" cy="635.6" r="5.21"/><circle cx="700.4" cy="638.6" r="5.21"/><circle cx="707.8" cy="635.6" r="5.21"/><circle cx="711.5" cy="634.1" r="5.21"/><circle cx="715.2" cy="634.1" r="5.21"/><circle cx="709.3" cy="639.3" r="5.21"/><circle cx="704.8" cy="641.6" r="5.21"/><circle cx="746.8" cy="639.0" r="5.21"/><circle cx="738.0" cy="644.8" r="5.21"/><circle cx="730.4" cy="648.3" r="5.21"/><circle cx="690.7" cy="647.2" r="5.21"/><circle cx="694.4" cy="647.5" r="5.21"/><circle cx="700.4" cy="650.2" r="5.21"/><circle cx="684.0" cy="660.9" r="5.21"/><circle cx="687.0" cy="659.4" r="5.21"/><circle cx="692.2" cy="662.4" r="5.21"/><circle cx="692.2" cy="666.1" r="5.21"/><circle cx="700.4" cy="660.9" r="5.21"/><circle cx="704.8" cy="662.4" r="5.21"/><circle cx="709.3" cy="659.4" r="5.21"/><circle cx="715.2" cy="663.9" r="5.21"/><circle cx="719.7" cy="659.4" r="5.21"/><circle cx="724.2" cy="658.7" r="5.21"/><circle cx="727.1" cy="657.9" r="5.21"/><circle cx="684.0" cy="665.4" r="5.21"/><circle cx="696.6" cy="635.3" r="5.21"/><circle cx="713.8" cy="634.4" r="5.21"/><circle cx="705.6" cy="662.1" r="5.21"/><circle cx="692.9" cy="647.5" r="5.21"/><circle cx="685.5" cy="662.4" r="5.21"/><circle cx="688.5" cy="663.9" r="5.21"/><circle cx="694.4" cy="661.7" r="5.21"/><circle cx="697.4" cy="663.1" r="5.21"/><circle cx="702.6" cy="661.7" r="5.21"/><circle cx="707.8" cy="663.1" r="5.21"/><circle cx="712.3" cy="661.7" r="5.21"/><circle cx="716.7" cy="661.7" r="5.21"/><circle cx="710.8" cy="665.4" r="5.21"/><circle cx="706.3" cy="659.4" r="5.21"/><circle cx="689.9" cy="660.9" r="5.21"/><circle cx="694.4" cy="665.4" r="5.21"/><circle cx="701.1" cy="663.9" r="5.21"/><circle cx="718.2" cy="662.4" r="5.21"/><circle cx="666.9" cy="690.7" r="5.21"/><circle cx="684.0" cy="690.7" r="5.21"/><circle cx="685.5" cy="690.7" r="5.21"/><circle cx="686.2" cy="690.7" r="5.21"/><circle cx="694.4" cy="690.7" r="5.21"/><circle cx="703.3" cy="690.7" r="5.21"/><circle cx="705.6" cy="690.7" r="5.21"/><circle cx="707.8" cy="690.7" r="5.21"/><circle cx="710.0" cy="690.7" r="5.21"/><circle cx="712.3" cy="690.7" r="5.21"/><circle cx="715.2" cy="690.7" r="5.21"/><circle cx="720.4" cy="690.7" r="5.21"/></g>
<path class="d" d="M667.3,666.9 L689.6,663.1 M712.3,659.9 L734.6,656.8"/>
<path class="a" d="M579.10,703.65H823.07M591.20,703.65V710.32M645.50,703.65V710.32M699.80,703.65V710.32M754.10,703.65V710.32M808.40,703.65V710.32"/>
<text class="t" transform="translate(591.20 732.55) scale(0.985 0.98)" text-anchor="middle">0.0</text>
<text class="t" transform="translate(645.50 732.55) scale(0.985 0.98)" text-anchor="middle">2.5</text>
<text class="t" transform="translate(699.80 732.55) scale(0.985 0.98)" text-anchor="middle">5.0</text>
<text class="t" transform="translate(754.10 732.55) scale(0.985 0.98)" text-anchor="middle">7.5</text>
<text class="t" transform="translate(808.40 732.55) scale(0.985 0.98)" text-anchor="middle">10.0</text>
</g>
<g id="panel19">
<rect x="834.70" y="541.18" width="241.17" height="35.15" fill="#ccc"/>
<text class="t" transform="translate(955.59 566.68) scale(0.985 0.98)" text-anchor="middle">19</text>
<g class="p"><circle cx="910.8" cy="690.6" r="5.21"/><circle cx="922.5" cy="690.6" r="5.21"/><circle cx="923.1" cy="690.6" r="5.21"/><circle cx="924.3" cy="690.6" r="5.21"/><circle cx="924.9" cy="690.6" r="5.21"/><circle cx="935.0" cy="690.6" r="5.21"/><circle cx="935.6" cy="690.6" r="5.21"/><circle cx="936.8" cy="690.6" r="5.21"/><circle cx="937.4" cy="690.6" r="5.21"/><circle cx="941.0" cy="690.6" r="5.21"/></g>
<path class="a" d="M833.60,703.65H1077.57M845.70,703.65V710.32M900.00,703.65V710.32M954.30,703.65V710.32M1008.60,703.65V710.32M1062.90,703.65V710.32"/>
<text class="t" transform="translate(845.70 732.55) scale(0.985 0.98)" text-anchor="middle">0.0</text>
<text class="t" transform="translate(900.00 732.55) scale(0.985 0.98)" text-anchor="middle">2.5</text>
<text class="t" transform="translate(954.30 732.55) scale(0.985 0.98)" text-anchor="middle">5.0</text>
<text class="t" transform="translate(1008.60 732.55) scale(0.985 0.98)" text-anchor="middle">7.5</text>
<text class="t" transform="translate(1062.90 732.55) scale(0.985 0.98)" text-anchor="middle">10.0</text>
</g>
<g id="panel20">
<rect x="1089.20" y="541.18" width="241.17" height="35.15" fill="#ccc"/>
<text class="t" transform="translate(1210.09 566.68) scale(0.985 0.98)" text-anchor="middle">20</text>
<g class="p"><circle cx="1180.8" cy="674.4" r="5.21"/><circle cx="1153.8" cy="690.5" r="5.21"/><circle cx="1207.4" cy="690.5" r="5.21"/><circle cx="1217.9" cy="690.5" r="5.21"/><circle cx="1158.9" cy="690.5" r="5.21"/><circle cx="1160.5" cy="690.5" r="5.21"/><circle cx="1162.0" cy="690.5" r="5.21"/><circle cx="1163.7" cy="690.5" r="5.21"/><circle cx="1166.1" cy="690.5" r="5.21"/><circle cx="1167.4" cy="690.5" r="5.21"/><circle cx="1169.1" cy="690.5" r="5.21"/><circle cx="1171.2" cy="690.5" r="5.21"/><circle cx="1173.1" cy="690.5" r="5.21"/><circle cx="1174.8" cy="690.5" r="5.21"/><circle cx="1176.2" cy="690.5" r="5.21"/><circle cx="1178.6" cy="690.5" r="5.21"/><circle cx="1180.3" cy="690.5" r="5.21"/><circle cx="1181.8" cy="690.5" r="5.21"/><circle cx="1184.1" cy="690.5" r="5.21"/><circle cx="1185.6" cy="690.5" r="5.21"/><circle cx="1187.6" cy="690.5" r="5.21"/><circle cx="1188.8" cy="690.5" r="5.21"/><circle cx="1190.8" cy="690.5" r="5.21"/><circle cx="1193.0" cy="690.5" r="5.21"/><circle cx="1194.7" cy="690.5" r="5.21"/></g>
<path class="d" d="M1154.0,690.5 L1176.8,690.5 M1200.0,690.5 L1217.9,690.5"/>
<path class="a" d="M1088.10,703.65H1332.07M1100.20,703.65V710.32M1154.50,703.65V710.32M1208.80,703.65V710.32M1263.10,703.65V710.32M1317.40,703.65V710.32"/>
<text class="t" transform="translate(1100.20 732.55) scale(0.985 0.98)" text-anchor="middle">0.0</text>
<text class="t" transform="translate(1154.50 732.55) scale(0.985 0.98)" text-anchor="middle">2.5</text>
<text class="t" transform="translate(1208.80 732.55) scale(0.985 0.98)" text-anchor="middle">5.0</text>
<text class="t" transform="translate(1263.10 732.55) scale(0.985 0.98)" text-anchor="middle">7.5</text>
<text class="t" transform="translate(1317.40 732.55) scale(0.985 0.98)" text-anchor="middle">10.0</text>
</g>
<g id="panel21">
<rect x="71.20" y="717.13" width="241.17" height="35.15" fill="#ccc"/>
<text class="t" transform="translate(192.08 742.63) scale(0.985 0.98)" text-anchor="middle">21</text>
<g class="p"><circle cx="253.3" cy="770.6" r="5.21"/><circle cx="254.8" cy="773.6" r="5.21"/><circle cx="237.4" cy="778.3" r="5.21"/><circle cx="232.7" cy="785.0" r="5.21"/><circle cx="221.3" cy="790.5" r="5.21"/><circle cx="256.7" cy="800.6" r="5.21"/><circle cx="233.5" cy="802.1" r="5.21"/><circle cx="222.8" cy="805.9" r="5.21"/><circle cx="239.1" cy="805.9" r="5.21"/><circle cx="229.5" cy="808.8" r="5.21"/><circle cx="209.1" cy="809.9" r="5.21"/><circle cx="238.8" cy="815.2" r="5.21"/><circle cx="211.6" cy="817.5" r="5.21"/><circle cx="201.2" cy="820.7" r="5.21"/><circle cx="198.2" cy="823.3" r="5.21"/><circle cx="209.4" cy="823.0" r="5.21"/><circle cx="187.1" cy="826.2" r="5.21"/><circle cx="264.0" cy="821.2" r="5.21"/><circle cx="225.0" cy="832.2" r="5.21"/><circle cx="261.2" cy="834.4" r="5.21"/><circle cx="226.9" cy="844.8" r="5.21"/><circle cx="155.8" cy="866.9" r="5.21"/><circle cx="157.3" cy="866.9" r="5.21"/><circle cx="169.2" cy="866.9" r="5.21"/><circle cx="176.6" cy="866.9" r="5.21"/><circle cx="179.6" cy="866.9" r="5.21"/></g>
<path class="d" d="M155.5,871.3 L171.9,856.0 M187.8,839.3 L204.6,823.7 M223.2,810.3 L233.9,805.1 L243.6,801.8"/>
<path class="a" d="M71.50,881.00V750.73M64.83,866.66H71.50M64.83,826.92H71.50M64.83,787.18H71.50"/>
<text class="t" transform="translate(58.40 875.26) scale(0.985 0.98)" text-anchor="end">0</text>
<text class="t" transform="translate(58.40 835.72) scale(0.985 0.98)" text-anchor="end">2</text>
<text class="t" transform="translate(58.40 795.68) scale(0.985 1.04)" text-anchor="end">4</text>
<path class="a" d="M70.10,879.60H314.07M82.20,879.60V886.27M136.50,879.60V886.27M190.80,879.60V886.27M245.10,879.60V886.27M299.40,879.60V886.27"/>
<text class="t" transform="translate(82.20 908.50) scale(0.985 0.98)" text-anchor="middle">0.0</text>
<text class="t" transform="translate(136.50 908.50) scale(0.985 0.98)" text-anchor="middle">2.5</text>
<text class="t" transform="translate(190.80 908.50) scale(0.985 0.98)" text-anchor="middle">5.0</text>
<text class="t" transform="translate(245.10 908.50) scale(0.985 0.98)" text-anchor="middle">7.5</text>
<text class="t" transform="translate(299.40 908.50) scale(0.985 0.98)" text-anchor="middle">10.0</text>
</g>
<text class="T" transform="translate(700.50 940.80) scale(1 1.06)" text-anchor="middle">CD127</text>
<text class="T" transform="translate(32.90 464.50) rotate(-90) scale(1 1.03)" text-anchor="middle">Expression (logcounts)</text>
</svg></body></html>
